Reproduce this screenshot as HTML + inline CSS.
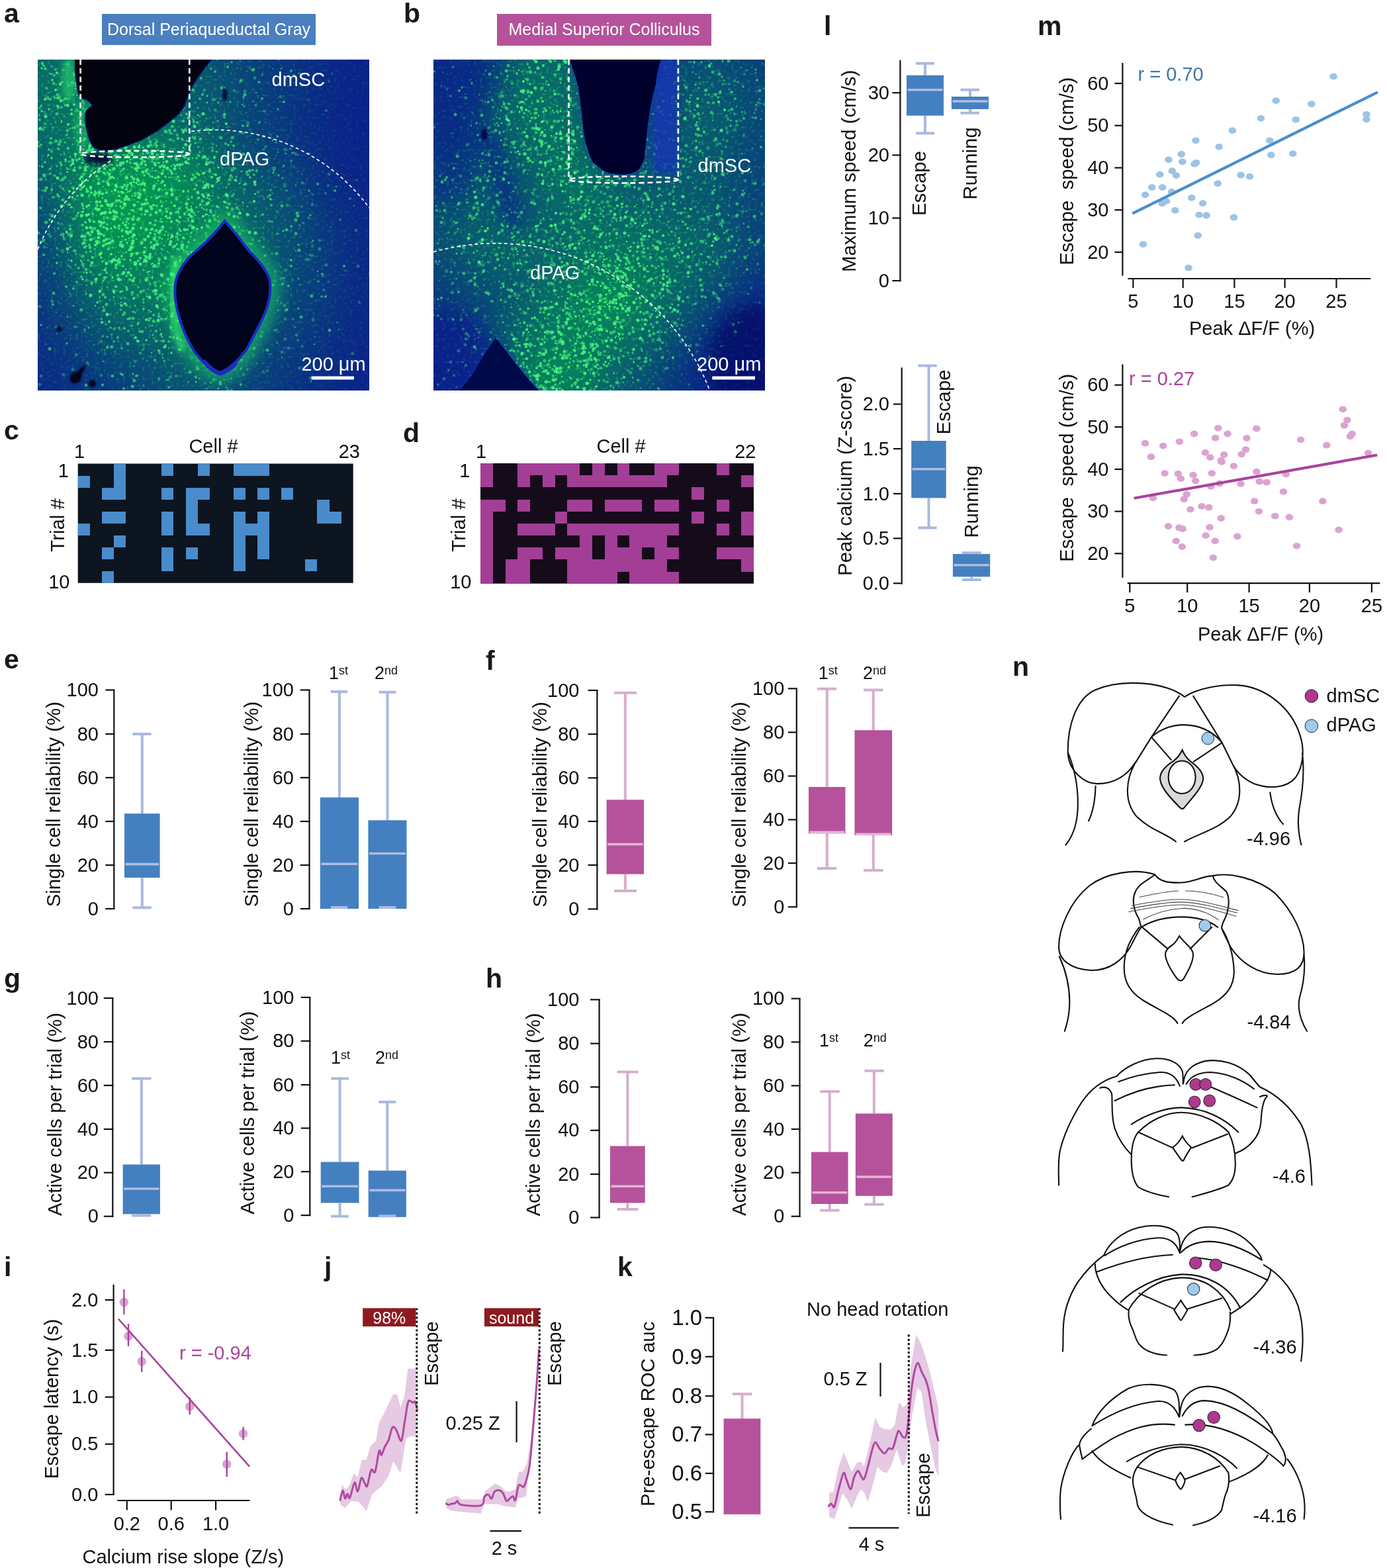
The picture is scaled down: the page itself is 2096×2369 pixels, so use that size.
<!DOCTYPE html><html><head><meta charset="utf-8"><title>Figure</title><style>html,body{margin:0;padding:0;background:#fff;}svg{display:block;}</style></head><body><svg width="2096" height="2369" viewBox="0 0 2096 2369" font-family="'Liberation Sans', Arial, Helvetica, sans-serif" font-size="29" fill="#111"><defs>
<filter id="bl12" x="-30%" y="-30%" width="160%" height="160%" color-interpolation-filters="sRGB"><feGaussianBlur stdDeviation="12"/></filter>
<filter id="bl25" x="-40%" y="-40%" width="180%" height="180%" color-interpolation-filters="sRGB"><feGaussianBlur stdDeviation="25"/></filter>
<filter id="bl40" x="-50%" y="-50%" width="200%" height="200%" color-interpolation-filters="sRGB"><feGaussianBlur stdDeviation="40"/></filter>
<filter id="bl4" x="-20%" y="-20%" width="140%" height="140%" color-interpolation-filters="sRGB"><feGaussianBlur stdDeviation="4"/></filter>
<filter id="bl2" x="-20%" y="-20%" width="140%" height="140%" color-interpolation-filters="sRGB"><feGaussianBlur stdDeviation="1.6"/></filter>
<filter id="spkA" x="0" y="0" width="501" height="500" filterUnits="userSpaceOnUse" color-interpolation-filters="sRGB">
 <feTurbulence type="fractalNoise" baseFrequency="0.21" numOctaves="1" seed="11" result="t"/>
 <feColorMatrix in="t" type="matrix" values="0 0 0 0 0.15  0 0 0 0 0.95  0 0 0 0 0.4  8 0 0 0 -4.55"/>
 <feGaussianBlur stdDeviation="0.6"/>
</filter>
<filter id="spkB" x="0" y="0" width="501" height="500" filterUnits="userSpaceOnUse" color-interpolation-filters="sRGB">
 <feTurbulence type="fractalNoise" baseFrequency="0.2" numOctaves="1" seed="5" result="t"/>
 <feColorMatrix in="t" type="matrix" values="0 0 0 0 0.15  0 0 0 0 0.95  0 0 0 0 0.4  8 0 0 0 -4.55"/>
 <feGaussianBlur stdDeviation="0.6"/>
</filter>

<pattern id="dotP" width="40" height="40" patternUnits="userSpaceOnUse" fill="#3cf070"><circle cx="13.7" cy="7.4" r="2.1" fill-opacity="0.58"/><circle cx="21.3" cy="15.2" r="1.4" fill-opacity="0.78"/><circle cx="3.3" cy="17.6" r="1.4" fill-opacity="0.59"/><circle cx="17.3" cy="31.8" r="1.5" fill-opacity="0.65"/><circle cx="24.6" cy="36.1" r="2.1" fill-opacity="0.73"/><circle cx="37.1" cy="3.7" r="2.4" fill-opacity="0.68"/><circle cx="7.2" cy="6.2" r="1.7" fill-opacity="0.92"/><circle cx="8.5" cy="22.9" r="2.1" fill-opacity="0.72"/><circle cx="21.7" cy="4.3" r="1.4" fill-opacity="0.64"/><circle cx="26.5" cy="17.4" r="1.7" fill-opacity="0.81"/><circle cx="18.3" cy="12.8" r="2.3" fill-opacity="0.86"/></pattern>
<filter id="jitA" x="0" y="0" width="501" height="500" filterUnits="userSpaceOnUse" color-interpolation-filters="sRGB"><feTurbulence type="fractalNoise" baseFrequency="0.03" numOctaves="1" seed="3" result="t"/><feDisplacementMap in="SourceGraphic" in2="t" scale="40" xChannelSelector="R" yChannelSelector="G"/></filter>
<filter id="jitB" x="0" y="0" width="501" height="500" filterUnits="userSpaceOnUse" color-interpolation-filters="sRGB"><feTurbulence type="fractalNoise" baseFrequency="0.03" numOctaves="1" seed="9" result="t"/><feDisplacementMap in="SourceGraphic" in2="t" scale="40" xChannelSelector="R" yChannelSelector="G"/></filter>
<clipPath id="clipImg"><rect x="0" y="0" width="501" height="500"/></clipPath>
</defs>
<defs><mask id="mA" maskUnits="userSpaceOnUse" x="0" y="0" width="501" height="500" mask-type="luminance">
<rect x="0" y="0" width="501" height="500" fill="#000"/>
<g filter="url(#bl25)">
<rect x="-30" y="-30" width="80.6" height="80.5" fill="#fff" fill-opacity="0.68"/>
<rect x="50.1" y="-30" width="50.6" height="80.5" fill="#fff" fill-opacity="0.71"/>
<rect x="100.2" y="-30" width="50.6" height="80.5" fill="#fff" fill-opacity="0.66"/>
<rect x="150.3" y="-30" width="50.6" height="80.5" fill="#fff" fill-opacity="0.57"/>
<rect x="200.4" y="-30" width="50.6" height="80.5" fill="#fff" fill-opacity="0.53"/>
<rect x="250.5" y="-30" width="50.6" height="80.5" fill="#fff" fill-opacity="0.49"/>
<rect x="300.6" y="-30" width="50.6" height="80.5" fill="#fff" fill-opacity="0.39"/>
<rect x="350.7" y="-30" width="50.6" height="80.5" fill="#fff" fill-opacity="0.32"/>
<rect x="400.8" y="-30" width="50.6" height="80.5" fill="#fff" fill-opacity="0.25"/>
<rect x="450.9" y="-30" width="80.6" height="80.5" fill="#fff" fill-opacity="0.19"/>
<rect x="-30" y="50" width="80.6" height="50.5" fill="#fff" fill-opacity="0.68"/>
<rect x="50.1" y="50" width="50.6" height="50.5" fill="#fff" fill-opacity="0.71"/>
<rect x="100.2" y="50" width="50.6" height="50.5" fill="#fff" fill-opacity="0.66"/>
<rect x="150.3" y="50" width="50.6" height="50.5" fill="#fff" fill-opacity="0.62"/>
<rect x="200.4" y="50" width="50.6" height="50.5" fill="#fff" fill-opacity="0.57"/>
<rect x="250.5" y="50" width="50.6" height="50.5" fill="#fff" fill-opacity="0.51"/>
<rect x="300.6" y="50" width="50.6" height="50.5" fill="#fff" fill-opacity="0.39"/>
<rect x="350.7" y="50" width="50.6" height="50.5" fill="#fff" fill-opacity="0.32"/>
<rect x="400.8" y="50" width="50.6" height="50.5" fill="#fff" fill-opacity="0.23"/>
<rect x="450.9" y="50" width="80.6" height="50.5" fill="#fff" fill-opacity="0.19"/>
<rect x="-30" y="100" width="80.6" height="50.5" fill="#fff" fill-opacity="0.64"/>
<rect x="50.1" y="100" width="50.6" height="50.5" fill="#fff" fill-opacity="0.76"/>
<rect x="100.2" y="100" width="50.6" height="50.5" fill="#fff" fill-opacity="0.74"/>
<rect x="150.3" y="100" width="50.6" height="50.5" fill="#fff" fill-opacity="0.70"/>
<rect x="200.4" y="100" width="50.6" height="50.5" fill="#fff" fill-opacity="0.68"/>
<rect x="250.5" y="100" width="50.6" height="50.5" fill="#fff" fill-opacity="0.53"/>
<rect x="300.6" y="100" width="50.6" height="50.5" fill="#fff" fill-opacity="0.41"/>
<rect x="350.7" y="100" width="50.6" height="50.5" fill="#fff" fill-opacity="0.32"/>
<rect x="400.8" y="100" width="50.6" height="50.5" fill="#fff" fill-opacity="0.23"/>
<rect x="450.9" y="100" width="80.6" height="50.5" fill="#fff" fill-opacity="0.19"/>
<rect x="-30" y="150" width="80.6" height="50.5" fill="#fff" fill-opacity="0.57"/>
<rect x="50.1" y="150" width="50.6" height="50.5" fill="#fff" fill-opacity="0.85"/>
<rect x="100.2" y="150" width="50.6" height="50.5" fill="#fff" fill-opacity="0.92"/>
<rect x="150.3" y="150" width="50.6" height="50.5" fill="#fff" fill-opacity="0.92"/>
<rect x="200.4" y="150" width="50.6" height="50.5" fill="#fff" fill-opacity="0.85"/>
<rect x="250.5" y="150" width="50.6" height="50.5" fill="#fff" fill-opacity="0.66"/>
<rect x="300.6" y="150" width="50.6" height="50.5" fill="#fff" fill-opacity="0.51"/>
<rect x="350.7" y="150" width="50.6" height="50.5" fill="#fff" fill-opacity="0.41"/>
<rect x="400.8" y="150" width="50.6" height="50.5" fill="#fff" fill-opacity="0.28"/>
<rect x="450.9" y="150" width="80.6" height="50.5" fill="#fff" fill-opacity="0.20"/>
<rect x="-30" y="200" width="80.6" height="50.5" fill="#fff" fill-opacity="0.51"/>
<rect x="50.1" y="200" width="50.6" height="50.5" fill="#fff" fill-opacity="0.87"/>
<rect x="100.2" y="200" width="50.6" height="50.5" fill="#fff" fill-opacity="0.96"/>
<rect x="150.3" y="200" width="50.6" height="50.5" fill="#fff" fill-opacity="0.92"/>
<rect x="200.4" y="200" width="50.6" height="50.5" fill="#fff" fill-opacity="0.83"/>
<rect x="250.5" y="200" width="50.6" height="50.5" fill="#fff" fill-opacity="0.68"/>
<rect x="300.6" y="200" width="50.6" height="50.5" fill="#fff" fill-opacity="0.57"/>
<rect x="350.7" y="200" width="50.6" height="50.5" fill="#fff" fill-opacity="0.49"/>
<rect x="400.8" y="200" width="50.6" height="50.5" fill="#fff" fill-opacity="0.32"/>
<rect x="450.9" y="200" width="80.6" height="50.5" fill="#fff" fill-opacity="0.22"/>
<rect x="-30" y="250" width="80.6" height="50.5" fill="#fff" fill-opacity="0.44"/>
<rect x="50.1" y="250" width="50.6" height="50.5" fill="#fff" fill-opacity="0.81"/>
<rect x="100.2" y="250" width="50.6" height="50.5" fill="#fff" fill-opacity="0.92"/>
<rect x="150.3" y="250" width="50.6" height="50.5" fill="#fff" fill-opacity="0.87"/>
<rect x="200.4" y="250" width="50.6" height="50.5" fill="#fff" fill-opacity="0.76"/>
<rect x="250.5" y="250" width="50.6" height="50.5" fill="#fff" fill-opacity="0.64"/>
<rect x="300.6" y="250" width="50.6" height="50.5" fill="#fff" fill-opacity="0.56"/>
<rect x="350.7" y="250" width="50.6" height="50.5" fill="#fff" fill-opacity="0.47"/>
<rect x="400.8" y="250" width="50.6" height="50.5" fill="#fff" fill-opacity="0.36"/>
<rect x="450.9" y="250" width="80.6" height="50.5" fill="#fff" fill-opacity="0.23"/>
<rect x="-30" y="300" width="80.6" height="50.5" fill="#fff" fill-opacity="0.39"/>
<rect x="50.1" y="300" width="50.6" height="50.5" fill="#fff" fill-opacity="0.68"/>
<rect x="100.2" y="300" width="50.6" height="50.5" fill="#fff" fill-opacity="0.79"/>
<rect x="150.3" y="300" width="50.6" height="50.5" fill="#fff" fill-opacity="0.76"/>
<rect x="200.4" y="300" width="50.6" height="50.5" fill="#fff" fill-opacity="0.74"/>
<rect x="250.5" y="300" width="50.6" height="50.5" fill="#fff" fill-opacity="0.66"/>
<rect x="300.6" y="300" width="50.6" height="50.5" fill="#fff" fill-opacity="0.53"/>
<rect x="350.7" y="300" width="50.6" height="50.5" fill="#fff" fill-opacity="0.45"/>
<rect x="400.8" y="300" width="50.6" height="50.5" fill="#fff" fill-opacity="0.36"/>
<rect x="450.9" y="300" width="80.6" height="50.5" fill="#fff" fill-opacity="0.23"/>
<rect x="-30" y="350" width="80.6" height="50.5" fill="#fff" fill-opacity="0.34"/>
<rect x="50.1" y="350" width="50.6" height="50.5" fill="#fff" fill-opacity="0.53"/>
<rect x="100.2" y="350" width="50.6" height="50.5" fill="#fff" fill-opacity="0.66"/>
<rect x="150.3" y="350" width="50.6" height="50.5" fill="#fff" fill-opacity="0.68"/>
<rect x="200.4" y="350" width="50.6" height="50.5" fill="#fff" fill-opacity="0.68"/>
<rect x="250.5" y="350" width="50.6" height="50.5" fill="#fff" fill-opacity="0.62"/>
<rect x="300.6" y="350" width="50.6" height="50.5" fill="#fff" fill-opacity="0.49"/>
<rect x="350.7" y="350" width="50.6" height="50.5" fill="#fff" fill-opacity="0.41"/>
<rect x="400.8" y="350" width="50.6" height="50.5" fill="#fff" fill-opacity="0.34"/>
<rect x="450.9" y="350" width="80.6" height="50.5" fill="#fff" fill-opacity="0.23"/>
<rect x="-30" y="400" width="80.6" height="50.5" fill="#fff" fill-opacity="0.30"/>
<rect x="50.1" y="400" width="50.6" height="50.5" fill="#fff" fill-opacity="0.41"/>
<rect x="100.2" y="400" width="50.6" height="50.5" fill="#fff" fill-opacity="0.53"/>
<rect x="150.3" y="400" width="50.6" height="50.5" fill="#fff" fill-opacity="0.57"/>
<rect x="200.4" y="400" width="50.6" height="50.5" fill="#fff" fill-opacity="0.62"/>
<rect x="250.5" y="400" width="50.6" height="50.5" fill="#fff" fill-opacity="0.57"/>
<rect x="300.6" y="400" width="50.6" height="50.5" fill="#fff" fill-opacity="0.45"/>
<rect x="350.7" y="400" width="50.6" height="50.5" fill="#fff" fill-opacity="0.36"/>
<rect x="400.8" y="400" width="50.6" height="50.5" fill="#fff" fill-opacity="0.30"/>
<rect x="450.9" y="400" width="80.6" height="50.5" fill="#fff" fill-opacity="0.22"/>
<rect x="-30" y="450" width="80.6" height="80.5" fill="#fff" fill-opacity="0.25"/>
<rect x="50.1" y="450" width="50.6" height="80.5" fill="#fff" fill-opacity="0.32"/>
<rect x="100.2" y="450" width="50.6" height="80.5" fill="#fff" fill-opacity="0.39"/>
<rect x="150.3" y="450" width="50.6" height="80.5" fill="#fff" fill-opacity="0.45"/>
<rect x="200.4" y="450" width="50.6" height="80.5" fill="#fff" fill-opacity="0.53"/>
<rect x="250.5" y="450" width="50.6" height="80.5" fill="#fff" fill-opacity="0.49"/>
<rect x="300.6" y="450" width="50.6" height="80.5" fill="#fff" fill-opacity="0.41"/>
<rect x="350.7" y="450" width="50.6" height="80.5" fill="#fff" fill-opacity="0.32"/>
<rect x="400.8" y="450" width="50.6" height="80.5" fill="#fff" fill-opacity="0.25"/>
<rect x="450.9" y="450" width="80.6" height="80.5" fill="#fff" fill-opacity="0.20"/>
</g>
</mask></defs>
<defs><mask id="mB" maskUnits="userSpaceOnUse" x="0" y="0" width="501" height="500" mask-type="luminance">
<rect x="0" y="0" width="501" height="500" fill="#000"/>
<g filter="url(#bl25)">
<rect x="-30" y="-30" width="80.6" height="80.5" fill="#fff" fill-opacity="0.28"/>
<rect x="50.1" y="-30" width="50.6" height="80.5" fill="#fff" fill-opacity="0.32"/>
<rect x="100.2" y="-30" width="50.6" height="80.5" fill="#fff" fill-opacity="0.62"/>
<rect x="150.3" y="-30" width="50.6" height="80.5" fill="#fff" fill-opacity="0.66"/>
<rect x="200.4" y="-30" width="50.6" height="80.5" fill="#fff" fill-opacity="0.57"/>
<rect x="250.5" y="-30" width="50.6" height="80.5" fill="#fff" fill-opacity="0.49"/>
<rect x="300.6" y="-30" width="50.6" height="80.5" fill="#fff" fill-opacity="0.41"/>
<rect x="350.7" y="-30" width="50.6" height="80.5" fill="#fff" fill-opacity="0.45"/>
<rect x="400.8" y="-30" width="50.6" height="80.5" fill="#fff" fill-opacity="0.49"/>
<rect x="450.9" y="-30" width="80.6" height="80.5" fill="#fff" fill-opacity="0.41"/>
<rect x="-30" y="50" width="80.6" height="50.5" fill="#fff" fill-opacity="0.28"/>
<rect x="50.1" y="50" width="50.6" height="50.5" fill="#fff" fill-opacity="0.41"/>
<rect x="100.2" y="50" width="50.6" height="50.5" fill="#fff" fill-opacity="0.66"/>
<rect x="150.3" y="50" width="50.6" height="50.5" fill="#fff" fill-opacity="0.68"/>
<rect x="200.4" y="50" width="50.6" height="50.5" fill="#fff" fill-opacity="0.57"/>
<rect x="250.5" y="50" width="50.6" height="50.5" fill="#fff" fill-opacity="0.49"/>
<rect x="300.6" y="50" width="50.6" height="50.5" fill="#fff" fill-opacity="0.41"/>
<rect x="350.7" y="50" width="50.6" height="50.5" fill="#fff" fill-opacity="0.53"/>
<rect x="400.8" y="50" width="50.6" height="50.5" fill="#fff" fill-opacity="0.57"/>
<rect x="450.9" y="50" width="80.6" height="50.5" fill="#fff" fill-opacity="0.45"/>
<rect x="-30" y="100" width="80.6" height="50.5" fill="#fff" fill-opacity="0.32"/>
<rect x="50.1" y="100" width="50.6" height="50.5" fill="#fff" fill-opacity="0.45"/>
<rect x="100.2" y="100" width="50.6" height="50.5" fill="#fff" fill-opacity="0.57"/>
<rect x="150.3" y="100" width="50.6" height="50.5" fill="#fff" fill-opacity="0.70"/>
<rect x="200.4" y="100" width="50.6" height="50.5" fill="#fff" fill-opacity="0.62"/>
<rect x="250.5" y="100" width="50.6" height="50.5" fill="#fff" fill-opacity="0.49"/>
<rect x="300.6" y="100" width="50.6" height="50.5" fill="#fff" fill-opacity="0.41"/>
<rect x="350.7" y="100" width="50.6" height="50.5" fill="#fff" fill-opacity="0.53"/>
<rect x="400.8" y="100" width="50.6" height="50.5" fill="#fff" fill-opacity="0.53"/>
<rect x="450.9" y="100" width="80.6" height="50.5" fill="#fff" fill-opacity="0.41"/>
<rect x="-30" y="150" width="80.6" height="50.5" fill="#fff" fill-opacity="0.41"/>
<rect x="50.1" y="150" width="50.6" height="50.5" fill="#fff" fill-opacity="0.53"/>
<rect x="100.2" y="150" width="50.6" height="50.5" fill="#fff" fill-opacity="0.45"/>
<rect x="150.3" y="150" width="50.6" height="50.5" fill="#fff" fill-opacity="0.68"/>
<rect x="200.4" y="150" width="50.6" height="50.5" fill="#fff" fill-opacity="0.70"/>
<rect x="250.5" y="150" width="50.6" height="50.5" fill="#fff" fill-opacity="0.53"/>
<rect x="300.6" y="150" width="50.6" height="50.5" fill="#fff" fill-opacity="0.51"/>
<rect x="350.7" y="150" width="50.6" height="50.5" fill="#fff" fill-opacity="0.53"/>
<rect x="400.8" y="150" width="50.6" height="50.5" fill="#fff" fill-opacity="0.51"/>
<rect x="450.9" y="150" width="80.6" height="50.5" fill="#fff" fill-opacity="0.41"/>
<rect x="-30" y="200" width="80.6" height="50.5" fill="#fff" fill-opacity="0.45"/>
<rect x="50.1" y="200" width="50.6" height="50.5" fill="#fff" fill-opacity="0.53"/>
<rect x="100.2" y="200" width="50.6" height="50.5" fill="#fff" fill-opacity="0.45"/>
<rect x="150.3" y="200" width="50.6" height="50.5" fill="#fff" fill-opacity="0.57"/>
<rect x="200.4" y="200" width="50.6" height="50.5" fill="#fff" fill-opacity="0.66"/>
<rect x="250.5" y="200" width="50.6" height="50.5" fill="#fff" fill-opacity="0.62"/>
<rect x="300.6" y="200" width="50.6" height="50.5" fill="#fff" fill-opacity="0.57"/>
<rect x="350.7" y="200" width="50.6" height="50.5" fill="#fff" fill-opacity="0.53"/>
<rect x="400.8" y="200" width="50.6" height="50.5" fill="#fff" fill-opacity="0.51"/>
<rect x="450.9" y="200" width="80.6" height="50.5" fill="#fff" fill-opacity="0.41"/>
<rect x="-30" y="250" width="80.6" height="50.5" fill="#fff" fill-opacity="0.49"/>
<rect x="50.1" y="250" width="50.6" height="50.5" fill="#fff" fill-opacity="0.62"/>
<rect x="100.2" y="250" width="50.6" height="50.5" fill="#fff" fill-opacity="0.62"/>
<rect x="150.3" y="250" width="50.6" height="50.5" fill="#fff" fill-opacity="0.57"/>
<rect x="200.4" y="250" width="50.6" height="50.5" fill="#fff" fill-opacity="0.66"/>
<rect x="250.5" y="250" width="50.6" height="50.5" fill="#fff" fill-opacity="0.68"/>
<rect x="300.6" y="250" width="50.6" height="50.5" fill="#fff" fill-opacity="0.66"/>
<rect x="350.7" y="250" width="50.6" height="50.5" fill="#fff" fill-opacity="0.62"/>
<rect x="400.8" y="250" width="50.6" height="50.5" fill="#fff" fill-opacity="0.57"/>
<rect x="450.9" y="250" width="80.6" height="50.5" fill="#fff" fill-opacity="0.41"/>
<rect x="-30" y="300" width="80.6" height="50.5" fill="#fff" fill-opacity="0.41"/>
<rect x="50.1" y="300" width="50.6" height="50.5" fill="#fff" fill-opacity="0.49"/>
<rect x="100.2" y="300" width="50.6" height="50.5" fill="#fff" fill-opacity="0.53"/>
<rect x="150.3" y="300" width="50.6" height="50.5" fill="#fff" fill-opacity="0.62"/>
<rect x="200.4" y="300" width="50.6" height="50.5" fill="#fff" fill-opacity="0.70"/>
<rect x="250.5" y="300" width="50.6" height="50.5" fill="#fff" fill-opacity="0.79"/>
<rect x="300.6" y="300" width="50.6" height="50.5" fill="#fff" fill-opacity="0.70"/>
<rect x="350.7" y="300" width="50.6" height="50.5" fill="#fff" fill-opacity="0.62"/>
<rect x="400.8" y="300" width="50.6" height="50.5" fill="#fff" fill-opacity="0.53"/>
<rect x="450.9" y="300" width="80.6" height="50.5" fill="#fff" fill-opacity="0.32"/>
<rect x="-30" y="350" width="80.6" height="50.5" fill="#fff" fill-opacity="0.32"/>
<rect x="50.1" y="350" width="50.6" height="50.5" fill="#fff" fill-opacity="0.41"/>
<rect x="100.2" y="350" width="50.6" height="50.5" fill="#fff" fill-opacity="0.53"/>
<rect x="150.3" y="350" width="50.6" height="50.5" fill="#fff" fill-opacity="0.66"/>
<rect x="200.4" y="350" width="50.6" height="50.5" fill="#fff" fill-opacity="0.79"/>
<rect x="250.5" y="350" width="50.6" height="50.5" fill="#fff" fill-opacity="0.87"/>
<rect x="300.6" y="350" width="50.6" height="50.5" fill="#fff" fill-opacity="0.70"/>
<rect x="350.7" y="350" width="50.6" height="50.5" fill="#fff" fill-opacity="0.53"/>
<rect x="400.8" y="350" width="50.6" height="50.5" fill="#fff" fill-opacity="0.36"/>
<rect x="450.9" y="350" width="80.6" height="50.5" fill="#fff" fill-opacity="0.22"/>
<rect x="-30" y="400" width="80.6" height="50.5" fill="#fff" fill-opacity="0.28"/>
<rect x="50.1" y="400" width="50.6" height="50.5" fill="#fff" fill-opacity="0.36"/>
<rect x="100.2" y="400" width="50.6" height="50.5" fill="#fff" fill-opacity="0.62"/>
<rect x="150.3" y="400" width="50.6" height="50.5" fill="#fff" fill-opacity="0.74"/>
<rect x="200.4" y="400" width="50.6" height="50.5" fill="#fff" fill-opacity="0.79"/>
<rect x="250.5" y="400" width="50.6" height="50.5" fill="#fff" fill-opacity="0.70"/>
<rect x="300.6" y="400" width="50.6" height="50.5" fill="#fff" fill-opacity="0.57"/>
<rect x="350.7" y="400" width="50.6" height="50.5" fill="#fff" fill-opacity="0.41"/>
<rect x="400.8" y="400" width="50.6" height="50.5" fill="#fff" fill-opacity="0.23"/>
<rect x="450.9" y="400" width="80.6" height="50.5" fill="#fff" fill-opacity="0.18"/>
<rect x="-30" y="450" width="80.6" height="80.5" fill="#fff" fill-opacity="0.25"/>
<rect x="50.1" y="450" width="50.6" height="80.5" fill="#fff" fill-opacity="0.32"/>
<rect x="100.2" y="450" width="50.6" height="80.5" fill="#fff" fill-opacity="0.66"/>
<rect x="150.3" y="450" width="50.6" height="80.5" fill="#fff" fill-opacity="0.83"/>
<rect x="200.4" y="450" width="50.6" height="80.5" fill="#fff" fill-opacity="0.74"/>
<rect x="250.5" y="450" width="50.6" height="80.5" fill="#fff" fill-opacity="0.57"/>
<rect x="300.6" y="450" width="50.6" height="80.5" fill="#fff" fill-opacity="0.45"/>
<rect x="350.7" y="450" width="50.6" height="80.5" fill="#fff" fill-opacity="0.28"/>
<rect x="400.8" y="450" width="50.6" height="80.5" fill="#fff" fill-opacity="0.19"/>
<rect x="450.9" y="450" width="80.6" height="80.5" fill="#fff" fill-opacity="0.18"/>
</g>
</mask></defs>
<g transform="translate(57 90)" clip-path="url(#clipImg)">
<rect x="0" y="0" width="501" height="500" fill="#0b1c8e"/>
<g filter="url(#bl25)">
<rect x="-30" y="-30" width="80.6" height="80.5" fill="#07a04e" fill-opacity="0.62"/>
<rect x="50.1" y="-30" width="50.6" height="80.5" fill="#07a04e" fill-opacity="0.66"/>
<rect x="100.2" y="-30" width="50.6" height="80.5" fill="#07a04e" fill-opacity="0.60"/>
<rect x="150.3" y="-30" width="50.6" height="80.5" fill="#07a04e" fill-opacity="0.50"/>
<rect x="200.4" y="-30" width="50.6" height="80.5" fill="#07a04e" fill-opacity="0.45"/>
<rect x="250.5" y="-30" width="50.6" height="80.5" fill="#07a04e" fill-opacity="0.40"/>
<rect x="300.6" y="-30" width="50.6" height="80.5" fill="#07a04e" fill-opacity="0.28"/>
<rect x="350.7" y="-30" width="50.6" height="80.5" fill="#07a04e" fill-opacity="0.20"/>
<rect x="400.8" y="-30" width="50.6" height="80.5" fill="#07a04e" fill-opacity="0.12"/>
<rect x="450.9" y="-30" width="80.6" height="80.5" fill="#07a04e" fill-opacity="0.05"/>
<rect x="-30" y="50" width="80.6" height="50.5" fill="#07a04e" fill-opacity="0.62"/>
<rect x="50.1" y="50" width="50.6" height="50.5" fill="#07a04e" fill-opacity="0.66"/>
<rect x="100.2" y="50" width="50.6" height="50.5" fill="#07a04e" fill-opacity="0.60"/>
<rect x="150.3" y="50" width="50.6" height="50.5" fill="#07a04e" fill-opacity="0.55"/>
<rect x="200.4" y="50" width="50.6" height="50.5" fill="#07a04e" fill-opacity="0.50"/>
<rect x="250.5" y="50" width="50.6" height="50.5" fill="#07a04e" fill-opacity="0.42"/>
<rect x="300.6" y="50" width="50.6" height="50.5" fill="#07a04e" fill-opacity="0.28"/>
<rect x="350.7" y="50" width="50.6" height="50.5" fill="#07a04e" fill-opacity="0.20"/>
<rect x="400.8" y="50" width="50.6" height="50.5" fill="#07a04e" fill-opacity="0.10"/>
<rect x="450.9" y="50" width="80.6" height="50.5" fill="#07a04e" fill-opacity="0.05"/>
<rect x="-30" y="100" width="80.6" height="50.5" fill="#07a04e" fill-opacity="0.58"/>
<rect x="50.1" y="100" width="50.6" height="50.5" fill="#07a04e" fill-opacity="0.72"/>
<rect x="100.2" y="100" width="50.6" height="50.5" fill="#07a04e" fill-opacity="0.70"/>
<rect x="150.3" y="100" width="50.6" height="50.5" fill="#07a04e" fill-opacity="0.65"/>
<rect x="200.4" y="100" width="50.6" height="50.5" fill="#07a04e" fill-opacity="0.62"/>
<rect x="250.5" y="100" width="50.6" height="50.5" fill="#07a04e" fill-opacity="0.45"/>
<rect x="300.6" y="100" width="50.6" height="50.5" fill="#07a04e" fill-opacity="0.30"/>
<rect x="350.7" y="100" width="50.6" height="50.5" fill="#07a04e" fill-opacity="0.20"/>
<rect x="400.8" y="100" width="50.6" height="50.5" fill="#07a04e" fill-opacity="0.10"/>
<rect x="450.9" y="100" width="80.6" height="50.5" fill="#07a04e" fill-opacity="0.05"/>
<rect x="-30" y="150" width="80.6" height="50.5" fill="#07a04e" fill-opacity="0.50"/>
<rect x="50.1" y="150" width="50.6" height="50.5" fill="#07a04e" fill-opacity="0.82"/>
<rect x="100.2" y="150" width="50.6" height="50.5" fill="#07a04e" fill-opacity="0.90"/>
<rect x="150.3" y="150" width="50.6" height="50.5" fill="#07a04e" fill-opacity="0.90"/>
<rect x="200.4" y="150" width="50.6" height="50.5" fill="#07a04e" fill-opacity="0.82"/>
<rect x="250.5" y="150" width="50.6" height="50.5" fill="#07a04e" fill-opacity="0.60"/>
<rect x="300.6" y="150" width="50.6" height="50.5" fill="#07a04e" fill-opacity="0.42"/>
<rect x="350.7" y="150" width="50.6" height="50.5" fill="#07a04e" fill-opacity="0.30"/>
<rect x="400.8" y="150" width="50.6" height="50.5" fill="#07a04e" fill-opacity="0.15"/>
<rect x="450.9" y="150" width="80.6" height="50.5" fill="#07a04e" fill-opacity="0.06"/>
<rect x="-30" y="200" width="80.6" height="50.5" fill="#07a04e" fill-opacity="0.42"/>
<rect x="50.1" y="200" width="50.6" height="50.5" fill="#07a04e" fill-opacity="0.85"/>
<rect x="100.2" y="200" width="50.6" height="50.5" fill="#07a04e" fill-opacity="0.95"/>
<rect x="150.3" y="200" width="50.6" height="50.5" fill="#07a04e" fill-opacity="0.90"/>
<rect x="200.4" y="200" width="50.6" height="50.5" fill="#07a04e" fill-opacity="0.80"/>
<rect x="250.5" y="200" width="50.6" height="50.5" fill="#07a04e" fill-opacity="0.62"/>
<rect x="300.6" y="200" width="50.6" height="50.5" fill="#07a04e" fill-opacity="0.50"/>
<rect x="350.7" y="200" width="50.6" height="50.5" fill="#07a04e" fill-opacity="0.40"/>
<rect x="400.8" y="200" width="50.6" height="50.5" fill="#07a04e" fill-opacity="0.20"/>
<rect x="450.9" y="200" width="80.6" height="50.5" fill="#07a04e" fill-opacity="0.08"/>
<rect x="-30" y="250" width="80.6" height="50.5" fill="#07a04e" fill-opacity="0.34"/>
<rect x="50.1" y="250" width="50.6" height="50.5" fill="#07a04e" fill-opacity="0.78"/>
<rect x="100.2" y="250" width="50.6" height="50.5" fill="#07a04e" fill-opacity="0.90"/>
<rect x="150.3" y="250" width="50.6" height="50.5" fill="#07a04e" fill-opacity="0.85"/>
<rect x="200.4" y="250" width="50.6" height="50.5" fill="#07a04e" fill-opacity="0.72"/>
<rect x="250.5" y="250" width="50.6" height="50.5" fill="#07a04e" fill-opacity="0.58"/>
<rect x="300.6" y="250" width="50.6" height="50.5" fill="#07a04e" fill-opacity="0.48"/>
<rect x="350.7" y="250" width="50.6" height="50.5" fill="#07a04e" fill-opacity="0.38"/>
<rect x="400.8" y="250" width="50.6" height="50.5" fill="#07a04e" fill-opacity="0.25"/>
<rect x="450.9" y="250" width="80.6" height="50.5" fill="#07a04e" fill-opacity="0.10"/>
<rect x="-30" y="300" width="80.6" height="50.5" fill="#07a04e" fill-opacity="0.28"/>
<rect x="50.1" y="300" width="50.6" height="50.5" fill="#07a04e" fill-opacity="0.62"/>
<rect x="100.2" y="300" width="50.6" height="50.5" fill="#07a04e" fill-opacity="0.75"/>
<rect x="150.3" y="300" width="50.6" height="50.5" fill="#07a04e" fill-opacity="0.72"/>
<rect x="200.4" y="300" width="50.6" height="50.5" fill="#07a04e" fill-opacity="0.70"/>
<rect x="250.5" y="300" width="50.6" height="50.5" fill="#07a04e" fill-opacity="0.60"/>
<rect x="300.6" y="300" width="50.6" height="50.5" fill="#07a04e" fill-opacity="0.45"/>
<rect x="350.7" y="300" width="50.6" height="50.5" fill="#07a04e" fill-opacity="0.35"/>
<rect x="400.8" y="300" width="50.6" height="50.5" fill="#07a04e" fill-opacity="0.25"/>
<rect x="450.9" y="300" width="80.6" height="50.5" fill="#07a04e" fill-opacity="0.10"/>
<rect x="-30" y="350" width="80.6" height="50.5" fill="#07a04e" fill-opacity="0.22"/>
<rect x="50.1" y="350" width="50.6" height="50.5" fill="#07a04e" fill-opacity="0.45"/>
<rect x="100.2" y="350" width="50.6" height="50.5" fill="#07a04e" fill-opacity="0.60"/>
<rect x="150.3" y="350" width="50.6" height="50.5" fill="#07a04e" fill-opacity="0.62"/>
<rect x="200.4" y="350" width="50.6" height="50.5" fill="#07a04e" fill-opacity="0.62"/>
<rect x="250.5" y="350" width="50.6" height="50.5" fill="#07a04e" fill-opacity="0.55"/>
<rect x="300.6" y="350" width="50.6" height="50.5" fill="#07a04e" fill-opacity="0.40"/>
<rect x="350.7" y="350" width="50.6" height="50.5" fill="#07a04e" fill-opacity="0.30"/>
<rect x="400.8" y="350" width="50.6" height="50.5" fill="#07a04e" fill-opacity="0.22"/>
<rect x="450.9" y="350" width="80.6" height="50.5" fill="#07a04e" fill-opacity="0.10"/>
<rect x="-30" y="400" width="80.6" height="50.5" fill="#07a04e" fill-opacity="0.18"/>
<rect x="50.1" y="400" width="50.6" height="50.5" fill="#07a04e" fill-opacity="0.30"/>
<rect x="100.2" y="400" width="50.6" height="50.5" fill="#07a04e" fill-opacity="0.45"/>
<rect x="150.3" y="400" width="50.6" height="50.5" fill="#07a04e" fill-opacity="0.50"/>
<rect x="200.4" y="400" width="50.6" height="50.5" fill="#07a04e" fill-opacity="0.55"/>
<rect x="250.5" y="400" width="50.6" height="50.5" fill="#07a04e" fill-opacity="0.50"/>
<rect x="300.6" y="400" width="50.6" height="50.5" fill="#07a04e" fill-opacity="0.35"/>
<rect x="350.7" y="400" width="50.6" height="50.5" fill="#07a04e" fill-opacity="0.25"/>
<rect x="400.8" y="400" width="50.6" height="50.5" fill="#07a04e" fill-opacity="0.18"/>
<rect x="450.9" y="400" width="80.6" height="50.5" fill="#07a04e" fill-opacity="0.08"/>
<rect x="-30" y="450" width="80.6" height="80.5" fill="#07a04e" fill-opacity="0.12"/>
<rect x="50.1" y="450" width="50.6" height="80.5" fill="#07a04e" fill-opacity="0.20"/>
<rect x="100.2" y="450" width="50.6" height="80.5" fill="#07a04e" fill-opacity="0.28"/>
<rect x="150.3" y="450" width="50.6" height="80.5" fill="#07a04e" fill-opacity="0.35"/>
<rect x="200.4" y="450" width="50.6" height="80.5" fill="#07a04e" fill-opacity="0.45"/>
<rect x="250.5" y="450" width="50.6" height="80.5" fill="#07a04e" fill-opacity="0.40"/>
<rect x="300.6" y="450" width="50.6" height="80.5" fill="#07a04e" fill-opacity="0.30"/>
<rect x="350.7" y="450" width="50.6" height="80.5" fill="#07a04e" fill-opacity="0.20"/>
<rect x="400.8" y="450" width="50.6" height="80.5" fill="#07a04e" fill-opacity="0.12"/>
<rect x="450.9" y="450" width="80.6" height="80.5" fill="#07a04e" fill-opacity="0.06"/>
</g>
<g mask="url(#mA)"><rect x="0" y="0" width="501" height="500" filter="url(#spkA)" opacity="0.4"/></g>
<path d="M299 147h0M14 405h0M344 95h0M96 440h0M264 367h0M28 382h0M259 495h0M390 245h0M6 210h0M419 419h0M293 362h0M77 461h0M409 337h0M443 253h0M15 313h0M399 173h0M180 402h0M409 61h0M413 276h0M501 323h0M381 324h0M48 369h0M265 116h0M12 430h0M143 482h0M140 8h0M310 220h0M333 57h0M300 426h0M31 366h0M381 209h0M302 275h0M4 325h0M25 300h0M373 370h0M8 228h0M356 14h0M221 426h0M165 455h0M339 390h0M233 26h0M291 413h0M285 386h0M217 448h0M284 380h0M445 21h0M418 332h0M315 80h0M354 189h0M367 313h0M40 328h0M10 246h0M380 274h0M316 18h0M14 284h0M55 342h0M243 26h0M93 375h0M286 474h0M336 34h0M327 500h0M305 35h0M172 448h0M365 1h0M88 466h0M395 255h0M176 466h0M372 55h0M69 393h0M75 445h0M383 355h0M280 51h0M301 13h0" stroke="#46f27c" stroke-width="2.6" stroke-linecap="round" stroke-opacity="0.35" fill="none"/>
<path d="M328 308h0M59 123h0M287 312h0M12 181h0M189 355h0M45 113h0M362 428h0M68 258h0M274 340h0M220 357h0M256 497h0M36 248h0M293 329h0M300 184h0M97 347h0M102 17h0M36 92h0M200 21h0M64 27h0M99 456h0M363 379h0M372 160h0M74 81h0M98 337h0M199 240h0M45 279h0M176 41h0M191 88h0M22 245h0M330 50h0M411 295h0M45 291h0M255 89h0M117 119h0M126 361h0M418 430h0M115 408h0M236 320h0M255 151h0M7 198h0M274 223h0M213 233h0M355 122h0M65 303h0M3 161h0M203 409h0M112 39h0M21 237h0M203 100h0M221 30h0M198 336h0M326 304h0M274 251h0M29 295h0M35 144h0M221 407h0M225 225h0M194 214h0M141 7h0M245 86h0M234 420h0M74 341h0M242 301h0M114 334h0M194 484h0M206 326h0M40 86h0M157 220h0M225 284h0M209 173h0M220 122h0M118 298h0M266 353h0M106 182h0M304 454h0M145 463h0M142 162h0M183 481h0M28 38h0M251 362h0M198 436h0M299 218h0M261 281h0M328 203h0M54 372h0M59 54h0M10 79h0M189 366h0M31 59h0M206 16h0M16 50h0M195 313h0M80 215h0M158 439h0M262 213h0M45 35h0M185 408h0M289 313h0M172 443h0M413 486h0M271 0h0M189 445h0M219 287h0M105 344h0M196 290h0M160 80h0M84 127h0M118 86h0M191 434h0M104 329h0M248 391h0M183 305h0M217 84h0M43 259h0M141 325h0M185 62h0M85 271h0M176 20h0M217 375h0M126 367h0M296 268h0M54 195h0M244 482h0M27 176h0M104 40h0M260 373h0M306 368h0M238 65h0M122 291h0M42 151h0M181 363h0M390 289h0M249 424h0M22 195h0M94 366h0M275 178h0M265 95h0M317 468h0M260 210h0M186 425h0M249 392h0M167 325h0M285 171h0M259 236h0M116 353h0M166 347h0M276 304h0M264 206h0M224 383h0M175 421h0M225 108h0M170 91h0M240 464h0M309 68h0M57 211h0M92 0h0M305 310h0M99 192h0M311 189h0M93 26h0M254 147h0M390 190h0M225 433h0M451 192h0M243 230h0M172 53h0M40 198h0M109 363h0M333 141h0M240 434h0M129 325h0M212 76h0M375 142h0M423 320h0M49 104h0M113 82h0M189 451h0M16 60h0M254 342h0M206 196h0M79 126h0M253 12h0M15 146h0M45 389h0M289 147h0M167 1h0M3 74h0M167 119h0M266 173h0M53 128h0M316 258h0M260 341h0M136 121h0M205 123h0M50 187h0M361 408h0M237 272h0M291 256h0M44 21h0M288 431h0M70 322h0M270 130h0M238 407h0M13 13h0M193 195h0M46 118h0M160 8h0M3 132h0M296 163h0M287 249h0M140 126h0M27 95h0M45 219h0M188 234h0M142 356h0M312 380h0M242 73h0M213 421h0M10 103h0M193 204h0M238 116h0M7 198h0M167 65h0M270 473h0M67 38h0M179 133h0M279 164h0M98 318h0M310 349h0M323 154h0M122 126h0M276 59h0M221 93h0M105 136h0M317 222h0M119 315h0M264 236h0M95 222h0M214 150h0M38 227h0M83 9h0M87 19h0M99 95h0M326 448h0" stroke="#46f27c" stroke-width="2.6" stroke-linecap="round" stroke-opacity="0.6" fill="none"/>
<path d="M115 145h0M268 320h0M100 238h0M194 225h0M178 310h0M171 381h0M239 487h0M169 247h0M102 212h0M199 178h0M119 73h0M173 108h0M137 248h0M88 13h0M133 107h0M188 271h0M226 142h0M76 183h0M99 334h0M219 59h0M228 243h0M100 267h0M190 144h0M190 137h0M115 359h0M162 234h0M74 195h0M192 265h0M90 225h0M254 194h0M132 148h0M132 190h0M113 303h0M231 267h0M87 372h0M159 218h0M248 224h0M100 241h0M54 53h0M129 323h0M215 265h0M157 224h0M134 291h0M122 268h0M254 262h0M170 234h0M170 339h0M199 340h0M69 156h0M248 253h0M103 255h0M39 268h0M103 315h0M161 296h0M138 270h0M144 78h0M131 250h0M167 149h0M100 329h0M10 10h0M137 241h0M256 65h0M118 149h0M243 132h0M201 322h0M107 141h0M55 24h0M201 270h0M91 188h0M136 200h0M182 183h0M195 379h0M180 210h0M148 310h0M103 254h0M168 379h0M79 58h0M228 123h0M196 240h0M228 151h0M209 181h0M178 268h0M252 310h0M247 301h0M161 284h0M142 189h0M224 290h0M236 273h0M109 22h0M203 112h0M88 71h0M192 359h0M220 133h0M232 222h0M259 293h0M125 169h0M94 277h0M52 207h0M242 84h0M135 4h0M144 381h0M49 251h0M151 215h0M125 241h0M217 316h0M183 439h0M94 168h0M57 44h0M190 150h0M2 105h0M276 271h0M189 257h0M66 49h0M131 302h0M96 293h0M75 162h0M75 235h0M289 188h0M329 203h0M272 237h0M1 130h0M149 187h0M40 142h0M98 209h0M173 164h0M61 129h0M85 171h0M66 305h0M173 328h0M179 209h0M234 149h0M81 339h0M203 264h0M229 345h0M163 136h0M186 91h0M141 196h0M162 189h0M226 282h0M227 240h0M155 150h0M26 58h0M186 257h0M227 342h0M45 170h0M251 226h0M60 13h0M248 354h0M195 165h0M172 282h0M137 288h0M215 379h0M141 81h0M66 12h0M73 291h0M81 168h0M133 368h0M109 226h0M169 320h0M183 86h0M209 208h0M243 158h0M111 68h0M148 205h0M290 233h0M211 338h0M217 432h0M36 94h0M133 317h0M310 216h0M170 176h0M112 199h0M56 163h0M143 206h0M46 166h0M228 275h0M174 308h0M187 222h0M73 158h0M113 159h0M16 144h0M122 145h0M66 113h0M105 138h0M191 81h0M225 230h0M154 129h0M113 25h0M316 352h0M287 390h0M287 288h0M124 102h0M95 325h0M70 153h0M202 216h0M260 425h0M187 286h0M123 334h0M172 208h0M108 304h0M197 352h0M99 374h0M73 76h0M139 286h0M94 359h0M194 260h0M283 349h0M77 141h0M76 303h0M151 425h0M105 170h0M76 161h0M21 22h0M71 40h0M256 209h0M168 116h0M70 283h0M67 148h0M153 206h0M141 227h0M149 271h0M304 253h0M115 230h0M58 22h0M92 206h0M195 391h0M49 147h0M118 221h0M127 225h0M256 234h0M228 277h0M178 168h0M55 118h0M162 284h0M197 271h0M271 185h0M160 306h0M165 172h0M197 266h0M18 21h0M155 205h0M147 206h0M105 102h0M142 191h0M41 59h0M161 187h0M186 241h0M100 184h0M126 333h0M57 147h0M253 274h0M90 112h0M235 311h0M112 159h0M224 128h0M108 181h0M248 335h0M182 156h0M191 128h0M190 155h0M214 164h0M187 414h0M186 214h0M172 309h0" stroke="#46f27c" stroke-width="2.6" stroke-linecap="round" stroke-opacity="0.9" fill="none"/>
<path d="M369 450h0M331 386h0M310 258h0M211 61h0M85 431h0M465 319h0M346 326h0M387 162h0M117 441h0M264 474h0M48 353h0M453 397h0M1 274h0M368 14h0M39 221h0M393 144h0M159 452h0M363 140h0M101 439h0M440 33h0M203 435h0M315 173h0M251 386h0M371 162h0M331 459h0M339 177h0M163 405h0M265 128h0M29 414h0M342 272h0M267 60h0M326 63h0M482 182h0M253 489h0M171 410h0M167 85h0M220 76h0M51 324h0M259 439h0M333 158h0M318 403h0M102 444h0M352 113h0M146 421h0M47 303h0M29 308h0M112 415h0M282 484h0M59 404h0M321 13h0M455 408h0M396 340h0M299 468h0M339 23h0M228 487h0M0 259h0M50 357h0M306 2h0M396 251h0M389 404h0M385 332h0M415 204h0M246 105h0M310 111h0M304 263h0M123 407h0M439 336h0M222 467h0M7 276h0M321 359h0M160 437h0M478 221h0M342 117h0M352 445h0" stroke="#46f27c" stroke-width="3.4" stroke-linecap="round" stroke-opacity="0.35" fill="none"/>
<path d="M302 288h0M125 23h0M332 374h0M291 362h0M153 159h0M225 123h0M46 70h0M38 16h0M297 402h0M269 475h0M335 274h0M307 148h0M43 114h0M151 304h0M372 330h0M191 455h0M202 161h0M255 154h0M179 151h0M273 65h0M98 184h0M334 34h0M307 467h0M201 26h0M250 326h0M210 6h0M250 392h0M262 488h0M2 84h0M31 255h0M298 410h0M190 358h0M292 124h0M333 121h0M43 114h0M83 256h0M77 405h0M44 429h0M120 53h0M190 167h0M74 333h0M245 219h0M274 320h0M160 367h0M273 497h0M293 4h0M92 163h0M266 398h0M362 263h0M57 310h0M195 110h0M25 175h0M117 406h0M184 207h0M71 52h0M231 128h0M191 281h0M223 105h0M96 392h0M234 117h0M70 34h0M268 270h0M66 22h0M128 65h0M363 75h0M274 368h0M136 392h0M238 235h0M385 141h0M59 10h0M394 280h0M364 175h0M41 69h0M306 263h0M325 354h0M232 250h0M113 284h0M95 68h0M84 255h0M86 113h0M31 247h0M251 462h0M308 169h0M240 223h0M229 107h0M321 408h0M244 110h0M60 110h0M235 91h0M41 125h0M48 154h0M125 378h0M253 243h0M168 391h0M303 238h0M151 356h0M191 132h0M42 154h0M316 437h0M103 400h0M127 436h0M208 370h0M123 405h0M298 165h0M29 285h0M429 358h0M128 350h0M305 187h0M160 318h0M71 408h0M70 66h0M255 367h0M160 78h0M270 418h0M101 71h0M394 376h0M282 438h0M154 111h0M264 133h0M294 178h0M174 416h0M127 324h0M171 391h0M350 244h0M197 484h0M354 245h0M98 418h0M270 139h0M238 126h0M238 371h0M323 289h0M362 116h0M285 193h0M126 64h0M316 380h0M127 275h0M109 277h0M267 240h0M80 42h0M251 343h0M231 319h0M296 203h0M261 439h0M101 332h0M416 274h0M255 304h0M265 61h0M74 52h0M137 90h0M287 499h0M225 83h0M160 362h0M152 344h0M352 197h0M82 271h0M275 178h0M150 104h0M73 354h0M284 306h0M173 402h0M356 171h0M329 189h0M155 443h0M357 167h0M239 23h0M101 144h0M128 79h0M93 145h0M98 491h0M226 291h0M171 58h0M249 148h0M147 382h0M25 56h0M21 10h0M188 419h0M217 382h0M56 200h0M159 133h0M412 235h0M140 333h0M285 223h0M283 250h0M302 237h0M280 396h0M39 61h0M35 265h0M128 72h0M291 64h0M151 400h0M132 360h0M85 202h0M245 140h0M144 475h0M265 424h0M281 377h0M342 78h0M93 147h0M270 414h0M86 286h0M216 401h0M303 401h0M30 70h0M47 59h0M284 295h0M51 35h0M206 94h0M288 233h0M170 361h0M241 10h0M262 14h0M259 211h0M291 176h0M157 234h0M234 252h0M250 185h0M218 275h0M105 419h0M236 303h0M221 288h0M19 172h0M165 358h0M256 55h0M219 328h0M92 200h0M88 336h0M273 209h0M267 235h0M400 186h0M286 223h0M311 57h0M98 99h0M299 320h0M259 111h0M341 283h0M58 39h0M29 161h0M252 46h0M115 426h0M281 301h0M272 93h0M183 384h0M205 327h0M300 177h0M265 104h0M69 313h0M229 401h0M110 405h0M255 267h0M244 339h0M323 279h0M231 138h0M198 239h0M223 392h0M335 95h0M148 1h0M114 60h0M5 401h0M147 372h0M44 164h0M58 294h0M100 122h0M266 462h0M410 198h0M371 259h0M23 103h0" stroke="#46f27c" stroke-width="3.4" stroke-linecap="round" stroke-opacity="0.6" fill="none"/>
<path d="M233 254h0M244 341h0M69 225h0M37 34h0M168 394h0M108 271h0M241 95h0M129 201h0M184 195h0M157 99h0M104 272h0M177 250h0M166 321h0M228 157h0M90 367h0M92 275h0M182 137h0M162 187h0M119 125h0M240 326h0M227 294h0M150 168h0M168 173h0M126 371h0M252 171h0M193 177h0M135 347h0M182 208h0M113 218h0M75 75h0M223 148h0M104 322h0M125 276h0M152 189h0M67 156h0M156 189h0M152 304h0M175 386h0M133 272h0M72 246h0M140 303h0M162 190h0M225 319h0M171 257h0M117 254h0M120 152h0M240 190h0M135 192h0M96 299h0M20 119h0M220 110h0M146 249h0M80 195h0M104 271h0M131 189h0M106 187h0M316 170h0M146 157h0M7 162h0M67 218h0M56 103h0M117 303h0M78 280h0M202 443h0M170 297h0M189 184h0M201 324h0M123 301h0M102 85h0M115 135h0M171 276h0M102 329h0M105 249h0M106 256h0M262 231h0M83 233h0M188 160h0M145 237h0M178 243h0M162 154h0M69 122h0M134 254h0M237 196h0M210 279h0M144 240h0M173 177h0M149 89h0M66 6h0M111 255h0M69 277h0M143 256h0M258 193h0M113 177h0M222 176h0M217 333h0M113 329h0M100 266h0M187 186h0M67 22h0M146 330h0M341 327h0M17 75h0M130 165h0M187 245h0M19 60h0M138 91h0M87 199h0M117 37h0M120 309h0M162 234h0M188 221h0M103 271h0M123 255h0M129 312h0M102 359h0M227 330h0M202 169h0M106 51h0M219 158h0M92 181h0M180 221h0M51 76h0M246 219h0M129 247h0M68 151h0M127 259h0M182 261h0M134 245h0M70 267h0M68 221h0M122 200h0M156 254h0M209 231h0M161 137h0M214 256h0M136 254h0M100 253h0M232 262h0M141 297h0M212 177h0M128 257h0M178 160h0M98 54h0M72 267h0M165 141h0M127 233h0M125 351h0M262 431h0M134 108h0M141 186h0M233 208h0M68 63h0M270 328h0M98 305h0M208 161h0M200 239h0M109 167h0M129 224h0M211 286h0M68 332h0M140 156h0M134 344h0M239 293h0M186 342h0M221 270h0M126 25h0M121 332h0M155 63h0M119 132h0M143 268h0M161 175h0M254 234h0M116 252h0M66 144h0M158 78h0M140 151h0M228 211h0M116 231h0M236 94h0M244 174h0M254 333h0M352 211h0M69 136h0M50 160h0M120 238h0M178 42h0M280 298h0M160 377h0M173 330h0M6 78h0M145 185h0M51 223h0M21 149h0M218 120h0M120 152h0M149 186h0M139 199h0M273 163h0M164 424h0M203 199h0M90 220h0M7 5h0M254 327h0M51 304h0M92 154h0M96 119h0M214 246h0M151 202h0M116 47h0M177 264h0M278 424h0M128 267h0M178 179h0M47 264h0M147 202h0M169 146h0M173 154h0M224 350h0M287 224h0M184 262h0M61 232h0M131 369h0M135 277h0M200 167h0M125 222h0M171 284h0M128 283h0M263 177h0M138 233h0M171 235h0M136 189h0M229 251h0M166 166h0M216 259h0M181 149h0M74 322h0M72 78h0M11 14h0M115 179h0M129 65h0M195 229h0M126 215h0M68 250h0M32 207h0M73 282h0" stroke="#46f27c" stroke-width="3.4" stroke-linecap="round" stroke-opacity="0.9" fill="none"/>
<path d="M276 466h0M49 313h0M341 471h0M242 455h0M46 311h0M209 478h0M436 77h0M35 182h0M106 433h0M395 21h0M183 484h0M358 409h0M358 334h0M370 179h0M151 477h0M320 278h0M368 368h0M199 68h0M439 190h0M280 301h0M329 69h0M362 230h0M360 125h0M98 492h0M19 234h0M426 273h0M110 385h0M400 433h0M324 16h0M486 367h0M91 443h0M160 493h0M258 105h0M376 198h0M472 210h0M354 293h0M285 495h0M362 364h0M415 282h0M366 28h0M232 439h0M382 135h0M210 70h0M304 227h0M274 334h0M410 142h0M225 44h0M431 327h0M209 58h0M424 335h0M34 172h0M349 365h0M394 331h0M159 82h0M383 153h0M312 70h0M349 369h0M293 499h0M341 254h0M203 463h0M342 210h0M286 389h0M359 320h0M264 427h0M432 348h0M341 136h0M347 470h0M401 247h0M435 202h0M56 404h0M409 239h0M393 424h0M292 482h0M386 392h0M344 132h0M399 222h0M457 242h0" stroke="#46f27c" stroke-width="4.2" stroke-linecap="round" stroke-opacity="0.35" fill="none"/>
<path d="M147 2h0M198 495h0M129 386h0M211 52h0M268 18h0M11 97h0M179 410h0M320 312h0M5 129h0M195 75h0M232 412h0M281 280h0M109 52h0M121 420h0M212 272h0M80 311h0M135 80h0M280 279h0M5 70h0M21 139h0M23 208h0M325 167h0M200 111h0M288 129h0M293 263h0M11 155h0M130 144h0M218 106h0M180 274h0M180 124h0M249 322h0M379 342h0M73 24h0M315 305h0M301 301h0M449 198h0M80 290h0M150 63h0M296 130h0M264 138h0M29 307h0M263 178h0M215 298h0M225 223h0M305 329h0M201 45h0M234 323h0M268 405h0M286 206h0M198 426h0M215 79h0M138 146h0M216 424h0M67 235h0M254 105h0M234 291h0M423 188h0M59 336h0M80 321h0M13 43h0M142 402h0M212 244h0M30 70h0M259 275h0M47 39h0M137 410h0M208 146h0M284 389h0M200 419h0M225 82h0M36 72h0M247 28h0M308 454h0M383 312h0M131 97h0M245 59h0M18 242h0M321 178h0M118 129h0M258 314h0M27 15h0M56 240h0M184 443h0M383 303h0M36 159h0M123 308h0M323 409h0M127 372h0M3 91h0M214 287h0M1 262h0M53 103h0M103 134h0M284 127h0M331 168h0M236 232h0M26 227h0M316 374h0M8 8h0M233 390h0M339 59h0M318 174h0M174 147h0M59 236h0M43 343h0M177 454h0M206 159h0M320 422h0M188 355h0M102 173h0M249 53h0M204 101h0M174 350h0M180 313h0M25 323h0M337 308h0M67 82h0M31 135h0M261 155h0M307 491h0M195 230h0M34 156h0M42 151h0M260 166h0M372 64h0M224 318h0M219 93h0M241 364h0M183 440h0M344 296h0M71 284h0M225 313h0M154 411h0M227 199h0M178 342h0M355 341h0M9 174h0M22 31h0M463 312h0M306 364h0M117 27h0M82 123h0M327 356h0M292 175h0M284 216h0M69 74h0M54 346h0M101 1h0M351 205h0M235 174h0M276 487h0M252 416h0M210 361h0M17 136h0M156 255h0M133 88h0M66 328h0M60 206h0M273 302h0M307 293h0M95 52h0M19 165h0M324 421h0M117 114h0M25 24h0M383 17h0M430 324h0M283 43h0M9 295h0M105 161h0M435 358h0M287 11h0M139 332h0M78 205h0M6 13h0M110 37h0M329 237h0M8 106h0M340 234h0M73 34h0M211 114h0M297 309h0M261 463h0M216 302h0M65 83h0M337 418h0M353 220h0M154 7h0M105 435h0M150 139h0M68 278h0M266 236h0M128 167h0M275 278h0M370 339h0M186 416h0M178 23h0M49 283h0M93 48h0M197 79h0M126 475h0M62 315h0M193 432h0M235 10h0M53 209h0M258 253h0M184 303h0M327 174h0M180 130h0M183 156h0M38 195h0M23 370h0M165 330h0M118 315h0M253 299h0M104 272h0M268 242h0M43 59h0M86 35h0M4 224h0M317 100h0M131 406h0M383 252h0M239 480h0M21 197h0M230 130h0M134 371h0M152 398h0M262 319h0M93 325h0M182 21h0M232 298h0M310 100h0M255 227h0M54 241h0M220 338h0M227 46h0M246 434h0M149 478h0M128 476h0M226 374h0M58 29h0M157 77h0M69 20h0M152 426h0M257 150h0M294 206h0M130 497h0M159 142h0M240 149h0M201 121h0M265 156h0M134 327h0M30 204h0M223 128h0M328 189h0M160 349h0M193 392h0M76 26h0M282 87h0M204 383h0M129 43h0M194 12h0M273 244h0" stroke="#46f27c" stroke-width="4.2" stroke-linecap="round" stroke-opacity="0.6" fill="none"/>
<path d="M68 193h0M211 263h0M236 254h0M90 278h0M202 325h0M114 241h0M225 156h0M269 433h0M155 204h0M123 206h0M27 46h0M185 162h0M132 38h0M215 238h0M251 207h0M211 159h0M128 128h0M80 174h0M62 125h0M153 240h0M136 263h0M94 215h0M275 384h0M117 76h0M100 246h0M55 22h0M241 256h0M185 357h0M124 306h0M132 218h0M222 339h0M220 108h0M78 242h0M150 160h0M155 300h0M95 251h0M306 232h0M212 230h0M126 0h0M220 146h0M164 212h0M192 190h0M203 204h0M98 203h0M233 371h0M44 261h0M119 192h0M202 388h0M143 284h0M230 304h0M145 361h0M152 183h0M78 133h0M103 279h0M96 264h0M103 161h0M127 80h0M175 220h0M282 83h0M74 222h0M170 247h0M216 357h0M105 256h0M85 245h0M203 172h0M100 171h0M68 230h0M267 148h0M123 251h0M29 20h0M211 421h0M214 183h0M285 97h0M164 55h0M183 197h0M248 329h0M232 226h0M327 214h0M265 278h0M102 70h0M264 293h0M127 297h0M213 366h0M106 278h0M157 156h0M182 177h0M135 179h0M219 139h0M158 219h0M164 393h0M152 208h0M105 219h0M48 199h0M299 182h0M30 58h0M69 16h0M153 92h0M115 351h0M228 227h0M78 242h0M133 250h0M119 213h0M133 94h0M99 142h0M250 172h0M181 374h0M88 202h0M104 201h0M96 233h0M46 98h0M67 17h0M311 309h0M183 308h0M135 145h0M226 257h0M11 60h0M151 242h0M77 234h0M211 332h0M201 405h0M210 243h0M99 149h0M128 201h0M77 220h0M97 397h0M220 199h0M224 327h0M146 265h0M136 241h0M96 221h0M173 256h0M92 157h0M97 221h0M100 232h0M111 294h0M251 194h0M179 258h0M79 244h0M70 191h0M202 245h0M207 282h0M48 219h0M214 225h0M237 315h0M209 149h0M243 209h0M88 33h0M271 222h0M144 242h0M143 144h0M66 177h0M83 299h0M261 228h0M89 176h0M166 217h0M142 177h0M272 180h0M282 215h0M87 280h0M84 145h0M93 226h0M238 290h0M170 262h0M101 5h0M118 311h0M137 262h0M123 213h0M229 307h0M239 388h0M305 385h0M192 434h0M132 220h0M222 233h0M189 184h0M215 304h0M108 396h0M248 254h0M51 82h0M182 178h0M134 196h0M127 53h0M86 5h0M101 17h0M257 106h0M171 222h0M101 165h0M64 180h0M51 266h0M220 269h0M63 150h0M169 297h0M232 291h0M102 318h0M258 216h0M163 159h0M55 68h0M310 278h0M89 82h0M118 343h0M88 92h0M125 156h0M175 195h0M78 28h0M81 201h0M96 292h0M95 245h0M194 237h0M135 154h0M269 174h0M144 228h0M67 177h0M86 205h0M87 3h0M250 237h0M249 204h0M170 294h0M157 150h0M182 178h0M127 200h0M148 420h0M140 187h0M109 152h0M141 326h0M299 288h0M207 221h0" stroke="#46f27c" stroke-width="4.2" stroke-linecap="round" stroke-opacity="0.9" fill="none"/>
<path d="M409 302h0M374 392h0M17 264h0M416 393h0M10 283h0M207 27h0M412 481h0M373 372h0M53 468h0M368 331h0M367 56h0M440 173h0M200 480h0M484 312h0M160 431h0M396 466h0M96 477h0M318 96h0M3 491h0M268 76h0M147 456h0M426 286h0M19 267h0M75 458h0M387 24h0M3 373h0M311 476h0M38 289h0M374 136h0M305 396h0M356 164h0M369 442h0M34 192h0M391 416h0M264 422h0M213 438h0M233 450h0M96 426h0M377 220h0M51 263h0M348 207h0M375 318h0M415 219h0M389 142h0M22 365h0M328 28h0M148 55h0M40 271h0M297 47h0M307 110h0M209 11h0M312 196h0M373 191h0M319 436h0M379 436h0M5 478h0M374 422h0M358 164h0M436 310h0M481 258h0M406 302h0M339 412h0M414 296h0M28 404h0M325 272h0M58 446h0M476 444h0M39 476h0M266 484h0M313 48h0M333 200h0" stroke="#46f27c" stroke-width="5.0" stroke-linecap="round" stroke-opacity="0.35" fill="none"/>
<path d="M238 307h0M115 349h0M71 272h0M246 345h0M211 395h0M276 316h0M278 43h0M131 94h0M246 313h0M187 392h0M143 352h0M307 32h0M241 172h0M187 91h0M390 263h0M301 224h0M105 185h0M258 189h0M31 72h0M59 77h0M167 140h0M320 168h0M46 134h0M311 143h0M79 265h0M69 99h0M79 284h0M293 413h0M41 178h0M277 118h0M393 236h0M260 169h0M144 80h0M138 15h0M181 360h0M127 4h0M203 386h0M93 34h0M314 188h0M191 377h0M86 71h0M58 36h0M38 212h0M156 351h0M38 264h0M236 291h0M299 326h0M239 405h0M118 83h0M68 297h0M253 287h0M28 123h0M59 152h0M294 226h0M104 370h0M267 395h0M175 395h0M66 378h0M129 26h0M131 72h0M179 349h0M215 351h0M13 194h0M184 269h0M237 119h0M183 301h0M165 38h0M212 119h0M243 145h0M199 76h0M143 494h0M175 12h0M22 236h0M53 35h0M304 305h0M395 288h0M284 427h0M134 23h0M70 173h0M230 472h0M13 246h0M327 436h0M215 438h0M157 158h0M98 119h0M184 11h0M24 353h0M18 437h0M99 355h0M30 53h0M242 388h0M205 420h0M159 153h0M54 194h0M178 354h0M361 293h0M319 410h0M227 316h0M222 306h0M398 389h0M10 176h0M174 80h0M68 309h0M73 317h0M127 73h0M313 53h0M289 234h0M60 100h0M246 120h0M166 107h0M276 490h0M254 333h0M32 128h0M199 107h0M171 129h0M9 273h0M210 151h0M38 181h0M162 18h0M223 414h0M210 268h0M114 148h0M65 98h0M208 311h0M65 196h0M289 218h0M100 379h0M242 467h0M34 124h0M64 163h0M376 378h0M210 211h0M201 370h0M113 69h0M224 129h0M76 107h0M347 439h0M222 340h0M269 390h0M235 46h0M82 337h0M178 127h0M71 277h0M190 425h0M311 400h0M0 125h0M392 232h0M263 370h0M311 318h0M205 283h0M87 107h0M254 5h0M131 383h0M121 326h0M261 322h0M262 291h0M29 82h0M177 349h0M390 242h0M193 108h0M179 425h0M112 434h0M73 492h0M294 167h0M186 86h0M215 350h0M86 255h0M240 361h0M414 357h0M49 256h0M318 328h0M290 181h0M213 388h0M256 251h0M223 107h0M326 15h0M232 359h0M203 65h0M113 478h0M56 289h0M207 107h0M45 7h0M120 160h0M376 257h0M294 118h0M249 214h0M19 126h0M144 391h0M15 58h0M441 409h0M268 283h0M170 124h0M226 310h0M289 288h0M305 272h0M177 337h0M136 429h0M146 485h0M289 318h0M156 79h0M169 89h0M82 49h0M228 150h0M287 206h0M50 267h0M36 221h0M206 368h0M151 425h0M305 232h0M94 200h0M11 198h0M109 142h0M238 178h0M134 96h0M109 20h0M80 38h0M214 46h0M203 298h0M285 433h0M164 305h0M139 391h0M152 41h0M5 181h0M298 426h0M267 277h0M206 60h0M369 221h0M193 362h0M289 407h0M210 332h0M33 57h0M271 361h0M105 239h0M191 338h0M183 388h0M198 57h0M181 144h0M24 36h0M45 107h0M258 156h0M173 141h0M158 411h0M153 202h0M107 286h0" stroke="#46f27c" stroke-width="5.0" stroke-linecap="round" stroke-opacity="0.6" fill="none"/>
<path d="M164 333h0M321 359h0M91 227h0M162 272h0M34 37h0M104 308h0M99 42h0M148 308h0M35 62h0M12 86h0M163 304h0M256 189h0M107 189h0M120 54h0M208 307h0M147 309h0M45 286h0M78 137h0M182 394h0M92 263h0M161 291h0M74 235h0M115 302h0M162 303h0M235 254h0M116 241h0M187 325h0M317 234h0M204 324h0M237 101h0M234 244h0M148 147h0M102 231h0M229 234h0M185 228h0M55 167h0M108 173h0M285 204h0M112 219h0M64 88h0M191 162h0M61 36h0M196 164h0M220 406h0M57 143h0M97 69h0M258 205h0M180 372h0M264 191h0M253 191h0M201 275h0M134 260h0M200 279h0M195 154h0M99 161h0M103 214h0M144 274h0M116 237h0M85 157h0M109 277h0M153 208h0M169 300h0M66 2h0M145 180h0M132 211h0M250 82h0M80 63h0M84 154h0M159 170h0M159 170h0M89 275h0M256 218h0M67 205h0M82 53h0M104 117h0M174 149h0M242 201h0M111 139h0M218 283h0M195 202h0M117 197h0M77 16h0M232 237h0M75 199h0M205 93h0M173 142h0M222 257h0M283 372h0M292 260h0M105 385h0M119 231h0M224 155h0M93 202h0M72 167h0M110 178h0M133 133h0M197 332h0M125 280h0M75 138h0M270 345h0M118 145h0M297 253h0M162 218h0M219 280h0M82 307h0M161 197h0M131 218h0M97 232h0M115 229h0M105 88h0M157 277h0M280 320h0M99 281h0M273 182h0M155 309h0M87 24h0M217 371h0M202 196h0M241 340h0M169 359h0M320 261h0M207 165h0M185 259h0M159 187h0M115 165h0M285 375h0M228 313h0M188 172h0M92 269h0M176 191h0M134 178h0M176 312h0M89 215h0M150 293h0M80 356h0M201 232h0M233 181h0M164 229h0M151 181h0M234 330h0M178 349h0M203 267h0M67 267h0M45 69h0M113 129h0M30 179h0M235 320h0M82 260h0M215 159h0M93 262h0M92 187h0M94 350h0M145 265h0M76 262h0M91 259h0M152 163h0M83 6h0M176 271h0M109 231h0M66 236h0M105 90h0M328 185h0M144 255h0M203 204h0M146 220h0M141 109h0M260 244h0M111 221h0M91 1h0M140 260h0M175 285h0M4 104h0M212 35h0M107 220h0M125 159h0M233 229h0M146 132h0M193 300h0M112 305h0M130 322h0M115 23h0M68 185h0M188 326h0M109 158h0M80 254h0M140 287h0M80 272h0M142 294h0M88 332h0M108 220h0M113 274h0M179 231h0M138 140h0M153 132h0M71 120h0M74 254h0M148 165h0M88 225h0M177 157h0M141 283h0M176 281h0M189 253h0M128 281h0M156 226h0M97 247h0M64 190h0M53 157h0M225 218h0M181 279h0M149 157h0M329 262h0M83 136h0M164 168h0M217 322h0M143 278h0M118 190h0M164 257h0M161 26h0M94 294h0M218 284h0M167 131h0M254 314h0M188 143h0M134 207h0M167 267h0M287 346h0M129 156h0M237 347h0M95 147h0M123 332h0M53 152h0M93 245h0M142 142h0M92 169h0M137 211h0M128 193h0M72 163h0M252 147h0M121 304h0M80 193h0M228 88h0M255 158h0M165 229h0M297 237h0M79 130h0M147 307h0M164 298h0M100 274h0M172 225h0M137 322h0M64 140h0M144 334h0M124 137h0" stroke="#46f27c" stroke-width="5.0" stroke-linecap="round" stroke-opacity="0.9" fill="none"/>
<ellipse cx="47" cy="30" rx="11" ry="36" fill="#2ee070" opacity="0.55" filter="url(#bl4)"/>
<ellipse cx="66" cy="100" rx="12" ry="40" fill="#22c868" opacity="0.45" filter="url(#bl4)"/>
<path d="M282.6 243.8 C290 252 299 262 318.6 288.2 C330 300 345 315 350.5 332.5 C353 345 351 365 343.6 382.4 C337 398 325 420 315.9 437.8 C305 452 290 468 277.1 472.4 C274 473.5 271 473.5 270.2 471 C260 468 245 452 238.3 443.3 C228 428 218 405 213.4 387.9 C207 365 206 345 209.2 332.5 C213 318 225 300 241 288 C255 276 272 258 282.6 243.8 Z" fill="none" stroke="#22e060" stroke-width="26" opacity="0.6" filter="url(#bl12)"/>
<path d="M210 300 C200 340 200 400 220 440" fill="none" stroke="#40ff70" stroke-width="10" opacity="0.55" filter="url(#bl4)"/>
<path d="M282.6 243.8 C290 252 299 262 318.6 288.2 C330 300 345 315 350.5 332.5 C353 345 351 365 343.6 382.4 C337 398 325 420 315.9 437.8 C305 452 290 468 277.1 472.4 C274 473.5 271 473.5 270.2 471 C260 468 245 452 238.3 443.3 C228 428 218 405 213.4 387.9 C207 365 206 345 209.2 332.5 C213 318 225 300 241 288 C255 276 272 258 282.6 243.8 Z" fill="#02031c" stroke="#1a2cc0" stroke-width="4"/>
<path d="M250 455 C262 468 270 474 276 474 C284 472 292 466 300 458" fill="none" stroke="#1a2cc0" stroke-width="7"/>
<path d="M56.8 0 L261.8 0 C258 6 253 11 249.4 16.6 C243 25 237 33 232.8 41.6 C228 50 225 60 221.7 69.3 C217 78 212 84 205 88.7 C197 95 189 102 180.1 108.1 C171 113 164 118 155.2 121.9 C145 126 135 130 124.7 133 C115 136 106 138 99.8 138.5 C92 137 87 134 83.1 130.2 C78 122 76 115 74.8 108.1 C73 100 72 96 72 91.4 C72 85 72 81 73.4 77.6 C76 74 80 72 83.1 69.3 C80 66 78 63 74.8 61 C70 59 66 58 63.7 55.4 C61 50 60 45 59.6 38.8 C58 30 57 22 56.8 16.6 Z" fill="#03030f" stroke="#0a1260" stroke-width="2"/>
<ellipse cx="92" cy="150" rx="22" ry="9" fill="#050a3a" filter="url(#bl4)"/>
<path d="M49 481 C49 474 54 472 58 473 C62 470 66 464 71 461 C73 462 72 467 67 474 C66 478 66 482 65 484 C63 489 55 491 51 488 C49 486 49 484 49 481 Z" fill="#03041a" filter="url(#bl2)"/>
<circle cx="82.6" cy="489.3" r="5.5" fill="#03041a" filter="url(#bl2)"/>
<circle cx="32.3" cy="407.4" r="4" fill="#05082a" filter="url(#bl2)"/>
<ellipse cx="282.6" cy="52.6" rx="4" ry="10" fill="#061040" filter="url(#bl2)"/>
<path d="M64.6 0 L64.6 142.7" stroke="#fff" stroke-width="2.6" fill="none" stroke-dasharray="8 5"/>
<path d="M229.3 0 L229.3 142.7" stroke="#fff" stroke-width="2.6" fill="none" stroke-dasharray="8 5"/>
<ellipse cx="147" cy="142.7" rx="82.4" ry="5" stroke="#fff" stroke-width="2.6" fill="none" stroke-dasharray="8 5"/>
<path d="M-0 287 L1.7 282.9 L3.4 278.8 L5.2 274.8 L7.1 270.8 L9 266.8 L11 262.8 L13.1 258.9 L15.2 255 L17.4 251.1 L19.7 247.3 L22 243.5 L24.3 239.8 L26.7 236 L29.2 232.4 L31.7 228.7 L34.3 225.1 L36.9 221.5 L39.6 218 L42.4 214.5 L45.2 211.1 L48 207.7 L50.9 204.4 L53.9 201 L56.9 197.8 L59.9 194.6 L63 191.4 L66.2 188.3 L69.4 185.2 L72.6 182.2 L75.9 179.2 L79.3 176.3 L82.7 173.4 L86.1 170.6 L89.5 167.9 L93.1 165.1 L96.6 162.5 L100.2 159.9 L103.8 157.3 L107.5 154.8 L111.2 152.4 M232 108.5 L239.6 107.6 L247.3 106.9 L254.9 106.5 L262.6 106.3 L270.3 106.2 L278 106.4 L285.6 106.7 L293.3 107.3 L300.9 108.1 L308.5 109.1 L316.1 110.2 L323.7 111.6 L331.2 113.2 L338.7 115 L346.1 116.9 L353.4 119.1 L360.7 121.5 L368 124 L375.2 126.8 L382.2 129.7 L389.3 132.9 L396.2 136.2 L403 139.7 L409.8 143.3 L416.4 147.2 L422.9 151.2 L429.4 155.4 L435.7 159.8 L441.9 164.3 L447.9 169 L453.9 173.9 L459.7 178.9 L465.4 184.1 L470.9 189.4 L476.3 194.8 L481.6 200.4 L486.7 206.2 L491.6 212.1 L496.4 218.1 L501 224.2" stroke="#fff" stroke-width="1.6" fill="none" stroke-dasharray="5 4"/>
</g>
<text x="410.5" y="130.1" fill="#fff">dmSC</text>
<text x="332" y="249.6" fill="#fff">dPAG</text>
<text x="455.4" y="560.2" fill="#fff">200 &#956;m</text>
<rect x="470.6" y="568.5" width="64.4" height="5" fill="#fff"/>
<g transform="translate(655 90)" clip-path="url(#clipImg)">
<rect x="0" y="0" width="501" height="500" fill="#0b1c8e"/>
<g filter="url(#bl25)">
<rect x="-30" y="-30" width="80.6" height="80.5" fill="#07a24c" fill-opacity="0.15"/>
<rect x="50.1" y="-30" width="50.6" height="80.5" fill="#07a24c" fill-opacity="0.20"/>
<rect x="100.2" y="-30" width="50.6" height="80.5" fill="#07a24c" fill-opacity="0.55"/>
<rect x="150.3" y="-30" width="50.6" height="80.5" fill="#07a24c" fill-opacity="0.60"/>
<rect x="200.4" y="-30" width="50.6" height="80.5" fill="#07a24c" fill-opacity="0.50"/>
<rect x="250.5" y="-30" width="50.6" height="80.5" fill="#07a24c" fill-opacity="0.40"/>
<rect x="300.6" y="-30" width="50.6" height="80.5" fill="#07a24c" fill-opacity="0.30"/>
<rect x="350.7" y="-30" width="50.6" height="80.5" fill="#07a24c" fill-opacity="0.35"/>
<rect x="400.8" y="-30" width="50.6" height="80.5" fill="#07a24c" fill-opacity="0.40"/>
<rect x="450.9" y="-30" width="80.6" height="80.5" fill="#07a24c" fill-opacity="0.30"/>
<rect x="-30" y="50" width="80.6" height="50.5" fill="#07a24c" fill-opacity="0.15"/>
<rect x="50.1" y="50" width="50.6" height="50.5" fill="#07a24c" fill-opacity="0.30"/>
<rect x="100.2" y="50" width="50.6" height="50.5" fill="#07a24c" fill-opacity="0.60"/>
<rect x="150.3" y="50" width="50.6" height="50.5" fill="#07a24c" fill-opacity="0.62"/>
<rect x="200.4" y="50" width="50.6" height="50.5" fill="#07a24c" fill-opacity="0.50"/>
<rect x="250.5" y="50" width="50.6" height="50.5" fill="#07a24c" fill-opacity="0.40"/>
<rect x="300.6" y="50" width="50.6" height="50.5" fill="#07a24c" fill-opacity="0.30"/>
<rect x="350.7" y="50" width="50.6" height="50.5" fill="#07a24c" fill-opacity="0.45"/>
<rect x="400.8" y="50" width="50.6" height="50.5" fill="#07a24c" fill-opacity="0.50"/>
<rect x="450.9" y="50" width="80.6" height="50.5" fill="#07a24c" fill-opacity="0.35"/>
<rect x="-30" y="100" width="80.6" height="50.5" fill="#07a24c" fill-opacity="0.20"/>
<rect x="50.1" y="100" width="50.6" height="50.5" fill="#07a24c" fill-opacity="0.35"/>
<rect x="100.2" y="100" width="50.6" height="50.5" fill="#07a24c" fill-opacity="0.50"/>
<rect x="150.3" y="100" width="50.6" height="50.5" fill="#07a24c" fill-opacity="0.65"/>
<rect x="200.4" y="100" width="50.6" height="50.5" fill="#07a24c" fill-opacity="0.55"/>
<rect x="250.5" y="100" width="50.6" height="50.5" fill="#07a24c" fill-opacity="0.40"/>
<rect x="300.6" y="100" width="50.6" height="50.5" fill="#07a24c" fill-opacity="0.30"/>
<rect x="350.7" y="100" width="50.6" height="50.5" fill="#07a24c" fill-opacity="0.45"/>
<rect x="400.8" y="100" width="50.6" height="50.5" fill="#07a24c" fill-opacity="0.45"/>
<rect x="450.9" y="100" width="80.6" height="50.5" fill="#07a24c" fill-opacity="0.30"/>
<rect x="-30" y="150" width="80.6" height="50.5" fill="#07a24c" fill-opacity="0.30"/>
<rect x="50.1" y="150" width="50.6" height="50.5" fill="#07a24c" fill-opacity="0.45"/>
<rect x="100.2" y="150" width="50.6" height="50.5" fill="#07a24c" fill-opacity="0.35"/>
<rect x="150.3" y="150" width="50.6" height="50.5" fill="#07a24c" fill-opacity="0.62"/>
<rect x="200.4" y="150" width="50.6" height="50.5" fill="#07a24c" fill-opacity="0.65"/>
<rect x="250.5" y="150" width="50.6" height="50.5" fill="#07a24c" fill-opacity="0.45"/>
<rect x="300.6" y="150" width="50.6" height="50.5" fill="#07a24c" fill-opacity="0.42"/>
<rect x="350.7" y="150" width="50.6" height="50.5" fill="#07a24c" fill-opacity="0.45"/>
<rect x="400.8" y="150" width="50.6" height="50.5" fill="#07a24c" fill-opacity="0.42"/>
<rect x="450.9" y="150" width="80.6" height="50.5" fill="#07a24c" fill-opacity="0.30"/>
<rect x="-30" y="200" width="80.6" height="50.5" fill="#07a24c" fill-opacity="0.35"/>
<rect x="50.1" y="200" width="50.6" height="50.5" fill="#07a24c" fill-opacity="0.45"/>
<rect x="100.2" y="200" width="50.6" height="50.5" fill="#07a24c" fill-opacity="0.35"/>
<rect x="150.3" y="200" width="50.6" height="50.5" fill="#07a24c" fill-opacity="0.50"/>
<rect x="200.4" y="200" width="50.6" height="50.5" fill="#07a24c" fill-opacity="0.60"/>
<rect x="250.5" y="200" width="50.6" height="50.5" fill="#07a24c" fill-opacity="0.55"/>
<rect x="300.6" y="200" width="50.6" height="50.5" fill="#07a24c" fill-opacity="0.50"/>
<rect x="350.7" y="200" width="50.6" height="50.5" fill="#07a24c" fill-opacity="0.45"/>
<rect x="400.8" y="200" width="50.6" height="50.5" fill="#07a24c" fill-opacity="0.42"/>
<rect x="450.9" y="200" width="80.6" height="50.5" fill="#07a24c" fill-opacity="0.30"/>
<rect x="-30" y="250" width="80.6" height="50.5" fill="#07a24c" fill-opacity="0.40"/>
<rect x="50.1" y="250" width="50.6" height="50.5" fill="#07a24c" fill-opacity="0.55"/>
<rect x="100.2" y="250" width="50.6" height="50.5" fill="#07a24c" fill-opacity="0.55"/>
<rect x="150.3" y="250" width="50.6" height="50.5" fill="#07a24c" fill-opacity="0.50"/>
<rect x="200.4" y="250" width="50.6" height="50.5" fill="#07a24c" fill-opacity="0.60"/>
<rect x="250.5" y="250" width="50.6" height="50.5" fill="#07a24c" fill-opacity="0.62"/>
<rect x="300.6" y="250" width="50.6" height="50.5" fill="#07a24c" fill-opacity="0.60"/>
<rect x="350.7" y="250" width="50.6" height="50.5" fill="#07a24c" fill-opacity="0.55"/>
<rect x="400.8" y="250" width="50.6" height="50.5" fill="#07a24c" fill-opacity="0.50"/>
<rect x="450.9" y="250" width="80.6" height="50.5" fill="#07a24c" fill-opacity="0.30"/>
<rect x="-30" y="300" width="80.6" height="50.5" fill="#07a24c" fill-opacity="0.30"/>
<rect x="50.1" y="300" width="50.6" height="50.5" fill="#07a24c" fill-opacity="0.40"/>
<rect x="100.2" y="300" width="50.6" height="50.5" fill="#07a24c" fill-opacity="0.45"/>
<rect x="150.3" y="300" width="50.6" height="50.5" fill="#07a24c" fill-opacity="0.55"/>
<rect x="200.4" y="300" width="50.6" height="50.5" fill="#07a24c" fill-opacity="0.65"/>
<rect x="250.5" y="300" width="50.6" height="50.5" fill="#07a24c" fill-opacity="0.75"/>
<rect x="300.6" y="300" width="50.6" height="50.5" fill="#07a24c" fill-opacity="0.65"/>
<rect x="350.7" y="300" width="50.6" height="50.5" fill="#07a24c" fill-opacity="0.55"/>
<rect x="400.8" y="300" width="50.6" height="50.5" fill="#07a24c" fill-opacity="0.45"/>
<rect x="450.9" y="300" width="80.6" height="50.5" fill="#07a24c" fill-opacity="0.20"/>
<rect x="-30" y="350" width="80.6" height="50.5" fill="#07a24c" fill-opacity="0.20"/>
<rect x="50.1" y="350" width="50.6" height="50.5" fill="#07a24c" fill-opacity="0.30"/>
<rect x="100.2" y="350" width="50.6" height="50.5" fill="#07a24c" fill-opacity="0.45"/>
<rect x="150.3" y="350" width="50.6" height="50.5" fill="#07a24c" fill-opacity="0.60"/>
<rect x="200.4" y="350" width="50.6" height="50.5" fill="#07a24c" fill-opacity="0.75"/>
<rect x="250.5" y="350" width="50.6" height="50.5" fill="#07a24c" fill-opacity="0.85"/>
<rect x="300.6" y="350" width="50.6" height="50.5" fill="#07a24c" fill-opacity="0.65"/>
<rect x="350.7" y="350" width="50.6" height="50.5" fill="#07a24c" fill-opacity="0.45"/>
<rect x="400.8" y="350" width="50.6" height="50.5" fill="#07a24c" fill-opacity="0.25"/>
<rect x="450.9" y="350" width="80.6" height="50.5" fill="#07a24c" fill-opacity="0.08"/>
<rect x="-30" y="400" width="80.6" height="50.5" fill="#07a24c" fill-opacity="0.15"/>
<rect x="50.1" y="400" width="50.6" height="50.5" fill="#07a24c" fill-opacity="0.25"/>
<rect x="100.2" y="400" width="50.6" height="50.5" fill="#07a24c" fill-opacity="0.55"/>
<rect x="150.3" y="400" width="50.6" height="50.5" fill="#07a24c" fill-opacity="0.70"/>
<rect x="200.4" y="400" width="50.6" height="50.5" fill="#07a24c" fill-opacity="0.75"/>
<rect x="250.5" y="400" width="50.6" height="50.5" fill="#07a24c" fill-opacity="0.65"/>
<rect x="300.6" y="400" width="50.6" height="50.5" fill="#07a24c" fill-opacity="0.50"/>
<rect x="350.7" y="400" width="50.6" height="50.5" fill="#07a24c" fill-opacity="0.30"/>
<rect x="400.8" y="400" width="50.6" height="50.5" fill="#07a24c" fill-opacity="0.10"/>
<rect x="450.9" y="400" width="80.6" height="50.5" fill="#07a24c" fill-opacity="0.04"/>
<rect x="-30" y="450" width="80.6" height="80.5" fill="#07a24c" fill-opacity="0.12"/>
<rect x="50.1" y="450" width="50.6" height="80.5" fill="#07a24c" fill-opacity="0.20"/>
<rect x="100.2" y="450" width="50.6" height="80.5" fill="#07a24c" fill-opacity="0.60"/>
<rect x="150.3" y="450" width="50.6" height="80.5" fill="#07a24c" fill-opacity="0.80"/>
<rect x="200.4" y="450" width="50.6" height="80.5" fill="#07a24c" fill-opacity="0.70"/>
<rect x="250.5" y="450" width="50.6" height="80.5" fill="#07a24c" fill-opacity="0.50"/>
<rect x="300.6" y="450" width="50.6" height="80.5" fill="#07a24c" fill-opacity="0.35"/>
<rect x="350.7" y="450" width="50.6" height="80.5" fill="#07a24c" fill-opacity="0.15"/>
<rect x="400.8" y="450" width="50.6" height="80.5" fill="#07a24c" fill-opacity="0.05"/>
<rect x="450.9" y="450" width="80.6" height="80.5" fill="#07a24c" fill-opacity="0.03"/>
</g>
<g filter="url(#bl12)">
<path d="M78 108 L94 114 L114 185 L132 250 L116 256 L96 190 L80 125 Z" fill="#0a1890" opacity="0.8"/>
<ellipse cx="485" cy="460" rx="70" ry="90" fill="#040c66" opacity="0.8"/>
<path d="M0 0 L104 0 L96 25 L82 62 L74 88 L84 108 L60 200 L0 220 Z" fill="#0a1890" opacity="0.35"/>
<ellipse cx="30" cy="450" rx="60" ry="70" fill="#0a1890" opacity="0.6"/>
</g>
<g mask="url(#mB)"><rect x="0" y="0" width="501" height="500" filter="url(#spkB)" opacity="0.4"/></g>
<path d="M386 4h0M492 317h0M189 321h0M21 270h0M36 260h0M445 28h0M263 126h0M282 33h0M56 30h0M428 309h0M454 39h0M51 490h0M151 293h0M375 476h0M414 34h0M450 339h0M136 380h0M142 173h0M157 206h0M127 224h0M428 52h0M449 81h0M375 25h0M270 66h0M221 73h0M416 349h0M143 334h0M110 42h0M63 422h0M355 452h0M252 100h0M420 179h0M335 169h0M129 161h0M400 217h0M413 222h0M413 407h0M439 150h0M391 378h0M160 309h0M146 20h0M376 121h0M261 150h0M125 445h0M79 215h0M448 65h0M423 52h0M482 187h0M174 295h0M218 34h0M51 211h0M369 399h0M63 151h0M256 78h0M324 427h0M76 23h0M480 323h0M462 286h0M397 214h0M321 144h0M363 207h0M489 295h0M142 306h0M351 52h0M245 16h0M9 372h0M451 288h0M99 168h0M17 180h0M399 283h0M458 315h0M256 134h0M329 126h0M109 54h0M410 174h0M118 383h0M146 329h0M418 323h0M417 12h0M314 33h0M9 334h0M387 225h0M253 63h0M177 196h0M78 98h0M53 194h0M376 108h0M470 78h0M452 345h0M323 66h0M479 65h0M390 177h0M447 268h0M469 322h0M199 37h0M157 209h0M99 285h0M496 78h0M53 302h0M315 96h0M48 52h0M483 211h0M396 22h0M326 485h0M135 110h0M495 66h0M370 231h0M29 111h0M305 117h0M67 261h0M91 366h0M283 125h0M398 94h0M83 156h0M221 39h0M447 339h0M482 134h0M37 323h0M421 182h0M30 250h0M273 104h0M414 374h0M408 165h0M357 158h0M409 290h0M499 162h0M209 232h0M14 19h0M464 93h0M94 174h0" stroke="#46f27c" stroke-width="2.6" stroke-linecap="round" stroke-opacity="0.35" fill="none"/>
<path d="M257 367h0M267 337h0M280 418h0M89 266h0M137 465h0M331 215h0M274 395h0M399 71h0M187 16h0M379 39h0M158 396h0M240 390h0M146 435h0M495 90h0M74 296h0M476 354h0M356 254h0M219 35h0M104 71h0M198 176h0M407 307h0M356 265h0M274 348h0M255 191h0M296 348h0M131 303h0M483 88h0M76 341h0M411 12h0M266 234h0M67 343h0M73 252h0M388 58h0M210 491h0M78 64h0M174 170h0M249 58h0M251 416h0M131 308h0M163 46h0M264 118h0M331 313h0M223 471h0M271 239h0M143 137h0M220 38h0M364 408h0M234 349h0M194 139h0M345 205h0M175 460h0M233 275h0M226 271h0M262 51h0M221 285h0M57 100h0M53 240h0M296 357h0M407 141h0M370 244h0M293 296h0M200 385h0M278 383h0M215 257h0M149 201h0M206 423h0M152 217h0M336 42h0M277 270h0M279 413h0M78 295h0M372 300h0M91 10h0M209 223h0M127 452h0M111 129h0M214 435h0M256 171h0M345 412h0M307 393h0M374 136h0M234 489h0M111 483h0M270 83h0M267 349h0M424 123h0M228 454h0M374 289h0M252 290h0M219 274h0M235 418h0M332 262h0M196 102h0M171 228h0M95 87h0M246 6h0M242 159h0M282 11h0M117 347h0M35 331h0M227 393h0M119 263h0M174 135h0M169 106h0M424 319h0M179 181h0M342 123h0M288 279h0M84 176h0M327 294h0M325 222h0M183 175h0M411 160h0M0 386h0M202 287h0M174 350h0M338 170h0M78 174h0M284 482h0M327 198h0M108 431h0M223 483h0M227 16h0M285 172h0M118 374h0M220 322h0M392 186h0M302 488h0M118 231h0M101 469h0M318 217h0M358 96h0M242 163h0M377 53h0M74 152h0M280 455h0M111 150h0M121 12h0M276 418h0M193 131h0M64 328h0M7 309h0M423 290h0M54 418h0M210 391h0M144 329h0M319 268h0M157 365h0M395 295h0M224 483h0M98 147h0M199 165h0M96 96h0M405 165h0M167 500h0M200 460h0M125 287h0M208 64h0M92 242h0M196 232h0M36 226h0M313 235h0M121 273h0M228 499h0M270 188h0M295 162h0M392 19h0M189 166h0M219 154h0M136 109h0M287 488h0M238 87h0M311 422h0M233 334h0M449 92h0M449 49h0M363 211h0M458 71h0M244 291h0M466 79h0M343 159h0M75 198h0M333 359h0M201 165h0M446 235h0M271 82h0M332 162h0M203 99h0M106 64h0M468 198h0M197 406h0M485 81h0M402 125h0M135 494h0M258 223h0M96 422h0M448 209h0M252 257h0M286 74h0M195 199h0M184 61h0M362 278h0M430 219h0M231 227h0M349 276h0M194 471h0M307 240h0M474 16h0M421 154h0M232 321h0M208 389h0M177 4h0M126 361h0M146 428h0M264 5h0M185 355h0M337 275h0M4 221h0M208 76h0M395 76h0M293 40h0M326 66h0M397 144h0M301 480h0M221 379h0M188 134h0M256 428h0M146 17h0M290 435h0M219 42h0M221 210h0M23 261h0M57 172h0M62 200h0M281 69h0M128 361h0M99 335h0M147 152h0M286 407h0M469 248h0M283 151h0M409 257h0M92 488h0M147 82h0M466 152h0M268 321h0M199 216h0M309 277h0M170 374h0M230 212h0M266 435h0M380 231h0M261 264h0M499 44h0M208 162h0M330 223h0M447 45h0M91 429h0M355 27h0M270 245h0M303 208h0M25 200h0M137 136h0M170 92h0M239 199h0M142 466h0M215 229h0M179 190h0M378 299h0M193 280h0M188 407h0M316 268h0M419 236h0M221 379h0M465 12h0M265 345h0M466 142h0M59 191h0M228 354h0M158 333h0M300 252h0M110 85h0M272 496h0M174 209h0M488 68h0M236 280h0M361 370h0M200 282h0M319 400h0M443 338h0M277 244h0M81 475h0M335 330h0M334 158h0M176 73h0M147 416h0M170 37h0M139 29h0M444 172h0M74 305h0M182 170h0M280 282h0M301 481h0M335 361h0M238 435h0M193 74h0M233 212h0M267 353h0M458 254h0M243 234h0M473 229h0M389 4h0M407 81h0M162 243h0M386 433h0M354 285h0M358 405h0M432 249h0M307 219h0M200 369h0M212 420h0M314 210h0M258 189h0M285 207h0M7 278h0M147 264h0M493 60h0M377 394h0M381 87h0M338 424h0M228 315h0M194 358h0M244 416h0M244 399h0M205 118h0M436 106h0M276 293h0M133 496h0M422 92h0M169 47h0M479 277h0M276 241h0" stroke="#46f27c" stroke-width="2.6" stroke-linecap="round" stroke-opacity="0.6" fill="none"/>
<path d="M205 386h0M148 448h0M199 326h0M171 142h0M102 122h0M207 452h0M253 443h0M168 391h0M129 16h0M244 321h0M256 261h0M266 377h0M339 207h0M331 257h0M220 17h0M246 430h0M184 428h0M189 359h0M293 344h0M168 418h0M340 312h0M103 96h0M145 55h0M219 406h0M179 206h0M192 35h0M247 2h0M185 425h0M295 314h0M241 374h0M193 471h0M237 291h0M293 229h0M342 204h0M276 148h0M209 254h0M213 320h0M169 421h0M187 438h0M115 93h0M155 97h0M317 266h0M115 453h0M285 342h0M250 392h0M281 329h0M159 448h0M256 362h0M193 314h0M297 374h0M263 451h0M131 398h0M348 357h0M212 439h0M307 377h0M336 380h0M236 302h0M257 460h0M127 290h0M155 100h0M315 440h0M291 327h0M273 474h0M292 275h0M240 411h0M217 425h0M279 319h0M319 360h0M264 420h0M234 469h0M321 266h0M120 423h0M247 383h0M230 230h0M120 497h0M176 465h0M275 420h0M136 461h0M274 312h0M280 299h0M187 498h0M199 372h0M178 115h0M181 439h0M259 373h0M144 412h0M226 353h0M73 276h0M304 222h0M250 219h0M140 424h0M248 355h0M194 479h0M199 366h0M267 273h0M279 316h0M206 480h0M275 405h0M123 124h0M206 447h0M218 456h0M330 311h0M147 432h0M286 421h0M192 188h0M202 112h0M186 429h0M225 427h0M265 459h0M250 402h0M165 466h0M256 173h0M220 387h0M235 312h0M266 448h0M258 462h0M290 315h0M303 332h0M256 306h0M156 132h0M207 344h0M235 273h0M244 410h0M146 478h0M174 473h0M256 229h0M204 152h0M143 50h0M125 466h0M159 85h0M155 311h0M282 304h0M199 283h0M191 424h0M218 421h0M208 373h0M250 394h0M179 301h0M358 337h0M323 312h0M238 419h0M246 341h0M176 487h0M204 222h0M235 403h0M196 449h0M303 457h0M264 332h0M306 362h0M278 333h0M262 301h0M276 428h0M290 372h0M257 297h0M243 379h0M259 387h0M263 370h0M183 121h0M180 77h0M171 138h0M181 477h0M162 144h0M154 19h0M191 489h0M205 116h0M292 353h0M206 458h0M249 368h0M245 435h0M285 372h0M218 358h0M293 357h0M169 126h0M214 441h0M365 266h0M181 386h0M134 77h0M391 290h0M281 310h0" stroke="#46f27c" stroke-width="2.6" stroke-linecap="round" stroke-opacity="0.9" fill="none"/>
<path d="M340 147h0M88 109h0M488 48h0M444 112h0M493 367h0M317 162h0M69 53h0M20 45h0M403 422h0M447 220h0M93 99h0M100 201h0M335 33h0M280 493h0M323 120h0M422 351h0M423 82h0M496 218h0M321 203h0M475 296h0M29 391h0M428 355h0M461 397h0M169 293h0M116 294h0M353 250h0M380 139h0M120 288h0M495 116h0M435 433h0M121 295h0M386 67h0M487 76h0M269 123h0M46 290h0M293 60h0M441 37h0M80 113h0M50 386h0M130 236h0M332 490h0M133 339h0M52 416h0M338 243h0M385 442h0M431 374h0M238 7h0M380 32h0M44 457h0M46 88h0M319 34h0M83 140h0M78 178h0M102 21h0M205 293h0M56 478h0M392 214h0M23 160h0M79 144h0M91 490h0M290 90h0M34 193h0M320 173h0M454 306h0M115 208h0M313 496h0M420 38h0M56 153h0M340 40h0M249 118h0M196 284h0M161 286h0M501 69h0M84 111h0M12 40h0M488 69h0M78 292h0M147 216h0M333 3h0M90 110h0M386 491h0M91 90h0M430 360h0M437 37h0M354 440h0M264 3h0M450 158h0M100 109h0M360 369h0M157 174h0M374 216h0M85 49h0M45 378h0M115 226h0M399 441h0M85 161h0M35 495h0M336 473h0M282 13h0M403 35h0M408 34h0M42 196h0M432 339h0M108 33h0M458 259h0M396 223h0M95 214h0M9 272h0M436 143h0M79 17h0M150 255h0M360 410h0M487 20h0M22 362h0M79 388h0M69 153h0M312 20h0M467 222h0M68 420h0M74 62h0M97 432h0M436 210h0M477 285h0M193 270h0M59 81h0M104 299h0" stroke="#46f27c" stroke-width="3.4" stroke-linecap="round" stroke-opacity="0.35" fill="none"/>
<path d="M28 208h0M173 487h0M280 119h0M136 169h0M302 296h0M246 175h0M400 59h0M157 393h0M102 77h0M58 183h0M117 140h0M208 234h0M160 165h0M389 54h0M433 127h0M220 318h0M147 493h0M73 220h0M276 95h0M331 332h0M252 225h0M369 232h0M189 52h0M243 196h0M401 43h0M363 56h0M212 217h0M128 482h0M4 305h0M195 55h0M126 427h0M197 429h0M151 357h0M437 170h0M447 289h0M227 418h0M255 425h0M313 172h0M209 121h0M187 70h0M325 320h0M71 161h0M425 106h0M161 382h0M283 239h0M189 394h0M143 154h0M242 163h0M375 401h0M368 313h0M234 213h0M178 366h0M253 283h0M223 110h0M245 235h0M90 72h0M329 241h0M424 191h0M351 11h0M246 457h0M110 86h0M321 156h0M355 245h0M229 64h0M175 279h0M236 241h0M137 483h0M442 132h0M108 412h0M58 36h0M434 248h0M294 376h0M127 477h0M253 359h0M69 260h0M152 278h0M229 88h0M381 432h0M102 200h0M434 48h0M337 135h0M118 125h0M281 6h0M374 139h0M305 37h0M206 68h0M331 9h0M245 194h0M35 293h0M439 330h0M357 331h0M204 18h0M182 80h0M480 170h0M313 263h0M224 429h0M61 292h0M388 78h0M309 463h0M184 333h0M349 164h0M350 412h0M142 402h0M207 62h0M194 313h0M71 461h0M416 53h0M172 95h0M149 447h0M139 130h0M395 194h0M177 241h0M405 115h0M64 235h0M274 225h0M106 237h0M58 281h0M83 306h0M14 239h0M65 96h0M260 276h0M396 38h0M454 197h0M118 439h0M249 292h0M283 28h0M281 457h0M211 308h0M190 405h0M207 425h0M243 498h0M411 47h0M204 344h0M200 320h0M242 33h0M323 247h0M243 478h0M281 361h0M335 349h0M153 433h0M160 231h0M202 78h0M319 292h0M319 272h0M133 309h0M7 362h0M216 299h0M458 280h0M470 202h0M437 2h0M339 206h0M128 440h0M275 305h0M487 15h0M162 114h0M405 4h0M168 378h0M37 219h0M185 124h0M344 360h0M140 105h0M364 285h0M402 89h0M121 124h0M482 276h0M30 393h0M203 151h0M323 335h0M161 478h0M446 271h0M109 366h0M195 347h0M267 304h0M213 297h0M224 268h0M67 114h0M411 53h0M439 262h0M100 311h0M365 335h0M199 199h0M371 275h0M134 18h0M131 307h0M89 499h0M218 462h0M382 75h0M76 206h0M208 242h0M455 82h0M175 191h0M251 359h0M428 234h0M334 129h0M389 154h0M166 240h0M279 8h0M351 298h0M235 443h0M135 417h0M316 112h0M84 355h0M1 18h0M476 253h0M121 199h0M262 346h0M173 399h0M50 203h0M279 95h0M208 59h0M412 306h0M104 293h0M135 87h0M353 347h0M250 454h0M229 227h0M149 66h0M315 126h0M347 63h0M359 353h0M165 423h0M290 294h0M430 303h0M105 397h0M268 366h0M398 95h0M170 496h0M224 380h0M128 466h0M152 347h0M172 414h0M233 40h0M159 463h0M380 344h0M100 89h0M212 136h0M236 113h0M434 192h0M414 257h0M412 278h0M323 320h0M91 499h0M127 294h0M271 78h0M188 80h0M126 422h0M253 200h0M354 320h0M326 410h0M319 291h0M285 357h0M319 457h0M292 330h0M217 51h0M234 460h0M198 176h0M371 296h0M431 270h0M278 288h0M300 79h0M373 170h0M315 393h0M80 259h0M468 41h0M175 411h0M122 267h0M361 381h0M422 200h0M391 321h0M199 451h0M425 160h0M239 112h0M443 259h0M227 455h0M179 305h0M43 293h0M85 458h0M297 40h0M202 451h0M298 452h0M184 2h0M200 2h0M253 59h0M7 387h0M180 281h0M445 89h0M54 306h0M389 148h0M372 407h0M292 221h0M111 30h0M265 168h0M301 443h0M138 398h0M122 423h0M182 47h0M294 285h0M98 100h0M153 81h0M273 256h0M369 170h0M360 58h0M128 238h0M117 106h0M205 185h0M247 191h0M161 351h0M37 256h0M368 402h0M223 273h0M402 139h0M371 284h0M418 310h0M314 271h0M305 149h0M223 15h0M178 136h0M171 33h0M71 184h0M500 67h0M389 257h0M31 245h0M133 446h0M428 267h0M443 85h0M318 318h0M106 109h0M357 279h0M268 455h0M298 248h0M66 289h0M402 27h0M80 109h0M99 284h0M423 305h0M436 26h0M365 227h0M323 121h0M170 330h0M288 299h0M68 228h0M217 133h0M369 357h0M9 305h0M460 34h0M250 476h0M160 123h0M181 479h0M248 18h0M420 6h0M338 329h0M122 441h0M298 343h0M360 67h0M188 279h0" stroke="#46f27c" stroke-width="3.4" stroke-linecap="round" stroke-opacity="0.6" fill="none"/>
<path d="M230 148h0M128 139h0M185 443h0M208 482h0M184 491h0M82 255h0M283 304h0M149 88h0M241 440h0M291 309h0M106 343h0M256 170h0M266 319h0M273 323h0M308 374h0M162 125h0M318 286h0M342 237h0M136 128h0M142 488h0M246 255h0M174 38h0M253 342h0M149 391h0M308 302h0M272 331h0M328 389h0M130 79h0M138 110h0M228 270h0M248 433h0M227 377h0M343 337h0M172 410h0M266 368h0M244 252h0M333 338h0M276 294h0M312 312h0M165 495h0M349 387h0M327 258h0M231 415h0M258 302h0M222 420h0M290 352h0M292 367h0M130 143h0M329 331h0M99 261h0M296 318h0M298 283h0M164 94h0M259 361h0M253 402h0M114 67h0M195 499h0M232 174h0M168 427h0M285 223h0M371 270h0M262 344h0M227 429h0M282 335h0M209 493h0M282 320h0M384 255h0M126 21h0M130 279h0M214 399h0M237 40h0M146 93h0M337 227h0M265 182h0M287 322h0M286 342h0M260 385h0M213 381h0M278 297h0M243 276h0M237 484h0M183 52h0M248 461h0M192 233h0M291 231h0M127 71h0M291 356h0M203 376h0M202 158h0M150 155h0M230 436h0M226 94h0M189 411h0M244 192h0M204 465h0M254 293h0M230 176h0M127 308h0M112 252h0M236 369h0M166 183h0M132 48h0M224 444h0M415 298h0M175 412h0M146 37h0M387 64h0M284 327h0M261 355h0M195 92h0M116 440h0M192 78h0M252 243h0M303 438h0M245 156h0M260 457h0M369 293h0M215 488h0M205 464h0M294 386h0M203 361h0M284 358h0M227 177h0M233 490h0M160 495h0M286 177h0M127 104h0M277 262h0M206 61h0M294 376h0M166 79h0M160 443h0M183 463h0M170 439h0M194 306h0M113 300h0M94 315h0M196 278h0M169 160h0M304 193h0M274 374h0M282 422h0M424 264h0M309 353h0M158 105h0M195 264h0M185 118h0M315 277h0M239 454h0M301 405h0M338 260h0M196 379h0M143 376h0M228 258h0M192 109h0M183 450h0M313 381h0M201 400h0M332 281h0M227 462h0" stroke="#46f27c" stroke-width="3.4" stroke-linecap="round" stroke-opacity="0.9" fill="none"/>
<path d="M317 463h0M444 123h0M269 117h0M439 32h0M9 286h0M118 262h0M66 278h0M323 21h0M43 42h0M12 392h0M65 407h0M45 407h0M461 273h0M259 203h0M124 357h0M123 230h0M307 47h0M28 282h0M23 469h0M387 155h0M490 309h0M419 391h0M40 282h0M7 491h0M64 437h0M58 237h0M369 381h0M33 262h0M224 103h0M438 121h0M87 412h0M392 370h0M156 260h0M445 257h0M158 143h0M362 451h0M443 104h0M349 15h0M299 94h0M102 345h0M373 384h0M410 229h0M123 253h0M55 308h0M117 164h0M349 161h0M471 81h0M331 21h0M345 52h0M142 136h0M26 55h0M402 304h0M63 354h0M480 345h0M401 115h0M150 291h0M31 477h0M311 24h0M350 467h0M421 56h0M99 219h0M320 138h0M416 147h0M116 324h0M428 359h0M438 246h0M71 181h0M447 77h0M214 124h0M470 22h0M10 176h0M212 10h0M36 246h0M32 307h0M370 392h0M421 176h0M300 467h0M447 37h0M49 462h0M417 449h0M10 229h0M233 16h0M450 164h0M30 11h0M147 364h0M234 125h0M314 437h0M74 445h0M381 419h0M207 58h0M70 122h0M92 287h0M121 255h0M409 110h0M399 230h0M120 385h0" stroke="#46f27c" stroke-width="4.2" stroke-linecap="round" stroke-opacity="0.35" fill="none"/>
<path d="M141 295h0M239 468h0M409 109h0M253 466h0M88 365h0M98 263h0M140 306h0M347 83h0M347 376h0M175 455h0M253 21h0M71 309h0M121 440h0M259 342h0M332 404h0M358 84h0M163 58h0M248 406h0M123 133h0M395 257h0M330 385h0M381 249h0M437 243h0M248 408h0M216 2h0M168 365h0M113 348h0M187 78h0M237 101h0M267 250h0M339 378h0M451 49h0M195 199h0M308 290h0M126 458h0M150 351h0M329 400h0M112 154h0M140 60h0M79 352h0M328 369h0M469 89h0M309 64h0M266 263h0M204 351h0M183 485h0M404 274h0M100 111h0M405 294h0M249 467h0M96 27h0M119 36h0M377 365h0M357 120h0M396 369h0M384 359h0M164 125h0M290 154h0M119 269h0M294 443h0M141 464h0M429 225h0M142 7h0M193 422h0M283 239h0M146 318h0M309 484h0M137 143h0M303 277h0M380 225h0M367 255h0M225 235h0M366 296h0M249 442h0M362 450h0M371 363h0M495 132h0M328 454h0M203 309h0M202 332h0M125 432h0M106 180h0M277 396h0M253 406h0M342 299h0M136 458h0M428 234h0M133 486h0M186 277h0M12 360h0M210 143h0M397 123h0M167 382h0M414 166h0M122 340h0M266 282h0M27 321h0M155 110h0M201 188h0M271 138h0M313 368h0M252 298h0M157 104h0M137 288h0M322 394h0M137 397h0M59 241h0M260 48h0M88 275h0M339 412h0M243 255h0M489 31h0M239 302h0M256 164h0M137 81h0M417 10h0M146 153h0M385 328h0M194 313h0M123 401h0M369 156h0M86 423h0M191 497h0M34 247h0M164 367h0M121 468h0M377 245h0M180 468h0M263 487h0M324 209h0M138 281h0M206 285h0M138 167h0M210 356h0M259 441h0M374 173h0M196 247h0M161 330h0M18 182h0M200 375h0M231 357h0M340 497h0M331 260h0M230 220h0M270 65h0M346 428h0M360 260h0M185 255h0M376 304h0M123 354h0M295 266h0M286 415h0M212 456h0M248 433h0M336 315h0M319 328h0M105 251h0M102 363h0M321 169h0M147 346h0M196 487h0M395 168h0M142 422h0M398 132h0M158 251h0M458 93h0M170 259h0M57 334h0M186 437h0M370 51h0M435 298h0M228 350h0M170 500h0M250 445h0M373 351h0M213 255h0M109 492h0M283 243h0M152 1h0M492 272h0M487 88h0M397 113h0M242 340h0M173 154h0M345 221h0M276 212h0M324 285h0M144 78h0M171 261h0M163 131h0M293 378h0M99 471h0M124 285h0M399 59h0M296 146h0M228 499h0M431 361h0M156 478h0M425 197h0M199 447h0M346 290h0M271 281h0M119 416h0M246 160h0M136 50h0M382 151h0M66 233h0M208 244h0M131 377h0M311 6h0M145 12h0M62 239h0M218 4h0M337 132h0M423 275h0M404 196h0M317 213h0M251 15h0M267 365h0M423 65h0M237 384h0M137 125h0M181 135h0M323 207h0M130 65h0M209 405h0M318 384h0M428 307h0M123 54h0M150 104h0M156 492h0M240 432h0M262 183h0M20 178h0M325 231h0M449 100h0M253 233h0M115 97h0M371 98h0M406 358h0M5 228h0M201 368h0M316 424h0M168 74h0M166 93h0M207 388h0M103 249h0M287 448h0M394 4h0M39 47h0M192 446h0M284 320h0M74 142h0M407 402h0M151 477h0M54 264h0M353 328h0M364 192h0M89 61h0M317 231h0M245 31h0M343 437h0M232 162h0M362 122h0M427 119h0M31 164h0M161 327h0M262 476h0M430 57h0M162 247h0M427 119h0M83 64h0M318 298h0M112 25h0M283 440h0M250 485h0M108 317h0M270 67h0M332 82h0M263 89h0M370 371h0M231 298h0M114 348h0M206 384h0M234 315h0M114 186h0M268 493h0M273 239h0M192 336h0M298 345h0M38 351h0M198 311h0M252 446h0M253 93h0M228 233h0M425 180h0M319 248h0M366 63h0M275 52h0M436 251h0M255 12h0M209 111h0M401 114h0M119 286h0M161 443h0M129 158h0M136 64h0M474 317h0M262 463h0M250 322h0M190 387h0M257 237h0M107 129h0M377 149h0M220 409h0M51 216h0M415 65h0M456 59h0M240 72h0M295 159h0M82 456h0M346 309h0M373 150h0M63 323h0M411 359h0M75 321h0M372 274h0M218 169h0M369 67h0M317 99h0M383 63h0" stroke="#46f27c" stroke-width="4.2" stroke-linecap="round" stroke-opacity="0.6" fill="none"/>
<path d="M256 338h0M170 77h0M263 433h0M153 120h0M326 267h0M236 227h0M221 418h0M185 483h0M164 128h0M186 112h0M162 459h0M208 134h0M155 252h0M237 399h0M174 385h0M310 308h0M215 429h0M136 413h0M208 354h0M168 375h0M291 380h0M304 319h0M131 492h0M203 85h0M281 415h0M231 464h0M193 190h0M186 498h0M353 342h0M276 368h0M381 280h0M138 430h0M230 413h0M202 308h0M278 376h0M347 266h0M305 247h0M339 287h0M389 226h0M293 316h0M201 155h0M40 282h0M165 27h0M185 232h0M236 340h0M312 360h0M189 15h0M273 398h0M285 218h0M156 466h0M141 430h0M364 297h0M266 373h0M136 33h0M276 363h0M203 165h0M321 366h0M188 403h0M220 278h0M140 434h0M223 355h0M177 3h0M241 430h0M241 366h0M169 412h0M196 426h0M224 63h0M155 409h0M221 31h0M328 299h0M248 336h0M245 464h0M224 116h0M376 292h0M276 320h0M262 410h0M244 400h0M141 408h0M320 393h0M171 376h0M164 174h0M227 388h0M246 430h0M153 390h0M277 315h0M259 345h0M167 497h0M431 64h0M250 317h0M252 377h0M226 444h0M252 393h0M296 379h0M228 455h0M246 494h0M205 157h0M224 239h0M428 272h0M170 470h0M291 343h0M296 346h0M250 151h0M230 305h0M227 441h0M223 207h0M162 463h0M319 267h0M198 261h0M245 304h0M348 325h0M183 419h0M297 289h0M358 375h0M290 325h0M141 452h0M170 442h0M128 318h0M246 454h0M421 281h0M338 389h0M232 98h0M251 268h0M215 388h0M219 30h0M180 188h0M113 92h0M225 320h0M278 221h0M143 440h0M238 447h0M166 9h0M278 389h0M218 415h0M165 63h0M252 324h0M213 439h0M217 368h0M215 447h0M316 251h0M108 497h0M132 463h0M249 144h0M191 161h0M283 370h0M235 232h0M187 390h0M440 76h0M210 279h0M164 94h0M147 276h0M214 356h0M207 208h0M248 256h0M266 349h0M259 321h0M303 336h0M140 76h0M130 432h0M263 390h0M179 374h0M78 259h0M240 336h0M288 480h0M158 476h0M320 400h0M347 331h0M197 140h0M342 386h0M133 64h0M74 219h0" stroke="#46f27c" stroke-width="4.2" stroke-linecap="round" stroke-opacity="0.9" fill="none"/>
<path d="M266 65h0M75 310h0M279 488h0M436 246h0M372 306h0M436 173h0M353 466h0M42 393h0M267 500h0M107 437h0M177 286h0M206 61h0M351 159h0M54 335h0M29 352h0M388 432h0M273 172h0M70 182h0M456 411h0M211 69h0M318 120h0M500 188h0M453 400h0M486 280h0M29 338h0M432 365h0M128 393h0M16 482h0M404 241h0M281 107h0M29 182h0M416 242h0M343 79h0M374 426h0M294 470h0M349 111h0M264 1h0M436 139h0M69 412h0M469 115h0M67 224h0M437 347h0M215 67h0M370 25h0M157 365h0M151 203h0M20 320h0M354 179h0M331 218h0M341 126h0M325 133h0M142 19h0M458 237h0M455 106h0M49 422h0M455 32h0M317 171h0M331 48h0M415 267h0M124 140h0M256 26h0M415 134h0M133 131h0M429 309h0M117 461h0M67 376h0M257 99h0M320 104h0M496 233h0M205 41h0M84 209h0M38 440h0M283 151h0M323 205h0M467 230h0M175 273h0M50 414h0M501 281h0M111 235h0M331 6h0M398 431h0M1 102h0M121 308h0M135 159h0M109 72h0M332 423h0M336 107h0M49 58h0M298 473h0M418 299h0M471 183h0M113 99h0M459 99h0M91 223h0M100 56h0M51 129h0M150 340h0M342 410h0M153 196h0M109 120h0M410 186h0M444 109h0M124 193h0M429 128h0M103 50h0M372 83h0M258 485h0M84 103h0M63 182h0M337 439h0M403 138h0M98 463h0M491 65h0M265 221h0M48 431h0M326 410h0M26 457h0M426 121h0M15 217h0M125 338h0M364 35h0M255 215h0M201 233h0M103 387h0M362 199h0M70 275h0M119 350h0M139 199h0M129 356h0M41 176h0" stroke="#46f27c" stroke-width="5.0" stroke-linecap="round" stroke-opacity="0.35" fill="none"/>
<path d="M311 451h0M204 29h0M192 29h0M128 261h0M422 19h0M218 23h0M360 287h0M190 427h0M218 102h0M342 353h0M39 217h0M146 485h0M433 50h0M274 346h0M346 450h0M180 339h0M155 75h0M133 231h0M182 310h0M302 411h0M346 226h0M298 15h0M73 84h0M250 182h0M147 494h0M180 270h0M66 179h0M155 135h0M236 379h0M180 421h0M134 342h0M221 353h0M296 190h0M164 124h0M85 22h0M342 424h0M96 205h0M173 212h0M175 0h0M241 16h0M407 275h0M202 450h0M187 148h0M311 195h0M413 151h0M340 72h0M300 243h0M432 233h0M459 235h0M174 338h0M243 385h0M205 342h0M237 500h0M108 171h0M357 334h0M292 251h0M180 495h0M230 3h0M434 341h0M64 379h0M105 449h0M151 355h0M76 319h0M197 447h0M182 309h0M435 150h0M438 174h0M338 397h0M184 52h0M142 30h0M262 390h0M235 453h0M165 402h0M237 451h0M211 329h0M62 330h0M232 455h0M33 83h0M400 82h0M230 324h0M184 23h0M398 310h0M404 341h0M113 9h0M127 476h0M155 81h0M467 204h0M490 275h0M486 187h0M229 308h0M165 404h0M320 242h0M189 467h0M268 229h0M316 281h0M46 323h0M281 359h0M105 339h0M341 422h0M118 79h0M191 300h0M243 255h0M178 338h0M263 193h0M394 85h0M333 414h0M446 2h0M387 313h0M263 215h0M345 301h0M471 299h0M145 431h0M227 99h0M417 9h0M288 105h0M316 291h0M451 267h0M365 334h0M478 272h0M143 48h0M192 163h0M162 493h0M214 490h0M259 312h0M107 67h0M85 169h0M118 349h0M211 108h0M382 42h0M446 273h0M17 228h0M207 96h0M459 218h0M76 194h0M189 397h0M208 213h0M196 245h0M363 162h0M222 456h0M320 202h0M13 185h0M287 394h0M98 216h0M268 207h0M241 312h0M277 263h0M273 411h0M138 383h0M493 47h0M302 438h0M167 471h0M230 292h0M313 467h0M240 432h0M82 353h0M296 307h0M282 397h0M304 182h0M158 173h0M369 380h0M278 209h0M207 268h0M238 85h0M153 104h0M148 431h0M350 217h0M89 231h0M340 275h0M95 295h0M467 171h0M281 78h0M300 314h0M404 317h0M224 364h0M315 272h0M238 430h0M310 342h0M161 122h0M55 236h0M196 403h0M390 278h0M104 55h0M430 222h0M432 22h0M374 232h0M197 321h0M291 52h0M147 402h0M309 300h0M397 134h0M343 277h0M397 99h0M178 311h0M218 463h0M111 74h0M269 413h0M63 340h0M371 276h0M275 436h0M62 200h0M187 259h0M341 195h0M441 298h0M168 455h0M301 243h0M204 126h0M143 320h0M218 484h0M292 333h0M66 217h0M224 188h0M408 241h0M36 146h0M294 304h0M269 168h0M422 202h0M485 237h0M62 434h0M323 382h0M146 267h0M365 398h0M164 43h0M194 184h0M260 366h0M212 211h0M277 488h0M154 88h0M92 181h0M417 264h0M251 68h0M329 371h0M254 179h0M180 412h0M95 156h0M382 130h0M180 209h0M46 284h0M455 289h0M106 181h0M190 8h0M273 452h0M82 183h0M242 215h0M176 375h0M121 127h0M97 302h0M139 143h0M293 172h0M158 422h0M191 473h0M424 353h0M288 130h0M420 80h0M290 191h0M138 142h0M340 374h0M412 167h0M212 247h0M164 445h0M357 203h0M280 451h0M451 75h0M426 53h0M412 46h0M386 237h0M204 446h0M162 376h0M194 150h0M403 333h0M153 218h0M158 63h0M169 296h0M146 135h0M281 180h0M113 465h0M84 144h0M108 155h0M312 60h0M306 231h0M279 77h0M210 141h0M183 451h0M257 311h0M61 224h0M296 414h0M203 44h0M385 178h0M110 17h0M289 325h0M156 257h0M219 261h0M373 184h0M321 456h0M142 349h0M183 93h0M147 19h0M261 70h0M12 246h0M415 238h0M327 417h0M149 216h0M202 383h0M115 358h0M378 161h0M334 143h0M406 348h0M177 153h0M159 273h0M94 107h0M173 461h0M186 436h0M321 451h0M355 350h0M124 463h0M104 258h0M189 93h0M275 189h0" stroke="#46f27c" stroke-width="5.0" stroke-linecap="round" stroke-opacity="0.6" fill="none"/>
<path d="M201 397h0M316 407h0M354 337h0M186 369h0M300 241h0M181 484h0M226 436h0M214 171h0M64 208h0M202 115h0M224 200h0M242 437h0M281 354h0M120 462h0M74 272h0M269 424h0M278 391h0M198 441h0M69 306h0M228 442h0M219 211h0M240 333h0M229 474h0M252 356h0M385 298h0M164 110h0M198 2h0M181 166h0M426 270h0M155 478h0M162 155h0M170 487h0M113 495h0M303 367h0M287 357h0M186 467h0M265 450h0M156 104h0M346 347h0M134 444h0M313 421h0M309 394h0M295 376h0M251 374h0M293 187h0M435 107h0M274 234h0M336 284h0M326 334h0M183 349h0M111 90h0M179 412h0M331 356h0M292 300h0M232 366h0M214 13h0M252 364h0M211 113h0M231 461h0M242 397h0M135 275h0M232 95h0M380 89h0M175 131h0M271 367h0M261 425h0M165 187h0M181 496h0M371 360h0M223 240h0M244 452h0M309 283h0M290 238h0M53 270h0M265 311h0M325 211h0M163 430h0M200 4h0M184 471h0M145 472h0M218 495h0M195 429h0M195 451h0M228 497h0M159 105h0M127 498h0M348 340h0M342 374h0M364 378h0M187 472h0M207 150h0M241 296h0M289 262h0M233 183h0M193 415h0M253 264h0M399 70h0M136 47h0M190 412h0M273 363h0M158 13h0M233 305h0M298 341h0M251 408h0M194 426h0M190 11h0M222 26h0M213 123h0M143 149h0M169 156h0M279 301h0M167 445h0M157 478h0M377 207h0M122 422h0M205 406h0M270 184h0M252 140h0M141 116h0M284 404h0M168 115h0M173 474h0M261 284h0M206 281h0M254 408h0M286 342h0M229 237h0M148 50h0M251 88h0M193 119h0M278 328h0M157 483h0M155 3h0M385 322h0M338 284h0M347 319h0M232 396h0M286 376h0M184 250h0M207 182h0M274 399h0M242 474h0M286 329h0M133 73h0M232 489h0M319 316h0M154 43h0M250 382h0M363 218h0M227 433h0M203 122h0M192 466h0M207 177h0M192 112h0M134 48h0M178 251h0M179 102h0M214 285h0M283 354h0M167 275h0M286 342h0M203 392h0M233 61h0M400 105h0" stroke="#46f27c" stroke-width="5.0" stroke-linecap="round" stroke-opacity="0.9" fill="none"/>
<path d="M335 0 L370 0 L370 175 L330 170 Z" fill="#1a30c0" opacity="0.7" filter="url(#bl4)"/>
<path d="M206.4 0 L343.6 0 C339 14 337 28 335.3 41.6 C331 55 328 70 326.1 83.1 C324 97 322 110 321.4 124.7 C320 135 319 143 318.6 149.6 C316 157 313 162 310.3 166.2 C305 170 299 172 293.7 173.2 C285 174 275 173 266 171.8 C261 170 258 168 254.9 166.2 C249 162 244 158 241 155.2 C236 146 233 136 230 124.7 C227 112 225 97 224.4 83.1 C223 70 221 55 218.9 41.6 C216 28 210 14 206.4 0 Z" fill="#1a2cc0" opacity="0.8" filter="url(#bl4)"/>
<path d="M206.4 0 L343.6 0 C339 14 337 28 335.3 41.6 C331 55 328 70 326.1 83.1 C324 97 322 110 321.4 124.7 C320 135 319 143 318.6 149.6 C316 157 313 162 310.3 166.2 C305 170 299 172 293.7 173.2 C285 174 275 173 266 171.8 C261 170 258 168 254.9 166.2 C249 162 244 158 241 155.2 C236 146 233 136 230 124.7 C227 112 225 97 224.4 83.1 C223 70 221 55 218.9 41.6 C216 28 210 14 206.4 0 Z" fill="#00002e"/>
<ellipse cx="77" cy="113" rx="5" ry="9" fill="#040a50" filter="url(#bl2)"/>
<path d="M94 421 C88 428 70 455 62 471 C52 485 44 495 39 500 L159 500 C145 485 125 460 117 450 C108 438 99 426 94 421 Z" fill="#1a2ab8" opacity="0.8" filter="url(#bl4)"/>
<path d="M94 421 C88 428 70 455 62 471 C52 485 44 495 39 500 L159 500 C145 485 125 460 117 450 C108 438 99 426 94 421 Z" fill="#000a4a"/>
<path d="M204.5 0 L204.5 181.5" stroke="#fff" stroke-width="2.6" fill="none" stroke-dasharray="8 5"/>
<path d="M369.9 0 L369.9 181.5" stroke="#fff" stroke-width="2.6" fill="none" stroke-dasharray="8 5"/>
<ellipse cx="287.2" cy="181.5" rx="82.7" ry="5" stroke="#fff" stroke-width="2.6" fill="none" stroke-dasharray="8 5"/>
<path d="M0.2 290.6 L8.5 288.3 L16.9 286.3 L25.3 284.5 L33.8 282.9 L42.3 281.5 L50.9 280.3 L59.5 279.3 L68.1 278.6 L76.7 278 L85.3 277.7 L93.9 277.6 L102.6 277.7 L111.2 278 L119.8 278.6 L128.4 279.3 L137 280.3 L145.5 281.4 L154.1 282.8 L162.5 284.4 L171 286.2 L179.4 288.3 L187.7 290.5 L196 292.9 L204.2 295.6 L212.4 298.4 L220.4 301.5 L228.4 304.7 L236.4 308.2 L244.2 311.8 L251.9 315.6 L259.6 319.7 L267.1 323.9 L274.5 328.3 L281.8 332.9 L289 337.6 L296.1 342.6 L303 347.7 L309.9 353 L316.6 358.5 L323.1 364.1 L329.5 369.9 L335.8 375.8 L341.9 381.9 L347.8 388.2 L353.6 394.6 L359.3 401.1 L364.7 407.8 L370 414.6 L375.2 421.5 L380.1 428.6 L384.9 435.8 L389.5 443.1 L393.9 450.5 L398.2 458 L402.2 465.7 L406 473.4 L409.7 481.2 L413.2 489.1 L416.4 497.1 L419.5 505.2" stroke="#fff" stroke-width="1.6" fill="none" stroke-dasharray="5 4"/>
</g>
<text x="1054.5" y="259.5" fill="#fff">dmSC</text>
<text x="801" y="422.2" fill="#fff">dPAG</text>
<text x="1053" y="560.2" fill="#fff">200 &#956;m</text>
<rect x="1076.3" y="568.5" width="64.7" height="5" fill="#fff"/>
<rect x="154" y="21" width="323" height="47" fill="#4a7fc0"/>
<text x="315.5" y="53" font-size="25" text-anchor="middle" fill="#fff">Dorsal Periaqueductal Gray</text>
<rect x="751" y="21" width="324" height="48" fill="#b5529b"/>
<text x="913" y="53" font-size="25" text-anchor="middle" fill="#fff">Medial Superior Colliculus</text>
<text x="6" y="34" font-size="41" fill="#1a1718" font-weight="bold">a</text>
<text x="610" y="34" font-size="41" fill="#1a1718" font-weight="bold">b</text>
<text x="6" y="664" font-size="41" fill="#1a1718" font-weight="bold">c</text>
<text x="609" y="668" font-size="41" fill="#1a1718" font-weight="bold">d</text>
<text x="6" y="1010.2" font-size="41" fill="#1a1718" font-weight="bold">e</text>
<text x="734" y="1012" font-size="41" fill="#1a1718" font-weight="bold">f</text>
<text x="6" y="1492" font-size="41" fill="#1a1718" font-weight="bold">g</text>
<text x="734" y="1492" font-size="41" fill="#1a1718" font-weight="bold">h</text>
<text x="6" y="1928" font-size="41" fill="#1a1718" font-weight="bold">i</text>
<text x="490" y="1928" font-size="41" fill="#1a1718" font-weight="bold">j</text>
<text x="933" y="1928" font-size="41" fill="#1a1718" font-weight="bold">k</text>
<text x="1245" y="53" font-size="41" fill="#1a1718" font-weight="bold">l</text>
<text x="1568" y="53" font-size="41" fill="#1a1718" font-weight="bold">m</text>
<text x="1530" y="1021" font-size="41" fill="#1a1718" font-weight="bold">n</text>
<rect x="117.7" y="700.5" width="416" height="180.3" fill="#0c1520"/>
<path d="M172 700.5H190V718.5H172ZM244.3 700.5H262.4V718.5H244.3ZM298.6 700.5H316.7V718.5H298.6ZM352.8 700.5H407.1V718.5H352.8ZM117.7 718.5H135.8V736.6H117.7ZM172 718.5H190V736.6H172ZM153.9 736.6H190V754.6H153.9ZM244.3 736.6H262.4V754.6H244.3ZM280.5 736.6H316.7V754.6H280.5ZM352.8 736.6H370.9V754.6H352.8ZM389 736.6H407.1V754.6H389ZM425.2 736.6H443.3V754.6H425.2ZM280.5 754.6H298.6V772.6H280.5ZM479.4 754.6H497.5V772.6H479.4ZM153.9 772.6H190V790.6H153.9ZM244.3 772.6H262.4V790.6H244.3ZM280.5 772.6H298.6V790.6H280.5ZM352.8 772.6H370.9V790.6H352.8ZM389 772.6H407.1V790.6H389ZM479.4 772.6H515.6V790.6H479.4ZM117.7 790.6H135.8V808.7H117.7ZM244.3 790.6H262.4V808.7H244.3ZM280.5 790.6H316.7V808.7H280.5ZM352.8 790.6H407.1V808.7H352.8ZM172 808.7H190V826.7H172ZM352.8 808.7H370.9V826.7H352.8ZM389 808.7H407.1V826.7H389ZM153.9 826.7H172V844.7H153.9ZM244.3 826.7H262.4V844.7H244.3ZM280.5 826.7H298.6V844.7H280.5ZM352.8 826.7H370.9V844.7H352.8ZM389 826.7H407.1V844.7H389ZM244.3 844.7H262.4V862.8H244.3ZM352.8 844.7H370.9V862.8H352.8ZM461.4 844.7H479.4V862.8H461.4ZM153.9 862.8H172V880.8H153.9Z" fill="#4a8bcb" shape-rendering="crispEdges"/>
<rect x="726" y="700" width="413" height="181.7" fill="#150b1a"/>
<path d="M726 700H744.8V718.2H726ZM782.3 700H876.2V718.2H782.3ZM895 700H913.7V718.2H895ZM932.5 700H951.3V718.2H932.5ZM988.8 700H1026.4V718.2H988.8ZM1082.7 700H1101.5V718.2H1082.7ZM726 718.2H744.8V736.3H726ZM782.3 718.2H801.1V736.3H782.3ZM819.9 718.2H838.6V736.3H819.9ZM857.4 718.2H1007.6V736.3H857.4ZM1120.2 718.2H1139V736.3H1120.2ZM1045.1 736.3H1063.9V754.5H1045.1ZM726 754.5H763.5V772.7H726ZM782.3 754.5H801.1V772.7H782.3ZM857.4 754.5H895V772.7H857.4ZM913.7 754.5H970V772.7H913.7ZM988.8 754.5H1026.4V772.7H988.8ZM1082.7 754.5H1101.5V772.7H1082.7ZM726 772.7H744.8V790.9H726ZM838.6 772.7H857.4V790.9H838.6ZM1045.1 772.7H1063.9V790.9H1045.1ZM1120.2 772.7H1139V790.9H1120.2ZM726 790.9H744.8V809H726ZM782.3 790.9H838.6V809H782.3ZM857.4 790.9H1026.4V809H857.4ZM1082.7 790.9H1101.5V809H1082.7ZM1120.2 790.9H1139V809H1120.2ZM726 809H744.8V827.2H726ZM876.2 809H895V827.2H876.2ZM913.7 809H932.5V827.2H913.7ZM951.3 809H1007.6V827.2H951.3ZM726 827.2H744.8V845.4H726ZM782.3 827.2H819.9V845.4H782.3ZM838.6 827.2H895V845.4H838.6ZM913.7 827.2H970V845.4H913.7ZM988.8 827.2H1026.4V845.4H988.8ZM1082.7 827.2H1139V845.4H1082.7ZM726 845.4H744.8V863.5H726ZM763.5 845.4H801.1V863.5H763.5ZM857.4 845.4H1007.6V863.5H857.4ZM1120.2 845.4H1139V863.5H1120.2ZM726 863.5H744.8V881.7H726ZM763.5 863.5H801.1V881.7H763.5ZM857.4 863.5H932.5V881.7H857.4ZM951.3 863.5H1026.4V881.7H951.3Z" fill="#a33e96" shape-rendering="crispEdges"/>
<text x="285.4" y="683.5">Cell #</text>
<text x="112" y="691.5">1</text>
<text x="544" y="691.5" text-anchor="end">23</text>
<text x="104" y="721" text-anchor="end">1</text>
<text x="105.5" y="888.5" text-anchor="end">10</text>
<text transform="translate(96.5 793.4) rotate(-90)" text-anchor="middle" font-size="29.4">Trial #</text>
<text x="901.5" y="683.5">Cell #</text>
<text x="719" y="691.5">1</text>
<text x="1142.5" y="691.5" text-anchor="end">22</text>
<text x="710.5" y="721" text-anchor="end">1</text>
<text x="712.5" y="888.5" text-anchor="end">10</text>
<text transform="translate(703 793.4) rotate(-90)" text-anchor="middle" font-size="29.4">Trial #</text>
<line x1="172.3" y1="1042.5" x2="172.3" y2="1374.1" stroke="#111" stroke-width="2.2"/>
<line x1="159.3" y1="1042.5" x2="173.4" y2="1042.5" stroke="#111" stroke-width="2.2"/>
<text x="149" y="1052.1" text-anchor="end">100</text>
<line x1="159.3" y1="1109" x2="173.4" y2="1109" stroke="#111" stroke-width="2.2"/>
<text x="149" y="1118.6" text-anchor="end">80</text>
<line x1="159.3" y1="1174.9" x2="173.4" y2="1174.9" stroke="#111" stroke-width="2.2"/>
<text x="149" y="1184.5" text-anchor="end">60</text>
<line x1="159.3" y1="1241" x2="173.4" y2="1241" stroke="#111" stroke-width="2.2"/>
<text x="149" y="1250.6" text-anchor="end">40</text>
<line x1="159.3" y1="1307.1" x2="173.4" y2="1307.1" stroke="#111" stroke-width="2.2"/>
<text x="149" y="1316.7" text-anchor="end">20</text>
<line x1="159.3" y1="1373" x2="173.4" y2="1373" stroke="#111" stroke-width="2.2"/>
<text x="149" y="1382.6" text-anchor="end">0</text>
<line x1="214.8" y1="1109" x2="214.8" y2="1229.2" stroke="#a9b9df" stroke-width="4"/>
<line x1="214.8" y1="1326" x2="214.8" y2="1371.3" stroke="#a9b9df" stroke-width="4"/>
<rect x="188" y="1229.2" width="53.6" height="96.8" fill="#4480c0"/>
<line x1="200.3" y1="1109" x2="228.7" y2="1109" stroke="#a9b9df" stroke-width="4"/>
<line x1="200.3" y1="1371.3" x2="228.7" y2="1371.3" stroke="#a9b9df" stroke-width="4"/>
<line x1="189.5" y1="1305.6" x2="240.1" y2="1305.6" stroke="#aebde2" stroke-width="3.6"/>
<text transform="translate(90.5 1215.2) rotate(-90)" text-anchor="middle" font-size="29.4">Single cell reliability (%)</text>
<line x1="467.5" y1="1042.5" x2="467.5" y2="1374.1" stroke="#111" stroke-width="2.2"/>
<line x1="453.7" y1="1042.5" x2="468.6" y2="1042.5" stroke="#111" stroke-width="2.2"/>
<text x="444" y="1052.1" text-anchor="end">100</text>
<line x1="453.7" y1="1109" x2="468.6" y2="1109" stroke="#111" stroke-width="2.2"/>
<text x="444" y="1118.6" text-anchor="end">80</text>
<line x1="453.7" y1="1174.9" x2="468.6" y2="1174.9" stroke="#111" stroke-width="2.2"/>
<text x="444" y="1184.5" text-anchor="end">60</text>
<line x1="453.7" y1="1241" x2="468.6" y2="1241" stroke="#111" stroke-width="2.2"/>
<text x="444" y="1250.6" text-anchor="end">40</text>
<line x1="453.7" y1="1307.1" x2="468.6" y2="1307.1" stroke="#111" stroke-width="2.2"/>
<text x="444" y="1316.7" text-anchor="end">20</text>
<line x1="453.7" y1="1373" x2="468.6" y2="1373" stroke="#111" stroke-width="2.2"/>
<text x="444" y="1382.6" text-anchor="end">0</text>
<line x1="512.9" y1="1045" x2="512.9" y2="1204.8" stroke="#a9b9df" stroke-width="4"/>
<rect x="483.8" y="1204.8" width="58.2" height="168.2" fill="#4480c0"/>
<line x1="499.8" y1="1045" x2="525.2" y2="1045" stroke="#a9b9df" stroke-width="4"/>
<line x1="499.8" y1="1371" x2="525.2" y2="1371" stroke="#a9b9df" stroke-width="4"/>
<line x1="485.3" y1="1305.2" x2="540.5" y2="1305.2" stroke="#aebde2" stroke-width="3.6"/>
<line x1="585.5" y1="1045.7" x2="585.5" y2="1239.3" stroke="#a9b9df" stroke-width="4"/>
<rect x="556.4" y="1239.3" width="58.1" height="133.7" fill="#4480c0"/>
<line x1="572.6" y1="1045.7" x2="598.4" y2="1045.7" stroke="#a9b9df" stroke-width="4"/>
<line x1="572.6" y1="1371" x2="598.4" y2="1371" stroke="#a9b9df" stroke-width="4"/>
<line x1="557.9" y1="1289.5" x2="613" y2="1289.5" stroke="#aebde2" stroke-width="3.6"/>
<text transform="translate(389.5 1215) rotate(-90)" text-anchor="middle" font-size="29.4">Single cell reliability (%)</text>
<text x="497" y="1025.7" font-size="27">1</text>
<text x="512" y="1018.7" font-size="18">st</text>
<text x="566" y="1025.7" font-size="27">2</text>
<text x="581" y="1018.7" font-size="18">nd</text>
<line x1="902.4" y1="1043" x2="902.4" y2="1374.5" stroke="#111" stroke-width="2.2"/>
<line x1="888.6" y1="1043" x2="903.5" y2="1043" stroke="#111" stroke-width="2.2"/>
<text x="875.5" y="1052.6" text-anchor="end">100</text>
<line x1="888.6" y1="1109.2" x2="903.5" y2="1109.2" stroke="#111" stroke-width="2.2"/>
<text x="875.5" y="1118.8" text-anchor="end">80</text>
<line x1="888.6" y1="1175.3" x2="903.5" y2="1175.3" stroke="#111" stroke-width="2.2"/>
<text x="875.5" y="1184.9" text-anchor="end">60</text>
<line x1="888.6" y1="1241" x2="903.5" y2="1241" stroke="#111" stroke-width="2.2"/>
<text x="875.5" y="1250.6" text-anchor="end">40</text>
<line x1="888.6" y1="1307" x2="903.5" y2="1307" stroke="#111" stroke-width="2.2"/>
<text x="875.5" y="1316.6" text-anchor="end">20</text>
<line x1="888.6" y1="1373.4" x2="903.5" y2="1373.4" stroke="#111" stroke-width="2.2"/>
<text x="875.5" y="1383" text-anchor="end">0</text>
<line x1="944.8" y1="1046.8" x2="944.8" y2="1208.3" stroke="#d6aecf" stroke-width="4"/>
<line x1="944.8" y1="1320.7" x2="944.8" y2="1346" stroke="#d6aecf" stroke-width="4"/>
<rect x="916.6" y="1208.3" width="56.4" height="112.4" fill="#b5529b"/>
<line x1="927.8" y1="1046.8" x2="962.2" y2="1046.8" stroke="#d6aecf" stroke-width="4"/>
<line x1="927.8" y1="1346" x2="962.2" y2="1346" stroke="#d6aecf" stroke-width="4"/>
<line x1="918.1" y1="1275.5" x2="971.5" y2="1275.5" stroke="#e2b6da" stroke-width="3.6"/>
<text transform="translate(825.5 1215.5) rotate(-90)" text-anchor="middle" font-size="29.4">Single cell reliability (%)</text>
<line x1="1203.8" y1="1040.3" x2="1203.8" y2="1371.3" stroke="#111" stroke-width="2.2"/>
<line x1="1191" y1="1040.3" x2="1204.9" y2="1040.3" stroke="#111" stroke-width="2.2"/>
<text x="1185.3" y="1049.9" text-anchor="end">100</text>
<line x1="1191" y1="1106.4" x2="1204.9" y2="1106.4" stroke="#111" stroke-width="2.2"/>
<text x="1185.3" y="1116" text-anchor="end">80</text>
<line x1="1191" y1="1172.5" x2="1204.9" y2="1172.5" stroke="#111" stroke-width="2.2"/>
<text x="1185.3" y="1182.1" text-anchor="end">60</text>
<line x1="1191" y1="1238.4" x2="1204.9" y2="1238.4" stroke="#111" stroke-width="2.2"/>
<text x="1185.3" y="1248" text-anchor="end">40</text>
<line x1="1191" y1="1304.1" x2="1204.9" y2="1304.1" stroke="#111" stroke-width="2.2"/>
<text x="1185.3" y="1313.7" text-anchor="end">20</text>
<line x1="1191" y1="1370.2" x2="1204.9" y2="1370.2" stroke="#111" stroke-width="2.2"/>
<text x="1185.3" y="1379.8" text-anchor="end">0</text>
<line x1="1249.8" y1="1040.7" x2="1249.8" y2="1189" stroke="#d6aecf" stroke-width="4"/>
<line x1="1249.8" y1="1259.3" x2="1249.8" y2="1312" stroke="#d6aecf" stroke-width="4"/>
<rect x="1222" y="1189" width="55.5" height="70.3" fill="#b5529b"/>
<line x1="1234.8" y1="1040.7" x2="1264.1" y2="1040.7" stroke="#d6aecf" stroke-width="4"/>
<line x1="1234.8" y1="1312" x2="1264.1" y2="1312" stroke="#d6aecf" stroke-width="4"/>
<line x1="1223.5" y1="1257.3" x2="1276" y2="1257.3" stroke="#e2b6da" stroke-width="3.6"/>
<line x1="1319.8" y1="1042.5" x2="1319.8" y2="1103.2" stroke="#d6aecf" stroke-width="4"/>
<line x1="1319.8" y1="1262.1" x2="1319.8" y2="1314.9" stroke="#d6aecf" stroke-width="4"/>
<rect x="1291.5" y="1103.2" width="56.6" height="158.9" fill="#b5529b"/>
<line x1="1305" y1="1042.5" x2="1334.5" y2="1042.5" stroke="#d6aecf" stroke-width="4"/>
<line x1="1305" y1="1314.9" x2="1334.5" y2="1314.9" stroke="#d6aecf" stroke-width="4"/>
<line x1="1293" y1="1260.3" x2="1346.6" y2="1260.3" stroke="#e2b6da" stroke-width="3.6"/>
<text transform="translate(1127 1215.5) rotate(-90)" text-anchor="middle" font-size="29.4">Single cell reliability (%)</text>
<text x="1236.7" y="1025.7" font-size="27">1</text>
<text x="1251.7" y="1018.7" font-size="18">st</text>
<text x="1304" y="1025.7" font-size="27">2</text>
<text x="1319" y="1018.7" font-size="18">nd</text>
<line x1="170.3" y1="1508" x2="170.3" y2="1838.8" stroke="#111" stroke-width="2.2"/>
<line x1="156.8" y1="1508" x2="171.4" y2="1508" stroke="#111" stroke-width="2.2"/>
<text x="149" y="1517.6" text-anchor="end">100</text>
<line x1="156.8" y1="1574" x2="171.4" y2="1574" stroke="#111" stroke-width="2.2"/>
<text x="149" y="1583.6" text-anchor="end">80</text>
<line x1="156.8" y1="1639.9" x2="171.4" y2="1639.9" stroke="#111" stroke-width="2.2"/>
<text x="149" y="1649.5" text-anchor="end">60</text>
<line x1="156.8" y1="1706" x2="171.4" y2="1706" stroke="#111" stroke-width="2.2"/>
<text x="149" y="1715.6" text-anchor="end">40</text>
<line x1="156.8" y1="1771.7" x2="171.4" y2="1771.7" stroke="#111" stroke-width="2.2"/>
<text x="149" y="1781.3" text-anchor="end">20</text>
<line x1="156.8" y1="1837.7" x2="171.4" y2="1837.7" stroke="#111" stroke-width="2.2"/>
<text x="149" y="1847.3" text-anchor="end">0</text>
<line x1="213.8" y1="1629.5" x2="213.8" y2="1759.4" stroke="#a9b9df" stroke-width="4"/>
<line x1="213.8" y1="1834.3" x2="213.8" y2="1836.5" stroke="#a9b9df" stroke-width="4"/>
<rect x="185.6" y="1759.4" width="56.3" height="74.9" fill="#4480c0"/>
<line x1="199.1" y1="1629.5" x2="228.4" y2="1629.5" stroke="#a9b9df" stroke-width="4"/>
<line x1="199.1" y1="1836.5" x2="228.4" y2="1836.5" stroke="#a9b9df" stroke-width="4"/>
<line x1="187.1" y1="1796" x2="240.4" y2="1796" stroke="#aebde2" stroke-width="3.6"/>
<text transform="translate(93 1683.5) rotate(-90)" text-anchor="middle" font-size="29.4">Active cells per trial (%)</text>
<line x1="468.3" y1="1506.9" x2="468.3" y2="1837.2" stroke="#111" stroke-width="2.2"/>
<line x1="454.8" y1="1506.9" x2="469.4" y2="1506.9" stroke="#111" stroke-width="2.2"/>
<text x="444.5" y="1516.5" text-anchor="end">100</text>
<line x1="454.8" y1="1572.8" x2="469.4" y2="1572.8" stroke="#111" stroke-width="2.2"/>
<text x="444.5" y="1582.4" text-anchor="end">80</text>
<line x1="454.8" y1="1639" x2="469.4" y2="1639" stroke="#111" stroke-width="2.2"/>
<text x="444.5" y="1648.6" text-anchor="end">60</text>
<line x1="454.8" y1="1704.5" x2="469.4" y2="1704.5" stroke="#111" stroke-width="2.2"/>
<text x="444.5" y="1714.1" text-anchor="end">40</text>
<line x1="454.8" y1="1770.2" x2="469.4" y2="1770.2" stroke="#111" stroke-width="2.2"/>
<text x="444.5" y="1779.8" text-anchor="end">20</text>
<line x1="454.8" y1="1836.1" x2="469.4" y2="1836.1" stroke="#111" stroke-width="2.2"/>
<text x="444.5" y="1845.7" text-anchor="end">0</text>
<line x1="513.6" y1="1629.5" x2="513.6" y2="1755.5" stroke="#a9b9df" stroke-width="4"/>
<line x1="513.6" y1="1817.4" x2="513.6" y2="1837.7" stroke="#a9b9df" stroke-width="4"/>
<rect x="484.7" y="1755.5" width="57.8" height="61.9" fill="#4480c0"/>
<line x1="500.2" y1="1629.5" x2="526.8" y2="1629.5" stroke="#a9b9df" stroke-width="4"/>
<line x1="500.2" y1="1837.7" x2="526.8" y2="1837.7" stroke="#a9b9df" stroke-width="4"/>
<line x1="486.2" y1="1792.2" x2="541" y2="1792.2" stroke="#aebde2" stroke-width="3.6"/>
<line x1="585.3" y1="1664.9" x2="585.3" y2="1768.6" stroke="#a9b9df" stroke-width="4"/>
<rect x="556.7" y="1768.6" width="57.2" height="70.2" fill="#4480c0"/>
<line x1="572.2" y1="1664.9" x2="598.3" y2="1664.9" stroke="#a9b9df" stroke-width="4"/>
<line x1="572.2" y1="1837.2" x2="598.3" y2="1837.2" stroke="#a9b9df" stroke-width="4"/>
<line x1="558.2" y1="1798.3" x2="612.4" y2="1798.3" stroke="#aebde2" stroke-width="3.6"/>
<text transform="translate(384 1681.3) rotate(-90)" text-anchor="middle" font-size="29.4">Active cells per trial (%)</text>
<text x="500" y="1606.6" font-size="27">1</text>
<text x="515" y="1599.6" font-size="18">st</text>
<text x="567" y="1606.6" font-size="27">2</text>
<text x="582" y="1599.6" font-size="18">nd</text>
<line x1="905.6" y1="1510.3" x2="905.6" y2="1840.6" stroke="#111" stroke-width="2.2"/>
<line x1="892.1" y1="1510.3" x2="906.7" y2="1510.3" stroke="#111" stroke-width="2.2"/>
<text x="875.5" y="1519.9" text-anchor="end">100</text>
<line x1="892.1" y1="1576.6" x2="906.7" y2="1576.6" stroke="#111" stroke-width="2.2"/>
<text x="875.5" y="1586.2" text-anchor="end">80</text>
<line x1="892.1" y1="1642.3" x2="906.7" y2="1642.3" stroke="#111" stroke-width="2.2"/>
<text x="875.5" y="1651.9" text-anchor="end">60</text>
<line x1="892.1" y1="1707.8" x2="906.7" y2="1707.8" stroke="#111" stroke-width="2.2"/>
<text x="875.5" y="1717.4" text-anchor="end">40</text>
<line x1="892.1" y1="1774" x2="906.7" y2="1774" stroke="#111" stroke-width="2.2"/>
<text x="875.5" y="1783.6" text-anchor="end">20</text>
<line x1="892.1" y1="1839.5" x2="906.7" y2="1839.5" stroke="#111" stroke-width="2.2"/>
<text x="875.5" y="1849.1" text-anchor="end">0</text>
<line x1="948.4" y1="1619.4" x2="948.4" y2="1731.5" stroke="#d6aecf" stroke-width="4"/>
<line x1="948.4" y1="1817.4" x2="948.4" y2="1827" stroke="#d6aecf" stroke-width="4"/>
<rect x="922" y="1731.5" width="52.7" height="85.9" fill="#b5529b"/>
<line x1="932.6" y1="1619.4" x2="964.6" y2="1619.4" stroke="#d6aecf" stroke-width="4"/>
<line x1="932.6" y1="1827" x2="964.6" y2="1827" stroke="#d6aecf" stroke-width="4"/>
<line x1="923.5" y1="1792.2" x2="973.2" y2="1792.2" stroke="#e2b6da" stroke-width="3.6"/>
<text transform="translate(816 1684) rotate(-90)" text-anchor="middle" font-size="29.4">Active cells per trial (%)</text>
<line x1="1208.5" y1="1508.7" x2="1208.5" y2="1838.8" stroke="#111" stroke-width="2.2"/>
<line x1="1195.7" y1="1508.7" x2="1209.6" y2="1508.7" stroke="#111" stroke-width="2.2"/>
<text x="1185.3" y="1518.3" text-anchor="end">100</text>
<line x1="1195.7" y1="1574.4" x2="1209.6" y2="1574.4" stroke="#111" stroke-width="2.2"/>
<text x="1185.3" y="1584" text-anchor="end">80</text>
<line x1="1195.7" y1="1640.3" x2="1209.6" y2="1640.3" stroke="#111" stroke-width="2.2"/>
<text x="1185.3" y="1649.9" text-anchor="end">60</text>
<line x1="1195.7" y1="1706" x2="1209.6" y2="1706" stroke="#111" stroke-width="2.2"/>
<text x="1185.3" y="1715.6" text-anchor="end">40</text>
<line x1="1195.7" y1="1771.7" x2="1209.6" y2="1771.7" stroke="#111" stroke-width="2.2"/>
<text x="1185.3" y="1781.3" text-anchor="end">20</text>
<line x1="1195.7" y1="1837.7" x2="1209.6" y2="1837.7" stroke="#111" stroke-width="2.2"/>
<text x="1185.3" y="1847.3" text-anchor="end">0</text>
<line x1="1253.8" y1="1649.1" x2="1253.8" y2="1740.5" stroke="#d6aecf" stroke-width="4"/>
<line x1="1253.8" y1="1819" x2="1253.8" y2="1828.7" stroke="#d6aecf" stroke-width="4"/>
<rect x="1226" y="1740.5" width="55.6" height="78.5" fill="#b5529b"/>
<line x1="1239.3" y1="1649.1" x2="1268.6" y2="1649.1" stroke="#d6aecf" stroke-width="4"/>
<line x1="1239.3" y1="1828.7" x2="1268.6" y2="1828.7" stroke="#d6aecf" stroke-width="4"/>
<line x1="1227.5" y1="1801.7" x2="1280.1" y2="1801.7" stroke="#e2b6da" stroke-width="3.6"/>
<line x1="1320.8" y1="1617.8" x2="1320.8" y2="1682.4" stroke="#d6aecf" stroke-width="4"/>
<line x1="1320.8" y1="1806.8" x2="1320.8" y2="1819.7" stroke="#d6aecf" stroke-width="4"/>
<rect x="1292.9" y="1682.4" width="55.8" height="124.4" fill="#b5529b"/>
<line x1="1306.4" y1="1617.8" x2="1335.6" y2="1617.8" stroke="#d6aecf" stroke-width="4"/>
<line x1="1306.4" y1="1819.7" x2="1335.6" y2="1819.7" stroke="#d6aecf" stroke-width="4"/>
<line x1="1294.4" y1="1778" x2="1347.2" y2="1778" stroke="#e2b6da" stroke-width="3.6"/>
<text transform="translate(1127 1683.5) rotate(-90)" text-anchor="middle" font-size="29.4">Active cells per trial (%)</text>
<text x="1238" y="1580.5" font-size="27">1</text>
<text x="1253" y="1573.5" font-size="18">st</text>
<text x="1304.7" y="1580.5" font-size="27">2</text>
<text x="1319.7" y="1573.5" font-size="18">nd</text>
<line x1="1360.4" y1="91" x2="1360.4" y2="425.2" stroke="#111" stroke-width="2.2"/>
<line x1="1348.4" y1="140.2" x2="1361.5" y2="140.2" stroke="#111" stroke-width="2.2"/>
<text x="1344" y="149.8" text-anchor="end">30</text>
<line x1="1348.4" y1="234.4" x2="1361.5" y2="234.4" stroke="#111" stroke-width="2.2"/>
<text x="1344" y="244" text-anchor="end">20</text>
<line x1="1348.4" y1="329.5" x2="1361.5" y2="329.5" stroke="#111" stroke-width="2.2"/>
<text x="1344" y="339.1" text-anchor="end">10</text>
<line x1="1348.4" y1="424.1" x2="1361.5" y2="424.1" stroke="#111" stroke-width="2.2"/>
<text x="1344" y="433.7" text-anchor="end">0</text>
<line x1="1398" y1="95.8" x2="1398" y2="113.7" stroke="#a9b9df" stroke-width="4"/>
<line x1="1398" y1="174.7" x2="1398" y2="201.3" stroke="#a9b9df" stroke-width="4"/>
<rect x="1370" y="113.7" width="56" height="61" fill="#4480c0"/>
<line x1="1383.9" y1="95.8" x2="1412" y2="95.8" stroke="#a9b9df" stroke-width="4"/>
<line x1="1383.9" y1="201.3" x2="1412" y2="201.3" stroke="#a9b9df" stroke-width="4"/>
<line x1="1371.5" y1="135.7" x2="1424.5" y2="135.7" stroke="#aebde2" stroke-width="3.6"/>
<line x1="1466" y1="135.7" x2="1466" y2="146" stroke="#a9b9df" stroke-width="4"/>
<line x1="1466" y1="164.9" x2="1466" y2="170.7" stroke="#a9b9df" stroke-width="4"/>
<rect x="1437.9" y="146" width="56.1" height="18.9" fill="#4480c0"/>
<line x1="1451.5" y1="135.7" x2="1480" y2="135.7" stroke="#a9b9df" stroke-width="4"/>
<line x1="1451.5" y1="170.7" x2="1480" y2="170.7" stroke="#a9b9df" stroke-width="4"/>
<line x1="1439.4" y1="153" x2="1492.5" y2="153" stroke="#aebde2" stroke-width="3.6"/>
<text transform="translate(1292.5 258.4) rotate(-90)" text-anchor="middle" font-size="29.4">Maximum speed (cm/s)</text>
<text transform="translate(1399 277) rotate(-90)" text-anchor="middle" font-size="29.4">Escape</text>
<text transform="translate(1475.5 247) rotate(-90)" text-anchor="middle" font-size="29.4">Running</text>
<line x1="1362.7" y1="555.3" x2="1362.7" y2="882.4" stroke="#111" stroke-width="2.2"/>
<line x1="1350" y1="610.6" x2="1363.8" y2="610.6" stroke="#111" stroke-width="2.2"/>
<text x="1344" y="620.2" text-anchor="end">2.0</text>
<line x1="1350" y1="678" x2="1363.8" y2="678" stroke="#111" stroke-width="2.2"/>
<text x="1344" y="687.6" text-anchor="end">1.5</text>
<line x1="1350" y1="745.9" x2="1363.8" y2="745.9" stroke="#111" stroke-width="2.2"/>
<text x="1344" y="755.5" text-anchor="end">1.0</text>
<line x1="1350" y1="813.4" x2="1363.8" y2="813.4" stroke="#111" stroke-width="2.2"/>
<text x="1344" y="823" text-anchor="end">0.5</text>
<line x1="1350" y1="881.3" x2="1363.8" y2="881.3" stroke="#111" stroke-width="2.2"/>
<text x="1344" y="890.9" text-anchor="end">0.0</text>
<line x1="1403.5" y1="552.5" x2="1403.5" y2="666" stroke="#a9b9df" stroke-width="4"/>
<line x1="1403.5" y1="752.4" x2="1403.5" y2="797.4" stroke="#a9b9df" stroke-width="4"/>
<rect x="1377.2" y="666" width="52.5" height="86.4" fill="#4480c0"/>
<line x1="1387.3" y1="552.5" x2="1415.7" y2="552.5" stroke="#a9b9df" stroke-width="4"/>
<line x1="1387.3" y1="797.4" x2="1415.7" y2="797.4" stroke="#a9b9df" stroke-width="4"/>
<line x1="1378.7" y1="708.7" x2="1428.2" y2="708.7" stroke="#aebde2" stroke-width="3.6"/>
<line x1="1468.1" y1="835.2" x2="1468.1" y2="837" stroke="#a9b9df" stroke-width="4"/>
<line x1="1468.1" y1="871.4" x2="1468.1" y2="876" stroke="#a9b9df" stroke-width="4"/>
<rect x="1439.9" y="837" width="56.3" height="34.4" fill="#4480c0"/>
<line x1="1453.8" y1="835.2" x2="1482.7" y2="835.2" stroke="#a9b9df" stroke-width="4"/>
<line x1="1453.8" y1="876" x2="1482.7" y2="876" stroke="#a9b9df" stroke-width="4"/>
<line x1="1441.4" y1="853.8" x2="1494.7" y2="853.8" stroke="#aebde2" stroke-width="3.6"/>
<text transform="translate(1286.5 718.9) rotate(-90)" text-anchor="middle" font-size="29.4">Peak calcium (Z-score)</text>
<text transform="translate(1436 607.4) rotate(-90)" text-anchor="middle" font-size="29.4">Escape</text>
<text transform="translate(1478 758) rotate(-90)" text-anchor="middle" font-size="29.4">Running</text>
<line x1="1696.4" y1="94.9" x2="1696.4" y2="416.5" stroke="#111" stroke-width="2.2"/>
<line x1="1684.4" y1="126" x2="1697.4" y2="126" stroke="#111" stroke-width="2.2"/>
<text x="1675.4" y="135.6" text-anchor="end">60</text>
<line x1="1684.4" y1="189.7" x2="1697.4" y2="189.7" stroke="#111" stroke-width="2.2"/>
<text x="1675.4" y="199.3" text-anchor="end">50</text>
<line x1="1684.4" y1="253.5" x2="1697.4" y2="253.5" stroke="#111" stroke-width="2.2"/>
<text x="1675.4" y="263.1" text-anchor="end">40</text>
<line x1="1684.4" y1="317.2" x2="1697.4" y2="317.2" stroke="#111" stroke-width="2.2"/>
<text x="1675.4" y="326.8" text-anchor="end">30</text>
<line x1="1684.4" y1="381" x2="1697.4" y2="381" stroke="#111" stroke-width="2.2"/>
<text x="1675.4" y="390.6" text-anchor="end">20</text>
<line x1="1704.4" y1="421" x2="2071.4" y2="421" stroke="#111" stroke-width="2.2"/>
<line x1="1712.4" y1="420" x2="1712.4" y2="435" stroke="#111" stroke-width="2.2"/>
<text x="1712.4" y="465" text-anchor="middle">5</text>
<line x1="1787.7" y1="420" x2="1787.7" y2="435" stroke="#111" stroke-width="2.2"/>
<text x="1787.7" y="465" text-anchor="middle">10</text>
<line x1="1865.4" y1="420" x2="1865.4" y2="435" stroke="#111" stroke-width="2.2"/>
<text x="1865.4" y="465" text-anchor="middle">15</text>
<line x1="1941.6" y1="420" x2="1941.6" y2="435" stroke="#111" stroke-width="2.2"/>
<text x="1941.6" y="465" text-anchor="middle">20</text>
<line x1="2019.5" y1="420" x2="2019.5" y2="435" stroke="#111" stroke-width="2.2"/>
<text x="2019.5" y="465" text-anchor="middle">25</text>
<ellipse cx="2015.1" cy="115.6" rx="5.8" ry="4.9" fill="#9dc3e6"/>
<ellipse cx="1928.2" cy="152.1" rx="5.8" ry="4.9" fill="#9dc3e6"/>
<ellipse cx="1981.9" cy="157.1" rx="5.8" ry="4.9" fill="#9dc3e6"/>
<ellipse cx="2064.9" cy="172.8" rx="5.8" ry="4.9" fill="#9dc3e6"/>
<ellipse cx="2064.9" cy="180.3" rx="5.8" ry="4.9" fill="#9dc3e6"/>
<ellipse cx="1905.4" cy="178.8" rx="5.8" ry="4.9" fill="#9dc3e6"/>
<ellipse cx="1958.2" cy="180.8" rx="5.8" ry="4.9" fill="#9dc3e6"/>
<ellipse cx="1862.4" cy="197.2" rx="5.8" ry="4.9" fill="#9dc3e6"/>
<ellipse cx="1918.7" cy="212.3" rx="5.8" ry="4.9" fill="#9dc3e6"/>
<ellipse cx="1807" cy="212.3" rx="5.8" ry="4.9" fill="#9dc3e6"/>
<ellipse cx="1842.2" cy="221.8" rx="5.8" ry="4.9" fill="#9dc3e6"/>
<ellipse cx="1920.8" cy="234.2" rx="5.8" ry="4.9" fill="#9dc3e6"/>
<ellipse cx="1953.7" cy="232.1" rx="5.8" ry="4.9" fill="#9dc3e6"/>
<ellipse cx="1785.3" cy="233" rx="5.8" ry="4.9" fill="#9dc3e6"/>
<ellipse cx="1766" cy="241.3" rx="5.8" ry="4.9" fill="#9dc3e6"/>
<ellipse cx="1786.8" cy="244.3" rx="5.8" ry="4.9" fill="#9dc3e6"/>
<ellipse cx="1807.6" cy="245.8" rx="5.8" ry="4.9" fill="#9dc3e6"/>
<ellipse cx="1804.9" cy="247.9" rx="5.8" ry="4.9" fill="#9dc3e6"/>
<ellipse cx="1771.4" cy="258.2" rx="5.8" ry="4.9" fill="#9dc3e6"/>
<ellipse cx="1752.7" cy="263.6" rx="5.8" ry="4.9" fill="#9dc3e6"/>
<ellipse cx="1777.3" cy="265" rx="5.8" ry="4.9" fill="#9dc3e6"/>
<ellipse cx="1875.1" cy="264.5" rx="5.8" ry="4.9" fill="#9dc3e6"/>
<ellipse cx="1888.5" cy="266.8" rx="5.8" ry="4.9" fill="#9dc3e6"/>
<ellipse cx="1840.2" cy="277.2" rx="5.8" ry="4.9" fill="#9dc3e6"/>
<ellipse cx="1740.8" cy="283.1" rx="5.8" ry="4.9" fill="#9dc3e6"/>
<ellipse cx="1756.6" cy="283.1" rx="5.8" ry="4.9" fill="#9dc3e6"/>
<ellipse cx="1730.5" cy="294.4" rx="5.8" ry="4.9" fill="#9dc3e6"/>
<ellipse cx="1770.5" cy="289.9" rx="5.8" ry="4.9" fill="#9dc3e6"/>
<ellipse cx="1800.7" cy="298.8" rx="5.8" ry="4.9" fill="#9dc3e6"/>
<ellipse cx="1762.5" cy="303.9" rx="5.8" ry="4.9" fill="#9dc3e6"/>
<ellipse cx="1756.3" cy="307.4" rx="5.8" ry="4.9" fill="#9dc3e6"/>
<ellipse cx="1817.6" cy="307.1" rx="5.8" ry="4.9" fill="#9dc3e6"/>
<ellipse cx="1775.8" cy="317.8" rx="5.8" ry="4.9" fill="#9dc3e6"/>
<ellipse cx="1812" cy="324.6" rx="5.8" ry="4.9" fill="#9dc3e6"/>
<ellipse cx="1823" cy="325.5" rx="5.8" ry="4.9" fill="#9dc3e6"/>
<ellipse cx="1864.5" cy="328.5" rx="5.8" ry="4.9" fill="#9dc3e6"/>
<ellipse cx="1810.2" cy="355.8" rx="5.8" ry="4.9" fill="#9dc3e6"/>
<ellipse cx="1727.5" cy="369.1" rx="5.8" ry="4.9" fill="#9dc3e6"/>
<ellipse cx="1796" cy="404.7" rx="5.8" ry="4.9" fill="#9dc3e6"/>
<line x1="1711.2" y1="322.6" x2="2081.8" y2="139.3" stroke="#4a8dcb" stroke-width="4.2"/>
<text x="1719.5" y="121.5" fill="#3f77a6">r = 0.70</text>
<text transform="translate(1622 258.7) rotate(-90)" text-anchor="middle" font-size="29.4">Escape&#160;&#160;speed (cm/s)</text>
<text x="1797" y="505.5">Peak &#916;F/F (%)</text>
<line x1="1696.4" y1="550.5" x2="1696.4" y2="872.8" stroke="#111" stroke-width="2.2"/>
<line x1="1684.4" y1="581.7" x2="1697.4" y2="581.7" stroke="#111" stroke-width="2.2"/>
<text x="1675.4" y="591.3" text-anchor="end">60</text>
<line x1="1684.4" y1="645.1" x2="1697.4" y2="645.1" stroke="#111" stroke-width="2.2"/>
<text x="1675.4" y="654.7" text-anchor="end">50</text>
<line x1="1684.4" y1="708.9" x2="1697.4" y2="708.9" stroke="#111" stroke-width="2.2"/>
<text x="1675.4" y="718.5" text-anchor="end">40</text>
<line x1="1684.4" y1="772.6" x2="1697.4" y2="772.6" stroke="#111" stroke-width="2.2"/>
<text x="1675.4" y="782.2" text-anchor="end">30</text>
<line x1="1684.4" y1="836.3" x2="1697.4" y2="836.3" stroke="#111" stroke-width="2.2"/>
<text x="1675.4" y="845.9" text-anchor="end">20</text>
<line x1="1703.8" y1="881.1" x2="2085.3" y2="881.1" stroke="#111" stroke-width="2.2"/>
<line x1="1707.3" y1="880.1" x2="1707.3" y2="895.1" stroke="#111" stroke-width="2.2"/>
<text x="1707.3" y="925.1" text-anchor="middle">5</text>
<line x1="1794.2" y1="880.1" x2="1794.2" y2="895.1" stroke="#111" stroke-width="2.2"/>
<text x="1794.2" y="925.1" text-anchor="middle">10</text>
<line x1="1887.6" y1="880.1" x2="1887.6" y2="895.1" stroke="#111" stroke-width="2.2"/>
<text x="1887.6" y="925.1" text-anchor="middle">15</text>
<line x1="1978.9" y1="880.1" x2="1978.9" y2="895.1" stroke="#111" stroke-width="2.2"/>
<text x="1978.9" y="925.1" text-anchor="middle">20</text>
<line x1="2072.9" y1="880.1" x2="2072.9" y2="895.1" stroke="#111" stroke-width="2.2"/>
<text x="2072.9" y="925.1" text-anchor="middle">25</text>
<ellipse cx="2029.3" cy="618.4" rx="5.8" ry="4.9" fill="#dba3d2"/>
<ellipse cx="2035.8" cy="634.7" rx="5.8" ry="4.9" fill="#dba3d2"/>
<ellipse cx="2031.4" cy="642.7" rx="5.8" ry="4.9" fill="#dba3d2"/>
<ellipse cx="2043.2" cy="655.5" rx="5.8" ry="4.9" fill="#dba3d2"/>
<ellipse cx="2040.3" cy="659.3" rx="5.8" ry="4.9" fill="#dba3d2"/>
<ellipse cx="2067.6" cy="684.5" rx="5.8" ry="4.9" fill="#dba3d2"/>
<ellipse cx="2004.7" cy="672.7" rx="5.8" ry="4.9" fill="#dba3d2"/>
<ellipse cx="1965.6" cy="664.4" rx="5.8" ry="4.9" fill="#dba3d2"/>
<ellipse cx="1898.9" cy="647.5" rx="5.8" ry="4.9" fill="#dba3d2"/>
<ellipse cx="1840.8" cy="646.9" rx="5.8" ry="4.9" fill="#dba3d2"/>
<ellipse cx="1804.6" cy="655.5" rx="5.8" ry="4.9" fill="#dba3d2"/>
<ellipse cx="1855" cy="655.5" rx="5.8" ry="4.9" fill="#dba3d2"/>
<ellipse cx="1836.6" cy="661.7" rx="5.8" ry="4.9" fill="#dba3d2"/>
<ellipse cx="1884" cy="662" rx="5.8" ry="4.9" fill="#dba3d2"/>
<ellipse cx="1782.4" cy="667.3" rx="5.8" ry="4.9" fill="#dba3d2"/>
<ellipse cx="1730.5" cy="669.7" rx="5.8" ry="4.9" fill="#dba3d2"/>
<ellipse cx="1757.7" cy="673.6" rx="5.8" ry="4.9" fill="#dba3d2"/>
<ellipse cx="1882.6" cy="679.2" rx="5.8" ry="4.9" fill="#dba3d2"/>
<ellipse cx="1821.5" cy="683.9" rx="5.8" ry="4.9" fill="#dba3d2"/>
<ellipse cx="1849.7" cy="686.9" rx="5.8" ry="4.9" fill="#dba3d2"/>
<ellipse cx="1876.3" cy="686.3" rx="5.8" ry="4.9" fill="#dba3d2"/>
<ellipse cx="1828.9" cy="691.1" rx="5.8" ry="4.9" fill="#dba3d2"/>
<ellipse cx="1845.5" cy="695.5" rx="5.8" ry="4.9" fill="#dba3d2"/>
<ellipse cx="1846.1" cy="697.9" rx="5.8" ry="4.9" fill="#dba3d2"/>
<ellipse cx="1864.5" cy="704.1" rx="5.8" ry="4.9" fill="#dba3d2"/>
<ellipse cx="1739.4" cy="690.2" rx="5.8" ry="4.9" fill="#dba3d2"/>
<ellipse cx="1760.1" cy="715.1" rx="5.8" ry="4.9" fill="#dba3d2"/>
<ellipse cx="1780.3" cy="715.7" rx="5.8" ry="4.9" fill="#dba3d2"/>
<ellipse cx="1803.1" cy="717.7" rx="5.8" ry="4.9" fill="#dba3d2"/>
<ellipse cx="1784.4" cy="723.1" rx="5.8" ry="4.9" fill="#dba3d2"/>
<ellipse cx="1806.7" cy="726.6" rx="5.8" ry="4.9" fill="#dba3d2"/>
<ellipse cx="1831.3" cy="715.1" rx="5.8" ry="4.9" fill="#dba3d2"/>
<ellipse cx="1898.9" cy="712.7" rx="5.8" ry="4.9" fill="#dba3d2"/>
<ellipse cx="1943.3" cy="716.6" rx="5.8" ry="4.9" fill="#dba3d2"/>
<ellipse cx="1903.3" cy="727.5" rx="5.8" ry="4.9" fill="#dba3d2"/>
<ellipse cx="1914.3" cy="728.7" rx="5.8" ry="4.9" fill="#dba3d2"/>
<ellipse cx="1875.1" cy="731.1" rx="5.8" ry="4.9" fill="#dba3d2"/>
<ellipse cx="1843.1" cy="730.5" rx="5.8" ry="4.9" fill="#dba3d2"/>
<ellipse cx="1829.8" cy="734.9" rx="5.8" ry="4.9" fill="#dba3d2"/>
<ellipse cx="1939.5" cy="742.9" rx="5.8" ry="4.9" fill="#dba3d2"/>
<ellipse cx="1793.3" cy="746.8" rx="5.8" ry="4.9" fill="#dba3d2"/>
<ellipse cx="1789.2" cy="754.2" rx="5.8" ry="4.9" fill="#dba3d2"/>
<ellipse cx="1742.3" cy="752.4" rx="5.8" ry="4.9" fill="#dba3d2"/>
<ellipse cx="1895.6" cy="757.2" rx="5.8" ry="4.9" fill="#dba3d2"/>
<ellipse cx="1998.8" cy="757.2" rx="5.8" ry="4.9" fill="#dba3d2"/>
<ellipse cx="1799" cy="769.6" rx="5.8" ry="4.9" fill="#dba3d2"/>
<ellipse cx="1815.9" cy="764.9" rx="5.8" ry="4.9" fill="#dba3d2"/>
<ellipse cx="1826.8" cy="766.7" rx="5.8" ry="4.9" fill="#dba3d2"/>
<ellipse cx="1902.4" cy="772.6" rx="5.8" ry="4.9" fill="#dba3d2"/>
<ellipse cx="1926.7" cy="779.7" rx="5.8" ry="4.9" fill="#dba3d2"/>
<ellipse cx="1948.4" cy="781.5" rx="5.8" ry="4.9" fill="#dba3d2"/>
<ellipse cx="1845.2" cy="783" rx="5.8" ry="4.9" fill="#dba3d2"/>
<ellipse cx="1765.5" cy="795.1" rx="5.8" ry="4.9" fill="#dba3d2"/>
<ellipse cx="1781.8" cy="797.2" rx="5.8" ry="4.9" fill="#dba3d2"/>
<ellipse cx="1787.1" cy="799" rx="5.8" ry="4.9" fill="#dba3d2"/>
<ellipse cx="1828" cy="796.6" rx="5.8" ry="4.9" fill="#dba3d2"/>
<ellipse cx="2023.1" cy="800.5" rx="5.8" ry="4.9" fill="#dba3d2"/>
<ellipse cx="1822.1" cy="809.1" rx="5.8" ry="4.9" fill="#dba3d2"/>
<ellipse cx="1869.8" cy="810.5" rx="5.8" ry="4.9" fill="#dba3d2"/>
<ellipse cx="1777.3" cy="817.4" rx="5.8" ry="4.9" fill="#dba3d2"/>
<ellipse cx="1836.3" cy="817.4" rx="5.8" ry="4.9" fill="#dba3d2"/>
<ellipse cx="1786.2" cy="826" rx="5.8" ry="4.9" fill="#dba3d2"/>
<ellipse cx="1959.6" cy="824.8" rx="5.8" ry="4.9" fill="#dba3d2"/>
<ellipse cx="1833.3" cy="842.6" rx="5.8" ry="4.9" fill="#dba3d2"/>
<line x1="1713.6" y1="752.7" x2="2081.2" y2="687.5" stroke="#a8449c" stroke-width="4.2"/>
<text x="1706" y="581.7" fill="#a8449c">r = 0.27</text>
<text transform="translate(1622 706.8) rotate(-90)" text-anchor="middle" font-size="29.4">Escape&#160;&#160;speed (cm/s)</text>
<text x="1810" y="968">Peak &#916;F/F (%)</text>
<line x1="171.6" y1="1940.8" x2="171.6" y2="2259" stroke="#111" stroke-width="2.2"/>
<line x1="158.7" y1="1964" x2="172.7" y2="1964" stroke="#111" stroke-width="2.2"/>
<text x="148.3" y="1973.6" text-anchor="end">2.0</text>
<line x1="158.7" y1="2039.9" x2="172.7" y2="2039.9" stroke="#111" stroke-width="2.2"/>
<text x="148.3" y="2049.5" text-anchor="end">1.5</text>
<line x1="158.7" y1="2110.7" x2="172.7" y2="2110.7" stroke="#111" stroke-width="2.2"/>
<text x="148.3" y="2120.3" text-anchor="end">1.0</text>
<line x1="158.7" y1="2181.8" x2="172.7" y2="2181.8" stroke="#111" stroke-width="2.2"/>
<text x="148.3" y="2191.4" text-anchor="end">0.5</text>
<line x1="158.7" y1="2258" x2="172.7" y2="2258" stroke="#111" stroke-width="2.2"/>
<text x="148.3" y="2267.6" text-anchor="end">0.0</text>
<line x1="177.2" y1="2267" x2="377.7" y2="2267" stroke="#111" stroke-width="2.2"/>
<line x1="191.8" y1="2266" x2="191.8" y2="2281.6" stroke="#111" stroke-width="2.2"/>
<text x="191.8" y="2312" text-anchor="middle">0.2</text>
<line x1="258.7" y1="2266" x2="258.7" y2="2281.6" stroke="#111" stroke-width="2.2"/>
<text x="258.7" y="2312" text-anchor="middle">0.6</text>
<line x1="326.1" y1="2266" x2="326.1" y2="2281.6" stroke="#111" stroke-width="2.2"/>
<text x="326.1" y="2312" text-anchor="middle">1.0</text>
<circle cx="187.4" cy="1967.6" r="6.8" fill="#d9a5d0"/>
<circle cx="194" cy="2018.7" r="6.8" fill="#d9a5d0"/>
<circle cx="214.2" cy="2056.9" r="6.8" fill="#d9a5d0"/>
<circle cx="286.7" cy="2125.1" r="6.8" fill="#d9a5d0"/>
<circle cx="342.7" cy="2212.2" r="6.8" fill="#d9a5d0"/>
<circle cx="367.5" cy="2166" r="6.8" fill="#d9a5d0"/>
<line x1="187.4" y1="1948.1" x2="187.4" y2="1985.9" stroke="#a8449c" stroke-width="2.4"/>
<line x1="194" y1="2000" x2="194" y2="2034" stroke="#a8449c" stroke-width="2.4"/>
<line x1="214.2" y1="2040.6" x2="214.2" y2="2073" stroke="#a8449c" stroke-width="2.4"/>
<line x1="286.7" y1="2111.2" x2="286.7" y2="2137.2" stroke="#a8449c" stroke-width="2.4"/>
<line x1="342.7" y1="2193.5" x2="342.7" y2="2231.2" stroke="#a8449c" stroke-width="2.4"/>
<line x1="367.5" y1="2155.7" x2="367.5" y2="2175.7" stroke="#a8449c" stroke-width="2.4"/>
<line x1="178.9" y1="1992.7" x2="377.2" y2="2215.8" stroke="#a8449c" stroke-width="2.6"/>
<text x="271" y="2053.5" fill="#a8449c">r = -0.94</text>
<text transform="translate(87.5 2113.6) rotate(-90)" text-anchor="middle" font-size="29.4">Escape latency (s)</text>
<text x="124.5" y="2362">Calcium rise slope (Z/s)</text>
<path d="M513.8 2262.9 L516.7 2242.5 L521.4 2249.7 L525.5 2248.5 L529.8 2238.9 L534.6 2225.8 L540.6 2231.8 L546.6 2205.4 L553.8 2205.4 L559.7 2185.1 L568.1 2176.7 L572.9 2149.2 L582.5 2131.3 L594.4 2106.1 L600.4 2107.3 L605.2 2126.5 L611.2 2109.7 L616.4 2067.8 L628.4 2067.8 L628.4 2169.5 L618.4 2170.7 L613.6 2173.1 L605.2 2225.8 L594.4 2207.8 L587.3 2229.4 L576.5 2246.1 L572.9 2248.5 L562.1 2258.1 L553.8 2283.2 L541.8 2268.8 L531 2267.7 L521.4 2278.4 L513.8 2272.4Z" fill="#e6c9e2"/>
<path d="M513.8 2267.7 C514.5 2265.1 516.6 2252.7 517.9 2252.1 C519.1 2251.5 520.3 2263.3 521.4 2264.1 C522.6 2264.9 523.8 2257.1 525 2256.9 C526.2 2256.7 526.8 2265.7 528.6 2262.9 C530.4 2260.1 533.8 2241.7 535.8 2240.1 C537.8 2238.5 538.9 2254.5 540.6 2253.3 C542.3 2252.1 544.3 2234.9 546.1 2233 C547.9 2231 549.9 2239.3 551.4 2241.3 C552.8 2243.3 553.4 2248.3 554.9 2244.9 C556.5 2241.5 558.9 2224.6 560.9 2221 C562.9 2217.4 564.9 2228.2 566.9 2223.4 C568.9 2218.6 571.3 2196.5 572.9 2192.3 C574.5 2188.1 575.1 2199.3 576.5 2198.3 C577.9 2197.3 579.5 2190.1 581.3 2186.3 C583.1 2182.5 585.3 2180.5 587.3 2175.5 C589.2 2170.5 591.2 2158.8 593.2 2156.4 C595.2 2154 597 2157.8 599.2 2161.2 C601.4 2164.6 604.4 2178.5 606.4 2176.7 C608.4 2174.9 609.5 2160 611.2 2150.4 C612.9 2140.8 614.9 2124.9 616.4 2119.3 C618 2113.7 619 2116.9 620.3 2116.9 C621.6 2116.9 623.1 2119.1 624.3 2119.3 C625.5 2119.5 626.4 2116.1 627.5 2118.1 C628.5 2120.1 630.2 2129.1 630.8 2131.3" fill="none" stroke="#b04aa0" stroke-width="3"/>
<path d="M673.4 2265.3 L680.6 2262.9 L690.1 2259.3 L697.3 2265.3 L728.4 2265.3 L733.2 2253.3 L740.4 2247.3 L748.8 2241.3 L757.2 2246.1 L764.3 2253.3 L771.5 2253.3 L778.7 2249.7 L783.5 2224.6 L790.7 2222.2 L796.6 2210.2 L801.4 2179.1 L805 2143.2 L808.6 2107.3 L811.7 2071.4 L814.6 2033.1 L814.6 2014 L814.6 2047.5 L811 2095.4 L807.4 2138.4 L803.8 2179.1 L799 2215 L795.4 2260.5 L788.3 2262.9 L783.5 2262.9 L778.7 2277.2 L764.3 2276 L752.4 2272.4 L742.8 2272.4 L730.8 2272.4 L727.2 2286.8 L699.7 2284.4 L680.6 2282 L674.6 2278.4Z" fill="#e6c9e2"/>
<path d="M673.4 2271.2 C674.2 2271.6 676.8 2273.5 678.2 2273.6 C679.6 2273.8 680.2 2272.4 681.8 2272 C683.4 2271.6 686.2 2272 687.8 2271.2 C689.4 2270.5 689.7 2267.3 691.3 2267.7 C692.9 2268.1 691.3 2272.5 697.3 2273.6 C703.3 2274.8 721.5 2276.3 727.2 2274.4 C733 2272.4 730.2 2264.4 732 2261.7 C733.8 2259 736.2 2257.7 738 2258.1 C739.8 2258.5 741.2 2264.9 742.8 2264.1 C744.4 2263.3 745.4 2255.3 747.6 2253.3 C749.8 2251.3 753.8 2251.5 756 2252.1 C758.1 2252.7 759.1 2254.3 760.7 2256.9 C762.3 2259.5 763.9 2266.5 765.5 2267.7 C767.1 2268.8 768.7 2265.3 770.3 2264.1 C771.9 2262.9 773.7 2260.1 775.1 2260.5 C776.5 2260.9 777.3 2269 778.7 2266.5 C780.1 2263.9 781.9 2248.5 783.5 2244.9 C785.1 2241.3 786.9 2244.7 788.3 2244.9 C789.7 2245.1 790.5 2248.3 791.8 2246.1 C793.2 2243.9 795.2 2236.9 796.6 2231.8 C798 2226.6 799 2223.8 800.2 2215 C801.4 2206.2 802.6 2192.3 803.8 2179.1 C805 2166 806.2 2150.8 807.4 2136 C808.6 2121.3 809.8 2106.9 811 2090.6 C812.2 2074.2 814 2046.7 814.6 2037.9" fill="none" stroke="#b04aa0" stroke-width="3"/>
<rect x="548.2" y="1976.4" width="80.2" height="27.6" fill="#8e1a1f"/>
<text x="588.3" y="1999.5" font-size="25" text-anchor="middle" fill="#fff">98%</text>
<rect x="732" y="1976.4" width="82.1" height="27.6" fill="#8e1a1f"/>
<text x="773" y="1999.5" font-size="25" text-anchor="middle" fill="#fff">sound</text>
<line x1="629.8" y1="1976.4" x2="629.8" y2="2289.2" stroke="#111" stroke-width="3" stroke-dasharray="3.2 3.2"/>
<line x1="815.3" y1="1976.4" x2="815.3" y2="2289.2" stroke="#111" stroke-width="3" stroke-dasharray="3.2 3.2"/>
<text transform="translate(662 2045.1) rotate(-90)" text-anchor="middle" font-size="29.4">Escape</text>
<text transform="translate(847.5 2045) rotate(-90)" text-anchor="middle" font-size="29.4">Escape</text>
<line x1="780.6" y1="2116.9" x2="780.6" y2="2179.1" stroke="#111" stroke-width="2.2"/>
<text x="673.5" y="2159.5">0.25 Z</text>
<line x1="740.4" y1="2313.1" x2="787.8" y2="2313.1" stroke="#111" stroke-width="2.2"/>
<text x="762" y="2349" text-anchor="middle">2 s</text>
<line x1="1078.1" y1="1990.9" x2="1078.1" y2="2285.3" stroke="#111" stroke-width="2.2"/>
<line x1="1065.7" y1="1990.9" x2="1079.2" y2="1990.9" stroke="#111" stroke-width="2.2"/>
<text x="1061" y="2001.8" font-size="33" text-anchor="end">1.0</text>
<line x1="1065.7" y1="2049.7" x2="1079.2" y2="2049.7" stroke="#111" stroke-width="2.2"/>
<text x="1061" y="2060.6" font-size="33" text-anchor="end">0.9</text>
<line x1="1065.7" y1="2109.2" x2="1079.2" y2="2109.2" stroke="#111" stroke-width="2.2"/>
<text x="1061" y="2120.1" font-size="33" text-anchor="end">0.8</text>
<line x1="1065.7" y1="2167.4" x2="1079.2" y2="2167.4" stroke="#111" stroke-width="2.2"/>
<text x="1061" y="2178.3" font-size="33" text-anchor="end">0.7</text>
<line x1="1065.7" y1="2226" x2="1079.2" y2="2226" stroke="#111" stroke-width="2.2"/>
<text x="1061" y="2236.9" font-size="33" text-anchor="end">0.6</text>
<line x1="1065.7" y1="2284.2" x2="1079.2" y2="2284.2" stroke="#111" stroke-width="2.2"/>
<text x="1061" y="2295.1" font-size="33" text-anchor="end">0.5</text>
<line x1="1121.5" y1="2106.1" x2="1121.5" y2="2143.3" stroke="#d6aecf" stroke-width="4"/>
<line x1="1106.9" y1="2106.1" x2="1136.3" y2="2106.1" stroke="#d6aecf" stroke-width="4"/>
<rect x="1093.6" y="2143.3" width="55.7" height="144.6" fill="#b5529b"/>
<text transform="translate(989 2136.3) rotate(-90)" text-anchor="middle" font-size="29.4">Pre-escape ROC auc</text>
<text x="1219" y="1988.4">No head rotation</text>
<path d="M1253.1 2254.8 L1259.3 2254.8 L1267 2217.6 L1274.8 2194.4 L1281 2208.3 L1287.2 2223.8 L1294.9 2209.9 L1301.1 2208.3 L1305.7 2216.1 L1315 2177.3 L1322.8 2141.7 L1329 2155.7 L1336.7 2158.8 L1346 2160.3 L1352.2 2152.6 L1358.4 2118.5 L1364.6 2126.2 L1370.8 2121.6 L1377 2059.6 L1384.7 2016.3 L1392.5 2031.8 L1398.7 2050.4 L1404.9 2072 L1412.6 2103 L1418.2 2127.8 L1418.2 2231.5 L1412.6 2216.1 L1404.9 2177.3 L1398.7 2146.4 L1392.5 2103 L1386.3 2096.8 L1378.5 2137.1 L1373.9 2177.3 L1367.7 2211.4 L1363 2214.5 L1355.3 2189.7 L1346 2216.1 L1339.8 2225.4 L1333.6 2223.8 L1325.9 2216.1 L1319.7 2240.8 L1311.9 2268.7 L1305.7 2254.8 L1301.1 2250.1 L1294.9 2261 L1287.2 2279.6 L1279.4 2264.1 L1273.2 2256.3 L1265.5 2281.1 L1260.8 2295 L1253.1 2291.9Z" fill="#e6c9e2"/>
<path d="M1251.5 2276.5 C1252.3 2275.7 1254.6 2271.8 1256.2 2271.8 C1257.7 2271.8 1259 2279.8 1260.8 2276.5 C1262.6 2273.1 1264.7 2260.2 1267 2251.7 C1269.4 2243.2 1272.7 2227.9 1274.8 2225.4 C1276.8 2222.8 1277.6 2232.1 1279.4 2236.2 C1281.2 2240.3 1283.8 2250.6 1285.6 2250.1 C1287.4 2249.6 1288.5 2237.7 1290.3 2233.1 C1292.1 2228.4 1294.6 2222.8 1296.5 2222.3 C1298.3 2221.7 1299.6 2227.9 1301.1 2230 C1302.7 2232.1 1303.9 2237.2 1305.7 2234.6 C1307.6 2232.1 1309.9 2222 1311.9 2214.5 C1314 2207 1316.3 2195.7 1318.1 2189.7 C1319.9 2183.8 1321 2179.1 1322.8 2178.9 C1324.6 2178.6 1326.7 2185.3 1329 2188.2 C1331.3 2191 1334.4 2195.9 1336.7 2195.9 C1339 2195.9 1340.9 2189.5 1342.9 2188.2 C1345 2186.9 1347 2191.5 1349.1 2188.2 C1351.2 2184.8 1353.8 2172.4 1355.3 2168.1 C1356.9 2163.7 1356.9 2161.3 1358.4 2161.9 C1360 2162.4 1362.8 2169.9 1364.6 2171.1 C1366.4 2172.4 1368 2173.2 1369.2 2169.6 C1370.5 2166 1371.1 2160.6 1372.3 2149.5 C1373.6 2138.4 1375.4 2115.7 1377 2103 C1378.5 2090.4 1380 2080.9 1381.6 2073.6 C1383.3 2066.3 1385.1 2059.3 1386.9 2059 C1388.7 2058.8 1390.5 2067.8 1392.5 2072 C1394.4 2076.3 1396.9 2079.8 1398.7 2084.4 C1400.5 2089.1 1401.8 2092.7 1403.3 2099.9 C1404.9 2107.1 1406.2 2117.5 1408 2127.8 C1409.8 2138.1 1412.5 2153.6 1414.2 2161.9 C1415.9 2170.1 1417.5 2174.8 1418.2 2177.3" fill="none" stroke="#b04aa0" stroke-width="3"/>
<line x1="1373.3" y1="2016.3" x2="1373.3" y2="2287.3" stroke="#111" stroke-width="3" stroke-dasharray="3.2 3.2"/>
<text transform="translate(1404.5 2244) rotate(-90)" text-anchor="middle" font-size="29.4">Escape</text>
<line x1="1330.5" y1="2059" x2="1330.5" y2="2109.8" stroke="#111" stroke-width="2.2"/>
<text x="1244.5" y="2093.1">0.5 Z</text>
<line x1="1282.5" y1="2308.4" x2="1358.4" y2="2308.4" stroke="#111" stroke-width="2.2"/>
<text x="1317" y="2343" text-anchor="middle">4 s</text>
<g transform="translate(1500 960) scale(0.32964)">
<path d="M870 525 C860 545 850 560 830 575 C790 600 765 630 768 660 C772 700 820 750 860 790 C866 796 872 796 878 790 C910 750 960 700 965 660 C968 630 940 600 905 575 C885 560 878 545 870 525 Z" fill="#d9d9d9" stroke="#111" stroke-width="6.4"/>
<path d="M868 575 C905 575 930 610 930 650 C930 690 905 725 868 725 C831 725 806 690 806 650 C806 610 831 575 868 575 Z" fill="#fff" stroke="#111" stroke-width="6.4"/>
<path d="M880 282 C800 215 600 195 470 250 C380 290 345 420 345 530 C345 620 420 680 480 680 C560 680 620 640 655 580 M855 278 L728 466 L652 588 C612 660 600 760 660 830 C720 890 800 910 840 945 M920 278 L1052 492 L1100 590 C1140 660 1150 760 1090 830 C1030 890 940 910 880 945 M880 282 C940 240 1050 225 1120 228 C1250 235 1370 330 1410 460 C1430 520 1425 600 1390 650 C1350 700 1270 705 1200 680 C1150 660 1115 620 1100 590 M345 535 C380 620 395 700 390 800 C385 880 360 930 335 960 M472 690 C470 760 460 810 440 850 M1420 540 C1430 620 1420 720 1405 800 C1395 870 1405 920 1415 960 M1272 720 C1280 780 1300 830 1332 865 M728 466 C780 420 840 408 880 410 C950 412 1010 440 1052 492 M728 466 L818 570 M1052 492 L922 578" fill="none" stroke="#111" stroke-width="6.4" stroke-linecap="round"/>
<circle cx="987" cy="472" r="28" fill="#a0cbef" stroke="#222" stroke-width="3.0"/>
</g>
<text x="1884" y="1277.1">-4.96</text>
<g transform="translate(1560 1300) scale(0.29647)">
<path d="M625 72 C530 40 380 60 290 130 C190 210 135 350 135 440 C135 510 200 555 300 560 C390 562 460 510 500 440 C520 400 540 360 555 340 M625 72 C600 95 545 115 525 160 C505 200 520 260 540 290 C550 310 550 330 555 340 M625 72 C650 110 700 115 760 113 C820 110 870 80 920 78 M920 78 C925 110 960 130 990 160 C1010 200 1000 260 980 300 C970 320 965 340 965 345 M545 340 C500 400 470 460 468 540 C466 620 500 670 560 710 C640 760 720 790 740 830 M965 345 C1000 400 1025 480 1028 560 C1030 640 990 690 920 730 C850 770 780 800 765 830 M920 78 C1000 60 1150 90 1240 170 C1330 260 1385 380 1385 470 C1385 550 1330 580 1250 580 C1150 580 1060 520 1010 440 C990 400 975 370 965 345 M138 490 C170 560 190 640 190 720 C190 790 175 840 165 870 M1385 480 C1392 560 1380 640 1362 700 C1350 760 1370 820 1400 870 M555 340 C620 300 700 288 760 288 C840 288 900 305 945 340 M562 342 L690 450 M915 340 L805 450 M750 385 C740 400 730 420 715 430 C690 445 678 460 678 480 C680 520 720 580 740 605 C750 615 762 615 770 605 C790 570 820 520 820 480 C820 460 805 445 790 430 C775 415 760 400 750 385 Z" fill="none" stroke="#111" stroke-width="7.1" stroke-linecap="round"/>
<path d="M545 187 C620 170 680 158 745 155 M780 155 C850 155 920 170 975 188 M505 230 C600 212 700 198 760 198 C850 200 950 230 1050 255 M500 245 C600 226 700 212 760 212 C850 214 950 242 1045 268 M490 262 C600 240 700 226 760 226 C850 228 950 258 1040 285 M565 300 C640 262 720 244 780 244 C860 248 920 280 950 305" fill="none" stroke="#444" stroke-width="3.7"/>
<circle cx="880" cy="332" r="30" fill="#a0cbef" stroke="#222" stroke-width="3.4"/>
</g>
<text x="1884.5" y="1553.5">-4.84</text>
<g transform="translate(1560 1580) scale(0.29647)">
<path d="M430 155 C470 110 550 68 630 65 C700 62 750 90 765 130 C770 155 768 180 768 195 M770 190 C775 130 810 95 880 78 C960 65 1050 90 1110 150 C1130 175 1150 200 1160 210 M430 155 C360 175 300 215 250 290 C200 370 160 450 140 540 C130 600 135 660 135 710 M345 215 C370 205 395 215 405 245 C410 290 400 350 420 420 C440 480 470 520 505 555 M1160 260 C1180 250 1205 250 1195 260 C1175 280 1168 330 1165 390 C1160 460 1110 520 1035 548 M1160 210 C1250 250 1320 320 1370 400 C1410 480 1420 580 1425 710 M440 183 C500 160 580 140 650 135 C700 133 735 160 752 205 M420 280 C480 250 560 220 640 208 C680 203 710 200 725 200 M785 195 C810 150 860 135 910 135 C1000 140 1080 180 1130 220 M910 210 C980 240 1060 275 1145 315 M505 400 C580 350 680 315 760 315 C880 318 980 370 1050 440 M540 440 C600 380 680 340 760 340 C860 342 950 390 1000 440 M540 440 C515 470 505 520 505 580 C505 640 515 690 540 720 C580 745 640 760 695 770 M1000 440 C1020 480 1035 540 1035 600 C1035 650 1020 690 1000 710 C950 735 870 755 815 770 M540 440 L715 520 M995 450 L815 520 M765 460 C755 480 735 505 715 518 C730 540 750 570 760 582 C765 588 770 588 772 582 C780 565 795 540 810 518 C795 505 775 480 765 460 Z" fill="none" stroke="#111" stroke-width="7.1" stroke-linecap="round"/>
<circle cx="833" cy="197" r="30" fill="#b0388f" stroke="#222" stroke-width="3.4"/>
<circle cx="883" cy="197" r="30" fill="#b0388f" stroke="#222" stroke-width="3.4"/>
<circle cx="827" cy="286" r="30" fill="#b0388f" stroke="#222" stroke-width="3.4"/>
<circle cx="903" cy="280" r="30" fill="#b0388f" stroke="#222" stroke-width="3.4"/>
</g>
<text x="1923" y="1787">-4.6</text>
<g transform="translate(1560 1840) scale(0.29647)">
<path d="M365 190 C390 130 450 75 540 50 C620 30 700 40 735 75 C755 100 752 140 752 180 M752 180 C758 120 790 70 860 50 C950 35 1050 70 1110 130 C1140 160 1165 190 1170 215 M365 190 C330 215 280 260 230 330 C180 410 160 490 158 560 C156 610 158 650 155 680 M370 192 C440 145 540 108 640 102 C700 100 735 130 750 175 M760 175 C790 140 840 122 900 120 C1000 122 1100 170 1170 215 M320 235 C320 290 350 350 400 400 C430 430 460 455 490 470 M1215 265 C1215 300 1180 350 1130 400 C1100 430 1060 460 1010 490 M1180 240 C1250 280 1320 350 1355 450 C1380 530 1385 620 1370 730 M330 275 C420 240 560 195 715 188 M850 205 C950 215 1080 255 1200 318 M450 430 C520 360 640 295 760 288 C880 285 1000 340 1060 460 M490 470 C540 380 640 310 760 305 C880 305 970 370 1010 470 M492 470 C488 500 495 535 510 565 C522 590 525 620 545 645 C575 680 630 698 685 700 M1008 480 C1012 520 1005 560 990 595 C975 630 965 650 940 670 C910 690 870 698 825 700 M545 385 L725 465 M965 410 L790 465 M757 420 C745 440 733 455 723 470 C735 490 745 505 752 518 C755 523 759 523 762 518 C770 505 780 490 790 470 C780 455 768 440 757 420 Z" fill="none" stroke="#111" stroke-width="7.1" stroke-linecap="round"/>
<circle cx="832" cy="230" r="31" fill="#b0388f" stroke="#222" stroke-width="3.4"/>
<circle cx="935" cy="240" r="31" fill="#b0388f" stroke="#222" stroke-width="3.4"/>
<circle cx="822" cy="363" r="31" fill="#a0cbef" stroke="#222" stroke-width="3.4"/>
</g>
<text x="1893.5" y="2045.2">-4.36</text>
<g transform="translate(1560 2080) scale(0.29647)">
<path d="M305 250 C330 180 400 110 490 60 C560 30 660 35 720 65 C750 85 750 150 750 205 M750 205 C755 140 770 80 850 55 C950 30 1040 90 1100 140 C1170 195 1215 245 1225 285 M305 250 C400 190 520 135 640 125 C700 122 730 160 748 205 M765 200 C790 150 830 122 880 122 C980 125 1100 190 1225 290 M300 265 C270 290 240 320 240 350 C245 380 250 400 255 420 C280 400 320 370 400 320 C500 265 600 230 725 245 M780 245 C900 235 1020 275 1130 340 C1200 385 1260 430 1280 455 C1300 430 1290 390 1270 360 C1255 330 1240 305 1225 290 M235 350 C200 390 160 480 145 570 C138 640 142 690 145 725 M1300 420 C1340 470 1375 550 1385 620 C1392 670 1388 700 1385 725 M305 378 C330 420 400 470 500 515 M1200 400 C1180 440 1120 490 1005 535 M482 432 C560 385 660 350 760 345 C880 345 990 410 1042 466 M535 460 C580 400 660 360 760 358 C860 360 950 410 1000 490 M535 460 C515 490 508 520 515 555 C525 600 535 630 535 650 C545 690 600 730 715 755 M1000 490 C1005 530 1000 570 985 600 C975 630 970 660 965 680 C940 720 880 745 820 757 M535 460 L730 528 M955 455 L780 522 M755 488 C745 500 735 512 730 530 C735 548 745 560 752 570 C755 574 758 574 760 570 C768 560 775 548 778 528 C773 512 763 500 755 488 Z" fill="none" stroke="#111" stroke-width="7.1" stroke-linecap="round"/>
<circle cx="925" cy="207" r="31" fill="#b0388f" stroke="#222" stroke-width="3.4"/>
<circle cx="850" cy="248" r="31" fill="#b0388f" stroke="#222" stroke-width="3.4"/>
</g>
<text x="1893.5" y="2300">-4.16</text>
<circle cx="1981.9" cy="1051.6" r="9.8" fill="#b0388f" stroke="#222" stroke-width="1"/>
<circle cx="1981.9" cy="1096.8" r="9.8" fill="#a0cbef" stroke="#222" stroke-width="1"/>
<text x="2004.5" y="1060.5">dmSC</text>
<text x="2004.5" y="1105">dPAG</text></svg></body></html>
